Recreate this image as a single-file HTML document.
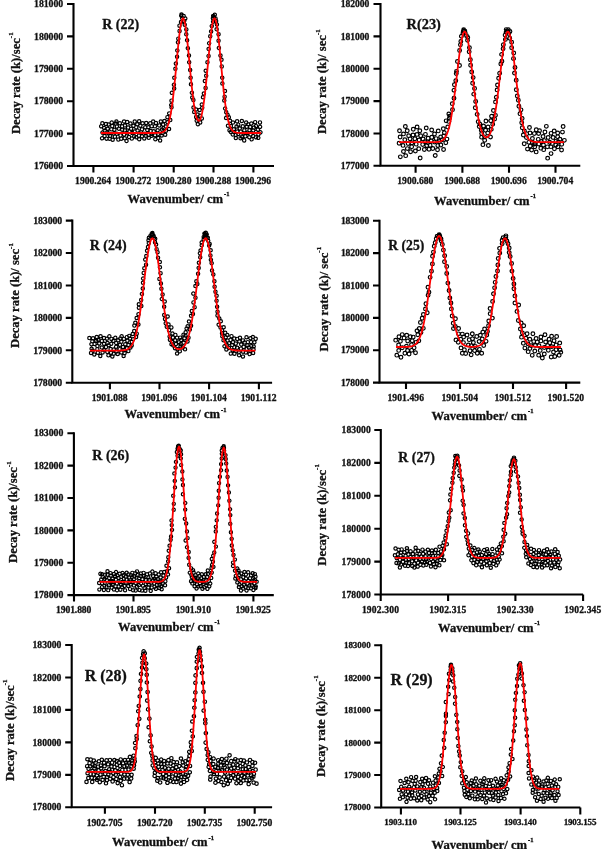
<!DOCTYPE html>
<html><head><meta charset="utf-8"><style>
html,body{margin:0;padding:0;background:#fff;width:602px;height:849px;overflow:hidden}
svg{display:block;filter:blur(0.35px)}
text{font-family:'Liberation Serif', serif;font-weight:bold;fill:#111;stroke:#111;stroke-width:0.3}
</style></head><body>
<svg width="602" height="849" viewBox="0 0 602 849">
<rect width="602" height="849" fill="#fff"/>
<path d='M99.52 126.29a1.65 1.65 0 1 0 3.3 0a1.65 1.65 0 1 0 -3.3 0M100.43 138.3a1.65 1.65 0 1 0 3.3 0a1.65 1.65 0 1 0 -3.3 0M100.85 132.57a1.65 1.65 0 1 0 3.3 0a1.65 1.65 0 1 0 -3.3 0M100.71 123.33a1.65 1.65 0 1 0 3.3 0a1.65 1.65 0 1 0 -3.3 0M102.48 128.05a1.65 1.65 0 1 0 3.3 0a1.65 1.65 0 1 0 -3.3 0M102.92 136.04a1.65 1.65 0 1 0 3.3 0a1.65 1.65 0 1 0 -3.3 0M103.1 130.47a1.65 1.65 0 1 0 3.3 0a1.65 1.65 0 1 0 -3.3 0M104.33 123.98a1.65 1.65 0 1 0 3.3 0a1.65 1.65 0 1 0 -3.3 0M104.89 138.63a1.65 1.65 0 1 0 3.3 0a1.65 1.65 0 1 0 -3.3 0M105.52 132.51a1.65 1.65 0 1 0 3.3 0a1.65 1.65 0 1 0 -3.3 0M106.06 128.75a1.65 1.65 0 1 0 3.3 0a1.65 1.65 0 1 0 -3.3 0M106.99 124.49a1.65 1.65 0 1 0 3.3 0a1.65 1.65 0 1 0 -3.3 0M107.02 133.58a1.65 1.65 0 1 0 3.3 0a1.65 1.65 0 1 0 -3.3 0M107.97 138.67a1.65 1.65 0 1 0 3.3 0a1.65 1.65 0 1 0 -3.3 0M108.48 135.98a1.65 1.65 0 1 0 3.3 0a1.65 1.65 0 1 0 -3.3 0M109.69 129.34a1.65 1.65 0 1 0 3.3 0a1.65 1.65 0 1 0 -3.3 0M110.08 122.59a1.65 1.65 0 1 0 3.3 0a1.65 1.65 0 1 0 -3.3 0M110.58 126.12a1.65 1.65 0 1 0 3.3 0a1.65 1.65 0 1 0 -3.3 0M111.01 139.81a1.65 1.65 0 1 0 3.3 0a1.65 1.65 0 1 0 -3.3 0M111.94 133.45a1.65 1.65 0 1 0 3.3 0a1.65 1.65 0 1 0 -3.3 0M112.74 129.82a1.65 1.65 0 1 0 3.3 0a1.65 1.65 0 1 0 -3.3 0M113.27 136.65a1.65 1.65 0 1 0 3.3 0a1.65 1.65 0 1 0 -3.3 0M114.73 121.49a1.65 1.65 0 1 0 3.3 0a1.65 1.65 0 1 0 -3.3 0M115.25 126.59a1.65 1.65 0 1 0 3.3 0a1.65 1.65 0 1 0 -3.3 0M114.06 123.55a1.65 1.65 0 1 0 3.3 0a1.65 1.65 0 1 0 -3.3 0M115.14 133.64a1.65 1.65 0 1 0 3.3 0a1.65 1.65 0 1 0 -3.3 0M116.67 139.61a1.65 1.65 0 1 0 3.3 0a1.65 1.65 0 1 0 -3.3 0M117.21 128.73a1.65 1.65 0 1 0 3.3 0a1.65 1.65 0 1 0 -3.3 0M118.2 123.25a1.65 1.65 0 1 0 3.3 0a1.65 1.65 0 1 0 -3.3 0M118.87 135.4a1.65 1.65 0 1 0 3.3 0a1.65 1.65 0 1 0 -3.3 0M120.49 126.35a1.65 1.65 0 1 0 3.3 0a1.65 1.65 0 1 0 -3.3 0M119.55 138.66a1.65 1.65 0 1 0 3.3 0a1.65 1.65 0 1 0 -3.3 0M120.58 129.82a1.65 1.65 0 1 0 3.3 0a1.65 1.65 0 1 0 -3.3 0M122.46 134.59a1.65 1.65 0 1 0 3.3 0a1.65 1.65 0 1 0 -3.3 0M122.43 121.46a1.65 1.65 0 1 0 3.3 0a1.65 1.65 0 1 0 -3.3 0M123.11 138.2a1.65 1.65 0 1 0 3.3 0a1.65 1.65 0 1 0 -3.3 0M123.19 130.33a1.65 1.65 0 1 0 3.3 0a1.65 1.65 0 1 0 -3.3 0M123.3 125.43a1.65 1.65 0 1 0 3.3 0a1.65 1.65 0 1 0 -3.3 0M124.87 140.96a1.65 1.65 0 1 0 3.3 0a1.65 1.65 0 1 0 -3.3 0M125.51 133.28a1.65 1.65 0 1 0 3.3 0a1.65 1.65 0 1 0 -3.3 0M125.51 122.04a1.65 1.65 0 1 0 3.3 0a1.65 1.65 0 1 0 -3.3 0M126.46 127.6a1.65 1.65 0 1 0 3.3 0a1.65 1.65 0 1 0 -3.3 0M127.43 137.04a1.65 1.65 0 1 0 3.3 0a1.65 1.65 0 1 0 -3.3 0M127.66 131.46a1.65 1.65 0 1 0 3.3 0a1.65 1.65 0 1 0 -3.3 0M128.76 123.5a1.65 1.65 0 1 0 3.3 0a1.65 1.65 0 1 0 -3.3 0M129.52 128.78a1.65 1.65 0 1 0 3.3 0a1.65 1.65 0 1 0 -3.3 0M130.16 138.6a1.65 1.65 0 1 0 3.3 0a1.65 1.65 0 1 0 -3.3 0M130.56 133.1a1.65 1.65 0 1 0 3.3 0a1.65 1.65 0 1 0 -3.3 0M131.78 125.71a1.65 1.65 0 1 0 3.3 0a1.65 1.65 0 1 0 -3.3 0M132.6 136.18a1.65 1.65 0 1 0 3.3 0a1.65 1.65 0 1 0 -3.3 0M132.98 131.44a1.65 1.65 0 1 0 3.3 0a1.65 1.65 0 1 0 -3.3 0M133.08 121.6a1.65 1.65 0 1 0 3.3 0a1.65 1.65 0 1 0 -3.3 0M134.53 127.35a1.65 1.65 0 1 0 3.3 0a1.65 1.65 0 1 0 -3.3 0M134.58 137.14a1.65 1.65 0 1 0 3.3 0a1.65 1.65 0 1 0 -3.3 0M135.94 130.44a1.65 1.65 0 1 0 3.3 0a1.65 1.65 0 1 0 -3.3 0M135.63 124.2a1.65 1.65 0 1 0 3.3 0a1.65 1.65 0 1 0 -3.3 0M137.3 135.64a1.65 1.65 0 1 0 3.3 0a1.65 1.65 0 1 0 -3.3 0M137.5 121.25a1.65 1.65 0 1 0 3.3 0a1.65 1.65 0 1 0 -3.3 0M137.55 139.23a1.65 1.65 0 1 0 3.3 0a1.65 1.65 0 1 0 -3.3 0M138.69 125.7a1.65 1.65 0 1 0 3.3 0a1.65 1.65 0 1 0 -3.3 0M139.54 132.41a1.65 1.65 0 1 0 3.3 0a1.65 1.65 0 1 0 -3.3 0M140.32 136.21a1.65 1.65 0 1 0 3.3 0a1.65 1.65 0 1 0 -3.3 0M140.37 129.35a1.65 1.65 0 1 0 3.3 0a1.65 1.65 0 1 0 -3.3 0M140.97 123.32a1.65 1.65 0 1 0 3.3 0a1.65 1.65 0 1 0 -3.3 0M142.29 133.63a1.65 1.65 0 1 0 3.3 0a1.65 1.65 0 1 0 -3.3 0M142.63 138.4a1.65 1.65 0 1 0 3.3 0a1.65 1.65 0 1 0 -3.3 0M143.65 127.29a1.65 1.65 0 1 0 3.3 0a1.65 1.65 0 1 0 -3.3 0M144.58 122.95a1.65 1.65 0 1 0 3.3 0a1.65 1.65 0 1 0 -3.3 0M144.05 135.68a1.65 1.65 0 1 0 3.3 0a1.65 1.65 0 1 0 -3.3 0M145.67 130.05a1.65 1.65 0 1 0 3.3 0a1.65 1.65 0 1 0 -3.3 0M146.82 135.02a1.65 1.65 0 1 0 3.3 0a1.65 1.65 0 1 0 -3.3 0M146.73 127.27a1.65 1.65 0 1 0 3.3 0a1.65 1.65 0 1 0 -3.3 0M147.15 137.85a1.65 1.65 0 1 0 3.3 0a1.65 1.65 0 1 0 -3.3 0M148.6 123.34a1.65 1.65 0 1 0 3.3 0a1.65 1.65 0 1 0 -3.3 0M149.02 130.93a1.65 1.65 0 1 0 3.3 0a1.65 1.65 0 1 0 -3.3 0M150.01 135.83a1.65 1.65 0 1 0 3.3 0a1.65 1.65 0 1 0 -3.3 0M150.06 126.15a1.65 1.65 0 1 0 3.3 0a1.65 1.65 0 1 0 -3.3 0M150.16 134.01a1.65 1.65 0 1 0 3.3 0a1.65 1.65 0 1 0 -3.3 0M151.51 121.53a1.65 1.65 0 1 0 3.3 0a1.65 1.65 0 1 0 -3.3 0M152.01 131.37a1.65 1.65 0 1 0 3.3 0a1.65 1.65 0 1 0 -3.3 0M153.29 126.34a1.65 1.65 0 1 0 3.3 0a1.65 1.65 0 1 0 -3.3 0M153.67 139.22a1.65 1.65 0 1 0 3.3 0a1.65 1.65 0 1 0 -3.3 0M153.43 135.2a1.65 1.65 0 1 0 3.3 0a1.65 1.65 0 1 0 -3.3 0M154.32 123.06a1.65 1.65 0 1 0 3.3 0a1.65 1.65 0 1 0 -3.3 0M156.03 130.21a1.65 1.65 0 1 0 3.3 0a1.65 1.65 0 1 0 -3.3 0M156.59 133.84a1.65 1.65 0 1 0 3.3 0a1.65 1.65 0 1 0 -3.3 0M156.6 137.97a1.65 1.65 0 1 0 3.3 0a1.65 1.65 0 1 0 -3.3 0M157.59 125.42a1.65 1.65 0 1 0 3.3 0a1.65 1.65 0 1 0 -3.3 0M158.48 140.43a1.65 1.65 0 1 0 3.3 0a1.65 1.65 0 1 0 -3.3 0M159.17 121.49a1.65 1.65 0 1 0 3.3 0a1.65 1.65 0 1 0 -3.3 0M160.04 135.48a1.65 1.65 0 1 0 3.3 0a1.65 1.65 0 1 0 -3.3 0M160.4 129.59a1.65 1.65 0 1 0 3.3 0a1.65 1.65 0 1 0 -3.3 0M160.89 133.05a1.65 1.65 0 1 0 3.3 0a1.65 1.65 0 1 0 -3.3 0M161.48 124.62a1.65 1.65 0 1 0 3.3 0a1.65 1.65 0 1 0 -3.3 0M162.81 120.95a1.65 1.65 0 1 0 3.3 0a1.65 1.65 0 1 0 -3.3 0M161.82 128.13a1.65 1.65 0 1 0 3.3 0a1.65 1.65 0 1 0 -3.3 0M163.55 134.77a1.65 1.65 0 1 0 3.3 0a1.65 1.65 0 1 0 -3.3 0M164.3 130.67a1.65 1.65 0 1 0 3.3 0a1.65 1.65 0 1 0 -3.3 0M164.24 126.53a1.65 1.65 0 1 0 3.3 0a1.65 1.65 0 1 0 -3.3 0M165.79 117.13a1.65 1.65 0 1 0 3.3 0a1.65 1.65 0 1 0 -3.3 0M165.97 122.31a1.65 1.65 0 1 0 3.3 0a1.65 1.65 0 1 0 -3.3 0M167.4 129.01a1.65 1.65 0 1 0 3.3 0a1.65 1.65 0 1 0 -3.3 0M167.57 113.38a1.65 1.65 0 1 0 3.3 0a1.65 1.65 0 1 0 -3.3 0M168.64 120.1a1.65 1.65 0 1 0 3.3 0a1.65 1.65 0 1 0 -3.3 0M169.58 105.01a1.65 1.65 0 1 0 3.3 0a1.65 1.65 0 1 0 -3.3 0M169.83 100.63a1.65 1.65 0 1 0 3.3 0a1.65 1.65 0 1 0 -3.3 0M169.87 107.21a1.65 1.65 0 1 0 3.3 0a1.65 1.65 0 1 0 -3.3 0M170.22 92.83a1.65 1.65 0 1 0 3.3 0a1.65 1.65 0 1 0 -3.3 0M172.53 88.49a1.65 1.65 0 1 0 3.3 0a1.65 1.65 0 1 0 -3.3 0M172.27 84.75a1.65 1.65 0 1 0 3.3 0a1.65 1.65 0 1 0 -3.3 0M172.65 77.8a1.65 1.65 0 1 0 3.3 0a1.65 1.65 0 1 0 -3.3 0M173.73 68.85a1.65 1.65 0 1 0 3.3 0a1.65 1.65 0 1 0 -3.3 0M174.23 63.62a1.65 1.65 0 1 0 3.3 0a1.65 1.65 0 1 0 -3.3 0M175.42 56.78a1.65 1.65 0 1 0 3.3 0a1.65 1.65 0 1 0 -3.3 0M175.68 50.39a1.65 1.65 0 1 0 3.3 0a1.65 1.65 0 1 0 -3.3 0M176.34 42.3a1.65 1.65 0 1 0 3.3 0a1.65 1.65 0 1 0 -3.3 0M176.65 38.63a1.65 1.65 0 1 0 3.3 0a1.65 1.65 0 1 0 -3.3 0M177.91 30.92a1.65 1.65 0 1 0 3.3 0a1.65 1.65 0 1 0 -3.3 0M177.83 25.64a1.65 1.65 0 1 0 3.3 0a1.65 1.65 0 1 0 -3.3 0M179.35 22.09a1.65 1.65 0 1 0 3.3 0a1.65 1.65 0 1 0 -3.3 0M180.45 18.04a1.65 1.65 0 1 0 3.3 0a1.65 1.65 0 1 0 -3.3 0M179.59 15.77a1.65 1.65 0 1 0 3.3 0a1.65 1.65 0 1 0 -3.3 0M179.79 14.61a1.65 1.65 0 1 0 3.3 0a1.65 1.65 0 1 0 -3.3 0M182 16.08a1.65 1.65 0 1 0 3.3 0a1.65 1.65 0 1 0 -3.3 0M183.64 18.39a1.65 1.65 0 1 0 3.3 0a1.65 1.65 0 1 0 -3.3 0M182.53 21.07a1.65 1.65 0 1 0 3.3 0a1.65 1.65 0 1 0 -3.3 0M183.08 24.7a1.65 1.65 0 1 0 3.3 0a1.65 1.65 0 1 0 -3.3 0M184.67 29.41a1.65 1.65 0 1 0 3.3 0a1.65 1.65 0 1 0 -3.3 0M184.62 34.33a1.65 1.65 0 1 0 3.3 0a1.65 1.65 0 1 0 -3.3 0M185.46 40.18a1.65 1.65 0 1 0 3.3 0a1.65 1.65 0 1 0 -3.3 0M186.21 48.16a1.65 1.65 0 1 0 3.3 0a1.65 1.65 0 1 0 -3.3 0M187.31 55.57a1.65 1.65 0 1 0 3.3 0a1.65 1.65 0 1 0 -3.3 0M187.52 62.27a1.65 1.65 0 1 0 3.3 0a1.65 1.65 0 1 0 -3.3 0M188.53 69.93a1.65 1.65 0 1 0 3.3 0a1.65 1.65 0 1 0 -3.3 0M188.97 77.78a1.65 1.65 0 1 0 3.3 0a1.65 1.65 0 1 0 -3.3 0M189.3 84.3a1.65 1.65 0 1 0 3.3 0a1.65 1.65 0 1 0 -3.3 0M190.24 92.73a1.65 1.65 0 1 0 3.3 0a1.65 1.65 0 1 0 -3.3 0M190.59 97.45a1.65 1.65 0 1 0 3.3 0a1.65 1.65 0 1 0 -3.3 0M191.74 100.09a1.65 1.65 0 1 0 3.3 0a1.65 1.65 0 1 0 -3.3 0M191.84 107.57a1.65 1.65 0 1 0 3.3 0a1.65 1.65 0 1 0 -3.3 0M192.53 112.04a1.65 1.65 0 1 0 3.3 0a1.65 1.65 0 1 0 -3.3 0M194.47 116.9a1.65 1.65 0 1 0 3.3 0a1.65 1.65 0 1 0 -3.3 0M194.39 109.53a1.65 1.65 0 1 0 3.3 0a1.65 1.65 0 1 0 -3.3 0M195.06 120.67a1.65 1.65 0 1 0 3.3 0a1.65 1.65 0 1 0 -3.3 0M196.01 114.43a1.65 1.65 0 1 0 3.3 0a1.65 1.65 0 1 0 -3.3 0M196.21 124.14a1.65 1.65 0 1 0 3.3 0a1.65 1.65 0 1 0 -3.3 0M196.98 119.56a1.65 1.65 0 1 0 3.3 0a1.65 1.65 0 1 0 -3.3 0M197.97 109.99a1.65 1.65 0 1 0 3.3 0a1.65 1.65 0 1 0 -3.3 0M198.57 122.42a1.65 1.65 0 1 0 3.3 0a1.65 1.65 0 1 0 -3.3 0M198.52 115.71a1.65 1.65 0 1 0 3.3 0a1.65 1.65 0 1 0 -3.3 0M200.19 118.39a1.65 1.65 0 1 0 3.3 0a1.65 1.65 0 1 0 -3.3 0M200.14 104.48a1.65 1.65 0 1 0 3.3 0a1.65 1.65 0 1 0 -3.3 0M200.58 107.76a1.65 1.65 0 1 0 3.3 0a1.65 1.65 0 1 0 -3.3 0M201.33 97.28a1.65 1.65 0 1 0 3.3 0a1.65 1.65 0 1 0 -3.3 0M202.25 93.46a1.65 1.65 0 1 0 3.3 0a1.65 1.65 0 1 0 -3.3 0M203.93 87.97a1.65 1.65 0 1 0 3.3 0a1.65 1.65 0 1 0 -3.3 0M203.2 81.04a1.65 1.65 0 1 0 3.3 0a1.65 1.65 0 1 0 -3.3 0M204.53 75.72a1.65 1.65 0 1 0 3.3 0a1.65 1.65 0 1 0 -3.3 0M204.06 70.77a1.65 1.65 0 1 0 3.3 0a1.65 1.65 0 1 0 -3.3 0M205.79 62.3a1.65 1.65 0 1 0 3.3 0a1.65 1.65 0 1 0 -3.3 0M206.91 56.03a1.65 1.65 0 1 0 3.3 0a1.65 1.65 0 1 0 -3.3 0M207.01 48.96a1.65 1.65 0 1 0 3.3 0a1.65 1.65 0 1 0 -3.3 0M207.49 43.28a1.65 1.65 0 1 0 3.3 0a1.65 1.65 0 1 0 -3.3 0M208.59 36.31a1.65 1.65 0 1 0 3.3 0a1.65 1.65 0 1 0 -3.3 0M209.49 31.43a1.65 1.65 0 1 0 3.3 0a1.65 1.65 0 1 0 -3.3 0M210.14 26.1a1.65 1.65 0 1 0 3.3 0a1.65 1.65 0 1 0 -3.3 0M211.47 21.65a1.65 1.65 0 1 0 3.3 0a1.65 1.65 0 1 0 -3.3 0M211.25 18.17a1.65 1.65 0 1 0 3.3 0a1.65 1.65 0 1 0 -3.3 0M211.52 15.9a1.65 1.65 0 1 0 3.3 0a1.65 1.65 0 1 0 -3.3 0M212.43 17.04a1.65 1.65 0 1 0 3.3 0a1.65 1.65 0 1 0 -3.3 0M213.12 14.71a1.65 1.65 0 1 0 3.3 0a1.65 1.65 0 1 0 -3.3 0M213.88 18.41a1.65 1.65 0 1 0 3.3 0a1.65 1.65 0 1 0 -3.3 0M214.48 20.92a1.65 1.65 0 1 0 3.3 0a1.65 1.65 0 1 0 -3.3 0M215.25 24.51a1.65 1.65 0 1 0 3.3 0a1.65 1.65 0 1 0 -3.3 0M215 29.18a1.65 1.65 0 1 0 3.3 0a1.65 1.65 0 1 0 -3.3 0M216.92 34.3a1.65 1.65 0 1 0 3.3 0a1.65 1.65 0 1 0 -3.3 0M216.89 40.81a1.65 1.65 0 1 0 3.3 0a1.65 1.65 0 1 0 -3.3 0M217.26 47.96a1.65 1.65 0 1 0 3.3 0a1.65 1.65 0 1 0 -3.3 0M218.83 55.56a1.65 1.65 0 1 0 3.3 0a1.65 1.65 0 1 0 -3.3 0M219.84 59.86a1.65 1.65 0 1 0 3.3 0a1.65 1.65 0 1 0 -3.3 0M220.1 66.4a1.65 1.65 0 1 0 3.3 0a1.65 1.65 0 1 0 -3.3 0M220.6 77.71a1.65 1.65 0 1 0 3.3 0a1.65 1.65 0 1 0 -3.3 0M220.72 83.59a1.65 1.65 0 1 0 3.3 0a1.65 1.65 0 1 0 -3.3 0M223.3 91.06a1.65 1.65 0 1 0 3.3 0a1.65 1.65 0 1 0 -3.3 0M222.97 96.64a1.65 1.65 0 1 0 3.3 0a1.65 1.65 0 1 0 -3.3 0M222.63 100.47a1.65 1.65 0 1 0 3.3 0a1.65 1.65 0 1 0 -3.3 0M223.48 108.47a1.65 1.65 0 1 0 3.3 0a1.65 1.65 0 1 0 -3.3 0M224.58 112.32a1.65 1.65 0 1 0 3.3 0a1.65 1.65 0 1 0 -3.3 0M224.43 118.04a1.65 1.65 0 1 0 3.3 0a1.65 1.65 0 1 0 -3.3 0M225.96 114.93a1.65 1.65 0 1 0 3.3 0a1.65 1.65 0 1 0 -3.3 0M226.32 125.84a1.65 1.65 0 1 0 3.3 0a1.65 1.65 0 1 0 -3.3 0M227.83 130.35a1.65 1.65 0 1 0 3.3 0a1.65 1.65 0 1 0 -3.3 0M228.37 120.69a1.65 1.65 0 1 0 3.3 0a1.65 1.65 0 1 0 -3.3 0M227.2 117.13a1.65 1.65 0 1 0 3.3 0a1.65 1.65 0 1 0 -3.3 0M229.25 125.97a1.65 1.65 0 1 0 3.3 0a1.65 1.65 0 1 0 -3.3 0M229.09 132.03a1.65 1.65 0 1 0 3.3 0a1.65 1.65 0 1 0 -3.3 0M231.12 134.48a1.65 1.65 0 1 0 3.3 0a1.65 1.65 0 1 0 -3.3 0M231.32 122.61a1.65 1.65 0 1 0 3.3 0a1.65 1.65 0 1 0 -3.3 0M232.18 129.32a1.65 1.65 0 1 0 3.3 0a1.65 1.65 0 1 0 -3.3 0M232.04 131.98a1.65 1.65 0 1 0 3.3 0a1.65 1.65 0 1 0 -3.3 0M234.16 137.99a1.65 1.65 0 1 0 3.3 0a1.65 1.65 0 1 0 -3.3 0M234.92 126.52a1.65 1.65 0 1 0 3.3 0a1.65 1.65 0 1 0 -3.3 0M234.05 135.04a1.65 1.65 0 1 0 3.3 0a1.65 1.65 0 1 0 -3.3 0M235.44 121.35a1.65 1.65 0 1 0 3.3 0a1.65 1.65 0 1 0 -3.3 0M235.58 131.57a1.65 1.65 0 1 0 3.3 0a1.65 1.65 0 1 0 -3.3 0M236.58 133.97a1.65 1.65 0 1 0 3.3 0a1.65 1.65 0 1 0 -3.3 0M236.63 124.67a1.65 1.65 0 1 0 3.3 0a1.65 1.65 0 1 0 -3.3 0M238.86 138.29a1.65 1.65 0 1 0 3.3 0a1.65 1.65 0 1 0 -3.3 0M238.11 128.53a1.65 1.65 0 1 0 3.3 0a1.65 1.65 0 1 0 -3.3 0M239.12 131.64a1.65 1.65 0 1 0 3.3 0a1.65 1.65 0 1 0 -3.3 0M240.19 121.07a1.65 1.65 0 1 0 3.3 0a1.65 1.65 0 1 0 -3.3 0M240.28 136.73a1.65 1.65 0 1 0 3.3 0a1.65 1.65 0 1 0 -3.3 0M241.16 126.37a1.65 1.65 0 1 0 3.3 0a1.65 1.65 0 1 0 -3.3 0M241.66 133.28a1.65 1.65 0 1 0 3.3 0a1.65 1.65 0 1 0 -3.3 0M242.55 140.38a1.65 1.65 0 1 0 3.3 0a1.65 1.65 0 1 0 -3.3 0M242.7 130.24a1.65 1.65 0 1 0 3.3 0a1.65 1.65 0 1 0 -3.3 0M243.73 136.33a1.65 1.65 0 1 0 3.3 0a1.65 1.65 0 1 0 -3.3 0M244.52 122.47a1.65 1.65 0 1 0 3.3 0a1.65 1.65 0 1 0 -3.3 0M245.12 126.79a1.65 1.65 0 1 0 3.3 0a1.65 1.65 0 1 0 -3.3 0M245.99 132.83a1.65 1.65 0 1 0 3.3 0a1.65 1.65 0 1 0 -3.3 0M246.48 124.25a1.65 1.65 0 1 0 3.3 0a1.65 1.65 0 1 0 -3.3 0M247.68 137.15a1.65 1.65 0 1 0 3.3 0a1.65 1.65 0 1 0 -3.3 0M247.81 130.26a1.65 1.65 0 1 0 3.3 0a1.65 1.65 0 1 0 -3.3 0M248.57 127.02a1.65 1.65 0 1 0 3.3 0a1.65 1.65 0 1 0 -3.3 0M248.98 134.4a1.65 1.65 0 1 0 3.3 0a1.65 1.65 0 1 0 -3.3 0M249.71 123.54a1.65 1.65 0 1 0 3.3 0a1.65 1.65 0 1 0 -3.3 0M250.01 139.37a1.65 1.65 0 1 0 3.3 0a1.65 1.65 0 1 0 -3.3 0M251.58 130.38a1.65 1.65 0 1 0 3.3 0a1.65 1.65 0 1 0 -3.3 0M251.41 136.03a1.65 1.65 0 1 0 3.3 0a1.65 1.65 0 1 0 -3.3 0M252.28 127.6a1.65 1.65 0 1 0 3.3 0a1.65 1.65 0 1 0 -3.3 0M253.5 122.14a1.65 1.65 0 1 0 3.3 0a1.65 1.65 0 1 0 -3.3 0M254.2 131.99a1.65 1.65 0 1 0 3.3 0a1.65 1.65 0 1 0 -3.3 0M254.46 137.3a1.65 1.65 0 1 0 3.3 0a1.65 1.65 0 1 0 -3.3 0M254.32 126.1a1.65 1.65 0 1 0 3.3 0a1.65 1.65 0 1 0 -3.3 0M256.21 129.63a1.65 1.65 0 1 0 3.3 0a1.65 1.65 0 1 0 -3.3 0M256.8 134.32a1.65 1.65 0 1 0 3.3 0a1.65 1.65 0 1 0 -3.3 0M256.64 137.85a1.65 1.65 0 1 0 3.3 0a1.65 1.65 0 1 0 -3.3 0M258.4 126.87a1.65 1.65 0 1 0 3.3 0a1.65 1.65 0 1 0 -3.3 0M258.33 122.38a1.65 1.65 0 1 0 3.3 0a1.65 1.65 0 1 0 -3.3 0M258.79 132.29a1.65 1.65 0 1 0 3.3 0a1.65 1.65 0 1 0 -3.3 0' fill='#fff' stroke='#000' stroke-width='1.2'/>
<path d='M101 133 101.54 133 102.07 133 102.61 133 103.14 133 103.68 133 104.21 133 104.75 133 105.28 133 105.82 133 106.35 133 106.89 133 107.42 133 107.96 133 108.49 133 109.03 133 109.56 133 110.1 133 110.63 133 111.17 133 111.7 133 112.24 133 112.77 133 113.31 133 113.84 133 114.38 133 114.91 133 115.45 133 115.98 133 116.52 133 117.05 133 117.59 133 118.12 133 118.66 133 119.19 133 119.73 133 120.26 133 120.8 133 121.33 133 121.87 133 122.4 133 122.94 133 123.47 133 124.01 133 124.55 133 125.08 133 125.62 133 126.15 133 126.69 133 127.22 133 127.76 133 128.29 133 128.83 133 129.36 133 129.9 133 130.43 133 130.97 133 131.5 133 132.04 133 132.57 133 133.11 133 133.64 133 134.18 133 134.71 133 135.25 133 135.78 133 136.32 133 136.85 133 137.39 133 137.92 133 138.46 133 138.99 133 139.53 133 140.06 133 140.6 133 141.13 133 141.67 133 142.2 133 142.74 133 143.27 133 143.81 133 144.34 133 144.88 133 145.41 133 145.95 133 146.48 133 147.02 133 147.56 133 148.09 133 148.63 133 149.16 133 149.7 133 150.23 133 150.77 133 151.3 133 151.84 133 152.37 133 152.91 133 153.44 133 153.98 132.99 154.51 132.99 155.05 132.99 155.58 132.98 156.12 132.98 156.65 132.97 157.19 132.96 157.72 132.94 158.26 132.92 158.79 132.89 159.33 132.85 159.86 132.8 160.4 132.73 160.93 132.64 161.47 132.52 162 132.38 162.54 132.19 163.07 131.96 163.61 131.66 164.14 131.29 164.68 130.84 165.21 130.29 165.75 129.61 166.28 128.8 166.82 127.82 167.35 126.67 167.89 125.31 168.42 123.72 168.96 121.87 169.49 119.75 170.03 117.33 170.57 114.6 171.1 111.53 171.64 108.12 172.17 104.37 172.71 100.27 173.24 95.84 173.78 91.09 174.31 86.06 174.85 80.78 175.38 75.29 175.92 69.66 176.45 63.95 176.99 58.23 177.52 52.59 178.06 47.1 178.59 41.86 179.13 36.96 179.66 32.47 180.2 28.48 180.73 25.07 181.27 22.3 181.8 20.23 182.34 18.89 182.87 18.32 183.41 18.52 183.94 19.5 184.48 21.23 185.01 23.67 185.55 26.78 186.08 30.5 186.62 34.75 187.15 39.47 187.69 44.55 188.22 49.93 188.76 55.49 189.29 61.17 189.83 66.87 190.36 72.52 190.9 78.04 191.43 83.37 191.97 88.46 192.51 93.25 193.04 97.72 193.58 101.82 194.11 105.55 194.65 108.88 195.18 111.8 195.72 114.31 196.25 116.41 196.79 118.1 197.32 119.38 197.86 120.26 198.39 120.73 198.93 120.8 199.46 120.46 200 119.73 200.53 118.58 201.07 117.03 201.6 115.07 202.14 112.7 202.67 109.92 203.21 106.73 203.74 103.13 204.28 99.16 204.81 94.81 205.35 90.12 205.88 85.13 206.42 79.88 206.95 74.41 207.49 68.8 208.02 63.11 208.56 57.42 209.09 51.8 209.63 46.36 210.16 41.16 210.7 36.31 211.23 31.89 211.77 27.98 212.3 24.66 212.84 21.98 213.37 20 213.91 18.77 214.44 18.3 214.98 18.61 215.52 19.69 216.05 21.52 216.59 24.05 217.12 27.25 217.66 31.05 218.19 35.38 218.73 40.15 219.26 45.29 219.8 50.7 220.33 56.3 220.87 62 221.4 67.72 221.94 73.39 222.47 78.93 223.01 84.29 223.54 89.41 224.08 94.26 224.61 98.8 225.15 103.01 225.68 106.88 226.22 110.41 226.75 113.59 227.29 116.44 227.82 118.96 228.36 121.18 228.89 123.12 229.43 124.79 229.96 126.23 230.5 127.45 231.03 128.49 231.57 129.35 232.1 130.07 232.64 130.66 233.17 131.15 233.71 131.54 234.24 131.86 234.78 132.12 235.31 132.32 235.85 132.48 236.38 132.6 236.92 132.7 237.45 132.78 237.99 132.83 238.53 132.88 239.06 132.91 239.6 132.93 240.13 132.95 240.67 132.97 241.2 132.98 241.74 132.98 242.27 132.99 242.81 132.99 243.34 132.99 243.88 133 244.41 133 244.95 133 245.48 133 246.02 133 246.55 133 247.09 133 247.62 133 248.16 133 248.69 133 249.23 133 249.76 133 250.3 133 250.83 133 251.37 133 251.9 133 252.44 133 252.97 133 253.51 133 254.04 133 254.58 133 255.11 133 255.65 133 256.18 133 256.72 133 257.25 133 257.79 133 258.32 133 258.86 133 259.39 133 259.93 133 260.46 133 261 133' fill='none' stroke='#f00' stroke-width='1.8'/>
<path d='M73.5 3V166H274' fill='none' stroke='#000' stroke-width='2.1'/>
<path d='M67 166H73.5M67 133.6H73.5M67 101.2H73.5M67 68.8H73.5M67 36.4H73.5M67 4H73.5M93.4 166V172.5M133.6 166V172.5M173.7 166V172.5M213.5 166V172.5M253.4 166V172.5' fill='none' stroke='#000' stroke-width='2.1'/>
<text x='34.12' y='169.23' font-size='9.8' textLength='28.98' lengthAdjust='spacing'>176000</text>
<text x='34.12' y='136.83' font-size='9.8' textLength='28.98' lengthAdjust='spacing'>177000</text>
<text x='34.12' y='104.43' font-size='9.8' textLength='28.98' lengthAdjust='spacing'>178000</text>
<text x='34.12' y='72.03' font-size='9.8' textLength='28.98' lengthAdjust='spacing'>179000</text>
<text x='34.12' y='39.63' font-size='9.8' textLength='28.98' lengthAdjust='spacing'>180000</text>
<text x='34.12' y='7.23' font-size='9.8' textLength='28.98' lengthAdjust='spacing'>181000</text>
<text x='75.08' y='183.8' font-size='9.6' textLength='36.06' lengthAdjust='spacing'>1900.264</text>
<text x='115.28' y='183.8' font-size='9.6' textLength='36.06' lengthAdjust='spacing'>1900.272</text>
<text x='155.38' y='183.8' font-size='9.6' textLength='36.06' lengthAdjust='spacing'>1900.280</text>
<text x='195.18' y='183.8' font-size='9.6' textLength='36.06' lengthAdjust='spacing'>1900.288</text>
<text x='235.08' y='183.8' font-size='9.6' textLength='36.06' lengthAdjust='spacing'>1900.296</text>
<text x='102.2' y='28.5' font-size='14' textLength='36.9' lengthAdjust='spacingAndGlyphs'>R (22)</text>
<text x='127.6' y='202.5' font-size='12.6'>Wavenumber/ cm<tspan font-size='6.5' dx='1' dy='-6.8'>-1</tspan></text>
<text transform='translate(19.8 134) rotate(-90)' font-size='12.6'>Decay rate (k)/sec<tspan font-size='7' dy='-6.5'>-1</tspan></text>
<path d='M397.24 143.28a1.85 1.85 0 1 0 3.7 0a1.85 1.85 0 1 0 -3.7 0M397.66 130.73a1.85 1.85 0 1 0 3.7 0a1.85 1.85 0 1 0 -3.7 0M398.49 156.85a1.85 1.85 0 1 0 3.7 0a1.85 1.85 0 1 0 -3.7 0M398.25 137.02a1.85 1.85 0 1 0 3.7 0a1.85 1.85 0 1 0 -3.7 0M401.15 145.38a1.85 1.85 0 1 0 3.7 0a1.85 1.85 0 1 0 -3.7 0M401.6 151.43a1.85 1.85 0 1 0 3.7 0a1.85 1.85 0 1 0 -3.7 0M401.64 133.88a1.85 1.85 0 1 0 3.7 0a1.85 1.85 0 1 0 -3.7 0M402.96 139.81a1.85 1.85 0 1 0 3.7 0a1.85 1.85 0 1 0 -3.7 0M403.49 126.43a1.85 1.85 0 1 0 3.7 0a1.85 1.85 0 1 0 -3.7 0M403.84 155.64a1.85 1.85 0 1 0 3.7 0a1.85 1.85 0 1 0 -3.7 0M405.39 130.69a1.85 1.85 0 1 0 3.7 0a1.85 1.85 0 1 0 -3.7 0M405.52 148.59a1.85 1.85 0 1 0 3.7 0a1.85 1.85 0 1 0 -3.7 0M406.28 143.62a1.85 1.85 0 1 0 3.7 0a1.85 1.85 0 1 0 -3.7 0M406.82 135.78a1.85 1.85 0 1 0 3.7 0a1.85 1.85 0 1 0 -3.7 0M408.22 138.84a1.85 1.85 0 1 0 3.7 0a1.85 1.85 0 1 0 -3.7 0M408.72 151.69a1.85 1.85 0 1 0 3.7 0a1.85 1.85 0 1 0 -3.7 0M409.82 146.76a1.85 1.85 0 1 0 3.7 0a1.85 1.85 0 1 0 -3.7 0M410.02 142.71a1.85 1.85 0 1 0 3.7 0a1.85 1.85 0 1 0 -3.7 0M411.16 135.06a1.85 1.85 0 1 0 3.7 0a1.85 1.85 0 1 0 -3.7 0M411.42 129.31a1.85 1.85 0 1 0 3.7 0a1.85 1.85 0 1 0 -3.7 0M413.06 138.75a1.85 1.85 0 1 0 3.7 0a1.85 1.85 0 1 0 -3.7 0M413.51 151.04a1.85 1.85 0 1 0 3.7 0a1.85 1.85 0 1 0 -3.7 0M414.36 144.17a1.85 1.85 0 1 0 3.7 0a1.85 1.85 0 1 0 -3.7 0M415.17 134.39a1.85 1.85 0 1 0 3.7 0a1.85 1.85 0 1 0 -3.7 0M415.24 127.02a1.85 1.85 0 1 0 3.7 0a1.85 1.85 0 1 0 -3.7 0M416.91 148.63a1.85 1.85 0 1 0 3.7 0a1.85 1.85 0 1 0 -3.7 0M418.32 158.01a1.85 1.85 0 1 0 3.7 0a1.85 1.85 0 1 0 -3.7 0M417.25 139.93a1.85 1.85 0 1 0 3.7 0a1.85 1.85 0 1 0 -3.7 0M417.98 130.69a1.85 1.85 0 1 0 3.7 0a1.85 1.85 0 1 0 -3.7 0M418.86 135.71a1.85 1.85 0 1 0 3.7 0a1.85 1.85 0 1 0 -3.7 0M420.81 144.56a1.85 1.85 0 1 0 3.7 0a1.85 1.85 0 1 0 -3.7 0M421.23 138.93a1.85 1.85 0 1 0 3.7 0a1.85 1.85 0 1 0 -3.7 0M422.48 149.56a1.85 1.85 0 1 0 3.7 0a1.85 1.85 0 1 0 -3.7 0M423.07 141.82a1.85 1.85 0 1 0 3.7 0a1.85 1.85 0 1 0 -3.7 0M423.59 134.37a1.85 1.85 0 1 0 3.7 0a1.85 1.85 0 1 0 -3.7 0M424.4 127.93a1.85 1.85 0 1 0 3.7 0a1.85 1.85 0 1 0 -3.7 0M424.95 145.55a1.85 1.85 0 1 0 3.7 0a1.85 1.85 0 1 0 -3.7 0M426.25 138.16a1.85 1.85 0 1 0 3.7 0a1.85 1.85 0 1 0 -3.7 0M426.02 142.78a1.85 1.85 0 1 0 3.7 0a1.85 1.85 0 1 0 -3.7 0M427.15 149.3a1.85 1.85 0 1 0 3.7 0a1.85 1.85 0 1 0 -3.7 0M428.26 145.25a1.85 1.85 0 1 0 3.7 0a1.85 1.85 0 1 0 -3.7 0M429.81 130.03a1.85 1.85 0 1 0 3.7 0a1.85 1.85 0 1 0 -3.7 0M429.3 140.9a1.85 1.85 0 1 0 3.7 0a1.85 1.85 0 1 0 -3.7 0M429.92 137.28a1.85 1.85 0 1 0 3.7 0a1.85 1.85 0 1 0 -3.7 0M430.95 148.53a1.85 1.85 0 1 0 3.7 0a1.85 1.85 0 1 0 -3.7 0M432.49 142.02a1.85 1.85 0 1 0 3.7 0a1.85 1.85 0 1 0 -3.7 0M432.67 134.05a1.85 1.85 0 1 0 3.7 0a1.85 1.85 0 1 0 -3.7 0M434.22 138.61a1.85 1.85 0 1 0 3.7 0a1.85 1.85 0 1 0 -3.7 0M433.4 155.47a1.85 1.85 0 1 0 3.7 0a1.85 1.85 0 1 0 -3.7 0M435.67 149.75a1.85 1.85 0 1 0 3.7 0a1.85 1.85 0 1 0 -3.7 0M436.4 130.91a1.85 1.85 0 1 0 3.7 0a1.85 1.85 0 1 0 -3.7 0M435.95 145.54a1.85 1.85 0 1 0 3.7 0a1.85 1.85 0 1 0 -3.7 0M437.51 141.52a1.85 1.85 0 1 0 3.7 0a1.85 1.85 0 1 0 -3.7 0M438.81 136.91a1.85 1.85 0 1 0 3.7 0a1.85 1.85 0 1 0 -3.7 0M439.02 145.04a1.85 1.85 0 1 0 3.7 0a1.85 1.85 0 1 0 -3.7 0M440.26 139.7a1.85 1.85 0 1 0 3.7 0a1.85 1.85 0 1 0 -3.7 0M441.72 149.52a1.85 1.85 0 1 0 3.7 0a1.85 1.85 0 1 0 -3.7 0M441.44 128.72a1.85 1.85 0 1 0 3.7 0a1.85 1.85 0 1 0 -3.7 0M441.94 135.9a1.85 1.85 0 1 0 3.7 0a1.85 1.85 0 1 0 -3.7 0M442.47 132.79a1.85 1.85 0 1 0 3.7 0a1.85 1.85 0 1 0 -3.7 0M443.95 142.87a1.85 1.85 0 1 0 3.7 0a1.85 1.85 0 1 0 -3.7 0M444.31 120.86a1.85 1.85 0 1 0 3.7 0a1.85 1.85 0 1 0 -3.7 0M445.09 139.08a1.85 1.85 0 1 0 3.7 0a1.85 1.85 0 1 0 -3.7 0M445.9 127.01a1.85 1.85 0 1 0 3.7 0a1.85 1.85 0 1 0 -3.7 0M447.05 121.42a1.85 1.85 0 1 0 3.7 0a1.85 1.85 0 1 0 -3.7 0M446.97 113.94a1.85 1.85 0 1 0 3.7 0a1.85 1.85 0 1 0 -3.7 0M447.51 118.32a1.85 1.85 0 1 0 3.7 0a1.85 1.85 0 1 0 -3.7 0M447.83 116.19a1.85 1.85 0 1 0 3.7 0a1.85 1.85 0 1 0 -3.7 0M450.43 103.64a1.85 1.85 0 1 0 3.7 0a1.85 1.85 0 1 0 -3.7 0M450.64 109.63a1.85 1.85 0 1 0 3.7 0a1.85 1.85 0 1 0 -3.7 0M452.13 98.21a1.85 1.85 0 1 0 3.7 0a1.85 1.85 0 1 0 -3.7 0M452.15 90.17a1.85 1.85 0 1 0 3.7 0a1.85 1.85 0 1 0 -3.7 0M452.55 84.71a1.85 1.85 0 1 0 3.7 0a1.85 1.85 0 1 0 -3.7 0M453.94 80.65a1.85 1.85 0 1 0 3.7 0a1.85 1.85 0 1 0 -3.7 0M454.44 73.53a1.85 1.85 0 1 0 3.7 0a1.85 1.85 0 1 0 -3.7 0M454.62 71.39a1.85 1.85 0 1 0 3.7 0a1.85 1.85 0 1 0 -3.7 0M455.58 61.5a1.85 1.85 0 1 0 3.7 0a1.85 1.85 0 1 0 -3.7 0M457.68 65.46a1.85 1.85 0 1 0 3.7 0a1.85 1.85 0 1 0 -3.7 0M457.75 50.53a1.85 1.85 0 1 0 3.7 0a1.85 1.85 0 1 0 -3.7 0M458.56 44.83a1.85 1.85 0 1 0 3.7 0a1.85 1.85 0 1 0 -3.7 0M458.98 41.39a1.85 1.85 0 1 0 3.7 0a1.85 1.85 0 1 0 -3.7 0M459.55 36.17a1.85 1.85 0 1 0 3.7 0a1.85 1.85 0 1 0 -3.7 0M461.12 33.2a1.85 1.85 0 1 0 3.7 0a1.85 1.85 0 1 0 -3.7 0M461.39 31.22a1.85 1.85 0 1 0 3.7 0a1.85 1.85 0 1 0 -3.7 0M461.84 29.64a1.85 1.85 0 1 0 3.7 0a1.85 1.85 0 1 0 -3.7 0M462.93 30.84a1.85 1.85 0 1 0 3.7 0a1.85 1.85 0 1 0 -3.7 0M463.32 32.61a1.85 1.85 0 1 0 3.7 0a1.85 1.85 0 1 0 -3.7 0M464.64 35.69a1.85 1.85 0 1 0 3.7 0a1.85 1.85 0 1 0 -3.7 0M465.88 37.41a1.85 1.85 0 1 0 3.7 0a1.85 1.85 0 1 0 -3.7 0M465.68 40.3a1.85 1.85 0 1 0 3.7 0a1.85 1.85 0 1 0 -3.7 0M467.58 47.63a1.85 1.85 0 1 0 3.7 0a1.85 1.85 0 1 0 -3.7 0M467.31 51.84a1.85 1.85 0 1 0 3.7 0a1.85 1.85 0 1 0 -3.7 0M468.49 59.76a1.85 1.85 0 1 0 3.7 0a1.85 1.85 0 1 0 -3.7 0M468.77 65.27a1.85 1.85 0 1 0 3.7 0a1.85 1.85 0 1 0 -3.7 0M469.86 72.07a1.85 1.85 0 1 0 3.7 0a1.85 1.85 0 1 0 -3.7 0M470.77 83.29a1.85 1.85 0 1 0 3.7 0a1.85 1.85 0 1 0 -3.7 0M471.3 77.59a1.85 1.85 0 1 0 3.7 0a1.85 1.85 0 1 0 -3.7 0M471.94 94.13a1.85 1.85 0 1 0 3.7 0a1.85 1.85 0 1 0 -3.7 0M472.73 88.4a1.85 1.85 0 1 0 3.7 0a1.85 1.85 0 1 0 -3.7 0M473.43 107.81a1.85 1.85 0 1 0 3.7 0a1.85 1.85 0 1 0 -3.7 0M473.83 101.5a1.85 1.85 0 1 0 3.7 0a1.85 1.85 0 1 0 -3.7 0M475.26 114.35a1.85 1.85 0 1 0 3.7 0a1.85 1.85 0 1 0 -3.7 0M476.36 121.67a1.85 1.85 0 1 0 3.7 0a1.85 1.85 0 1 0 -3.7 0M477.39 126.57a1.85 1.85 0 1 0 3.7 0a1.85 1.85 0 1 0 -3.7 0M478.04 124.11a1.85 1.85 0 1 0 3.7 0a1.85 1.85 0 1 0 -3.7 0M479.72 137.14a1.85 1.85 0 1 0 3.7 0a1.85 1.85 0 1 0 -3.7 0M479.42 130.17a1.85 1.85 0 1 0 3.7 0a1.85 1.85 0 1 0 -3.7 0M479.81 133.47a1.85 1.85 0 1 0 3.7 0a1.85 1.85 0 1 0 -3.7 0M481.75 126.04a1.85 1.85 0 1 0 3.7 0a1.85 1.85 0 1 0 -3.7 0M481.06 144.64a1.85 1.85 0 1 0 3.7 0a1.85 1.85 0 1 0 -3.7 0M482.85 140.25a1.85 1.85 0 1 0 3.7 0a1.85 1.85 0 1 0 -3.7 0M482.66 136.86a1.85 1.85 0 1 0 3.7 0a1.85 1.85 0 1 0 -3.7 0M484.09 121.01a1.85 1.85 0 1 0 3.7 0a1.85 1.85 0 1 0 -3.7 0M483.7 130.22a1.85 1.85 0 1 0 3.7 0a1.85 1.85 0 1 0 -3.7 0M485.91 132.94a1.85 1.85 0 1 0 3.7 0a1.85 1.85 0 1 0 -3.7 0M486.16 126.93a1.85 1.85 0 1 0 3.7 0a1.85 1.85 0 1 0 -3.7 0M486.53 145.56a1.85 1.85 0 1 0 3.7 0a1.85 1.85 0 1 0 -3.7 0M488.62 136.99a1.85 1.85 0 1 0 3.7 0a1.85 1.85 0 1 0 -3.7 0M488.94 120.7a1.85 1.85 0 1 0 3.7 0a1.85 1.85 0 1 0 -3.7 0M489.36 129.39a1.85 1.85 0 1 0 3.7 0a1.85 1.85 0 1 0 -3.7 0M489.74 116.22a1.85 1.85 0 1 0 3.7 0a1.85 1.85 0 1 0 -3.7 0M490.86 124.17a1.85 1.85 0 1 0 3.7 0a1.85 1.85 0 1 0 -3.7 0M491.58 110.54a1.85 1.85 0 1 0 3.7 0a1.85 1.85 0 1 0 -3.7 0M492.79 119.09a1.85 1.85 0 1 0 3.7 0a1.85 1.85 0 1 0 -3.7 0M493.61 115.37a1.85 1.85 0 1 0 3.7 0a1.85 1.85 0 1 0 -3.7 0M493.65 101.88a1.85 1.85 0 1 0 3.7 0a1.85 1.85 0 1 0 -3.7 0M494.48 97.23a1.85 1.85 0 1 0 3.7 0a1.85 1.85 0 1 0 -3.7 0M495.26 89.9a1.85 1.85 0 1 0 3.7 0a1.85 1.85 0 1 0 -3.7 0M495.63 85.07a1.85 1.85 0 1 0 3.7 0a1.85 1.85 0 1 0 -3.7 0M496.78 78.29a1.85 1.85 0 1 0 3.7 0a1.85 1.85 0 1 0 -3.7 0M497.81 73.25a1.85 1.85 0 1 0 3.7 0a1.85 1.85 0 1 0 -3.7 0M498.97 63.97a1.85 1.85 0 1 0 3.7 0a1.85 1.85 0 1 0 -3.7 0M500.06 61.18a1.85 1.85 0 1 0 3.7 0a1.85 1.85 0 1 0 -3.7 0M499.77 54.39a1.85 1.85 0 1 0 3.7 0a1.85 1.85 0 1 0 -3.7 0M501.23 48.82a1.85 1.85 0 1 0 3.7 0a1.85 1.85 0 1 0 -3.7 0M501.51 44.74a1.85 1.85 0 1 0 3.7 0a1.85 1.85 0 1 0 -3.7 0M503.54 39.39a1.85 1.85 0 1 0 3.7 0a1.85 1.85 0 1 0 -3.7 0M503.25 35.08a1.85 1.85 0 1 0 3.7 0a1.85 1.85 0 1 0 -3.7 0M504.3 32.31a1.85 1.85 0 1 0 3.7 0a1.85 1.85 0 1 0 -3.7 0M504.36 29.59a1.85 1.85 0 1 0 3.7 0a1.85 1.85 0 1 0 -3.7 0M505.2 30.86a1.85 1.85 0 1 0 3.7 0a1.85 1.85 0 1 0 -3.7 0M506.48 29.63a1.85 1.85 0 1 0 3.7 0a1.85 1.85 0 1 0 -3.7 0M506.96 33.4a1.85 1.85 0 1 0 3.7 0a1.85 1.85 0 1 0 -3.7 0M508.1 31.56a1.85 1.85 0 1 0 3.7 0a1.85 1.85 0 1 0 -3.7 0M507.92 38.23a1.85 1.85 0 1 0 3.7 0a1.85 1.85 0 1 0 -3.7 0M509.8 42.25a1.85 1.85 0 1 0 3.7 0a1.85 1.85 0 1 0 -3.7 0M509.8 47.74a1.85 1.85 0 1 0 3.7 0a1.85 1.85 0 1 0 -3.7 0M511.88 52.96a1.85 1.85 0 1 0 3.7 0a1.85 1.85 0 1 0 -3.7 0M511.65 58.62a1.85 1.85 0 1 0 3.7 0a1.85 1.85 0 1 0 -3.7 0M513.12 67.49a1.85 1.85 0 1 0 3.7 0a1.85 1.85 0 1 0 -3.7 0M512.65 73.06a1.85 1.85 0 1 0 3.7 0a1.85 1.85 0 1 0 -3.7 0M514.34 80.22a1.85 1.85 0 1 0 3.7 0a1.85 1.85 0 1 0 -3.7 0M514.45 89.71a1.85 1.85 0 1 0 3.7 0a1.85 1.85 0 1 0 -3.7 0M515.43 95.91a1.85 1.85 0 1 0 3.7 0a1.85 1.85 0 1 0 -3.7 0M516.46 100.3a1.85 1.85 0 1 0 3.7 0a1.85 1.85 0 1 0 -3.7 0M517.06 106.27a1.85 1.85 0 1 0 3.7 0a1.85 1.85 0 1 0 -3.7 0M518.13 113.65a1.85 1.85 0 1 0 3.7 0a1.85 1.85 0 1 0 -3.7 0M519.14 109.86a1.85 1.85 0 1 0 3.7 0a1.85 1.85 0 1 0 -3.7 0M519.87 122.8a1.85 1.85 0 1 0 3.7 0a1.85 1.85 0 1 0 -3.7 0M520.28 118.42a1.85 1.85 0 1 0 3.7 0a1.85 1.85 0 1 0 -3.7 0M520.41 127.73a1.85 1.85 0 1 0 3.7 0a1.85 1.85 0 1 0 -3.7 0M521.47 134.97a1.85 1.85 0 1 0 3.7 0a1.85 1.85 0 1 0 -3.7 0M522.55 131.06a1.85 1.85 0 1 0 3.7 0a1.85 1.85 0 1 0 -3.7 0M522.36 143.82a1.85 1.85 0 1 0 3.7 0a1.85 1.85 0 1 0 -3.7 0M524.57 137.62a1.85 1.85 0 1 0 3.7 0a1.85 1.85 0 1 0 -3.7 0M524.85 133.81a1.85 1.85 0 1 0 3.7 0a1.85 1.85 0 1 0 -3.7 0M525.62 149.12a1.85 1.85 0 1 0 3.7 0a1.85 1.85 0 1 0 -3.7 0M526.99 142.33a1.85 1.85 0 1 0 3.7 0a1.85 1.85 0 1 0 -3.7 0M527.62 127.45a1.85 1.85 0 1 0 3.7 0a1.85 1.85 0 1 0 -3.7 0M528.18 133.05a1.85 1.85 0 1 0 3.7 0a1.85 1.85 0 1 0 -3.7 0M528.34 146.12a1.85 1.85 0 1 0 3.7 0a1.85 1.85 0 1 0 -3.7 0M529.77 150.09a1.85 1.85 0 1 0 3.7 0a1.85 1.85 0 1 0 -3.7 0M530.56 138.45a1.85 1.85 0 1 0 3.7 0a1.85 1.85 0 1 0 -3.7 0M530.72 142.53a1.85 1.85 0 1 0 3.7 0a1.85 1.85 0 1 0 -3.7 0M532.46 133.58a1.85 1.85 0 1 0 3.7 0a1.85 1.85 0 1 0 -3.7 0M532.97 146.72a1.85 1.85 0 1 0 3.7 0a1.85 1.85 0 1 0 -3.7 0M532.5 144.17a1.85 1.85 0 1 0 3.7 0a1.85 1.85 0 1 0 -3.7 0M534.32 151.92a1.85 1.85 0 1 0 3.7 0a1.85 1.85 0 1 0 -3.7 0M534.4 129.77a1.85 1.85 0 1 0 3.7 0a1.85 1.85 0 1 0 -3.7 0M536.38 139.37a1.85 1.85 0 1 0 3.7 0a1.85 1.85 0 1 0 -3.7 0M536.99 144a1.85 1.85 0 1 0 3.7 0a1.85 1.85 0 1 0 -3.7 0M536.81 133.58a1.85 1.85 0 1 0 3.7 0a1.85 1.85 0 1 0 -3.7 0M537.69 130.64a1.85 1.85 0 1 0 3.7 0a1.85 1.85 0 1 0 -3.7 0M538.96 148.17a1.85 1.85 0 1 0 3.7 0a1.85 1.85 0 1 0 -3.7 0M539.57 141.51a1.85 1.85 0 1 0 3.7 0a1.85 1.85 0 1 0 -3.7 0M541.22 136.52a1.85 1.85 0 1 0 3.7 0a1.85 1.85 0 1 0 -3.7 0M541.6 145.01a1.85 1.85 0 1 0 3.7 0a1.85 1.85 0 1 0 -3.7 0M541.87 149.63a1.85 1.85 0 1 0 3.7 0a1.85 1.85 0 1 0 -3.7 0M543.07 131.93a1.85 1.85 0 1 0 3.7 0a1.85 1.85 0 1 0 -3.7 0M542.54 140.61a1.85 1.85 0 1 0 3.7 0a1.85 1.85 0 1 0 -3.7 0M544.49 126.33a1.85 1.85 0 1 0 3.7 0a1.85 1.85 0 1 0 -3.7 0M545.54 146.83a1.85 1.85 0 1 0 3.7 0a1.85 1.85 0 1 0 -3.7 0M545.79 158.13a1.85 1.85 0 1 0 3.7 0a1.85 1.85 0 1 0 -3.7 0M546.3 137.57a1.85 1.85 0 1 0 3.7 0a1.85 1.85 0 1 0 -3.7 0M547.71 142.3a1.85 1.85 0 1 0 3.7 0a1.85 1.85 0 1 0 -3.7 0M549.19 133.37a1.85 1.85 0 1 0 3.7 0a1.85 1.85 0 1 0 -3.7 0M549.08 146.67a1.85 1.85 0 1 0 3.7 0a1.85 1.85 0 1 0 -3.7 0M549.2 153.6a1.85 1.85 0 1 0 3.7 0a1.85 1.85 0 1 0 -3.7 0M551.25 137.57a1.85 1.85 0 1 0 3.7 0a1.85 1.85 0 1 0 -3.7 0M550.37 143.63a1.85 1.85 0 1 0 3.7 0a1.85 1.85 0 1 0 -3.7 0M552.33 131.01a1.85 1.85 0 1 0 3.7 0a1.85 1.85 0 1 0 -3.7 0M552.56 148.8a1.85 1.85 0 1 0 3.7 0a1.85 1.85 0 1 0 -3.7 0M554.09 141.33a1.85 1.85 0 1 0 3.7 0a1.85 1.85 0 1 0 -3.7 0M553.98 145.04a1.85 1.85 0 1 0 3.7 0a1.85 1.85 0 1 0 -3.7 0M555.84 136.82a1.85 1.85 0 1 0 3.7 0a1.85 1.85 0 1 0 -3.7 0M556.1 146.79a1.85 1.85 0 1 0 3.7 0a1.85 1.85 0 1 0 -3.7 0M555.86 133.06a1.85 1.85 0 1 0 3.7 0a1.85 1.85 0 1 0 -3.7 0M556.52 141.9a1.85 1.85 0 1 0 3.7 0a1.85 1.85 0 1 0 -3.7 0M558.12 139.19a1.85 1.85 0 1 0 3.7 0a1.85 1.85 0 1 0 -3.7 0M559.7 149.98a1.85 1.85 0 1 0 3.7 0a1.85 1.85 0 1 0 -3.7 0M559.89 144.28a1.85 1.85 0 1 0 3.7 0a1.85 1.85 0 1 0 -3.7 0M560.63 132.08a1.85 1.85 0 1 0 3.7 0a1.85 1.85 0 1 0 -3.7 0M561.26 126.5a1.85 1.85 0 1 0 3.7 0a1.85 1.85 0 1 0 -3.7 0M562.52 140.37a1.85 1.85 0 1 0 3.7 0a1.85 1.85 0 1 0 -3.7 0' fill='#fff' stroke='#000' stroke-width='1.2'/>
<path d='M399 142.2 399.55 142.2 400.1 142.2 400.66 142.2 401.21 142.2 401.76 142.2 402.31 142.2 402.86 142.2 403.41 142.2 403.97 142.2 404.52 142.2 405.07 142.2 405.62 142.2 406.17 142.2 406.73 142.2 407.28 142.2 407.83 142.2 408.38 142.2 408.93 142.2 409.48 142.2 410.04 142.2 410.59 142.2 411.14 142.2 411.69 142.2 412.24 142.2 412.8 142.2 413.35 142.2 413.9 142.2 414.45 142.2 415 142.2 415.56 142.2 416.11 142.2 416.66 142.2 417.21 142.2 417.76 142.2 418.31 142.2 418.87 142.2 419.42 142.2 419.97 142.2 420.52 142.2 421.07 142.2 421.63 142.2 422.18 142.2 422.73 142.2 423.28 142.2 423.83 142.2 424.38 142.2 424.94 142.2 425.49 142.2 426.04 142.2 426.59 142.2 427.14 142.2 427.7 142.2 428.25 142.2 428.8 142.2 429.35 142.2 429.9 142.19 430.45 142.19 431.01 142.19 431.56 142.19 432.11 142.18 432.66 142.18 433.21 142.17 433.77 142.16 434.32 142.14 434.87 142.13 435.42 142.1 435.97 142.07 436.53 142.04 437.08 141.99 437.63 141.93 438.18 141.86 438.73 141.77 439.28 141.65 439.84 141.51 440.39 141.34 440.94 141.13 441.49 140.88 442.04 140.57 442.6 140.21 443.15 139.77 443.7 139.25 444.25 138.64 444.8 137.93 445.35 137.09 445.91 136.13 446.46 135.02 447.01 133.75 447.56 132.3 448.11 130.67 448.67 128.83 449.22 126.78 449.77 124.5 450.32 121.98 450.87 119.22 451.42 116.21 451.98 112.96 452.53 109.47 453.08 105.74 453.63 101.79 454.18 97.63 454.74 93.29 455.29 88.8 455.84 84.18 456.39 79.49 456.94 74.75 457.49 70.01 458.05 65.33 458.6 60.75 459.15 56.33 459.7 52.12 460.25 48.18 460.81 44.56 461.36 41.3 461.91 38.46 462.46 36.06 463.01 34.16 463.57 32.76 464.12 31.91 464.67 31.6 465.22 31.85 465.77 32.64 466.32 33.97 466.88 35.82 467.43 38.16 467.98 40.96 468.53 44.17 469.08 47.76 469.64 51.66 470.19 55.84 470.74 60.24 471.29 64.8 471.84 69.48 472.39 74.21 472.95 78.95 473.5 83.65 474.05 88.27 474.6 92.78 475.15 97.13 475.71 101.3 476.26 105.27 476.81 109.02 477.36 112.53 477.91 115.79 478.46 118.8 479.02 121.56 479.57 124.07 480.12 126.34 480.67 128.36 481.22 130.15 481.78 131.72 482.33 133.08 482.88 134.24 483.43 135.21 483.98 135.99 484.54 136.59 485.09 137.03 485.64 137.3 486.19 137.42 486.74 137.37 487.29 137.16 487.85 136.79 488.4 136.25 488.95 135.54 489.5 134.65 490.05 133.57 490.61 132.29 491.16 130.8 491.71 129.1 492.26 127.17 492.81 125 493.36 122.59 493.92 119.93 494.47 117.01 495.02 113.85 495.57 110.44 496.12 106.78 496.68 102.9 497.23 98.81 497.78 94.52 498.33 90.08 498.88 85.5 499.43 80.82 499.99 76.09 500.54 71.35 501.09 66.65 501.64 62.03 502.19 57.56 502.75 53.29 503.3 49.27 503.85 45.55 504.4 42.18 504.95 39.22 505.51 36.69 506.06 34.65 506.61 33.11 507.16 32.1 507.71 31.63 508.26 31.72 508.82 32.36 509.37 33.54 509.92 35.25 510.47 37.45 511.02 40.12 511.58 43.22 512.13 46.71 512.68 50.53 513.23 54.64 513.78 58.98 514.33 63.5 514.89 68.15 515.44 72.87 515.99 77.61 516.54 82.33 517.09 86.98 517.65 91.53 518.2 95.93 518.75 100.16 519.3 104.2 519.85 108.02 520.4 111.6 520.96 114.95 521.51 118.06 522.06 120.91 522.61 123.53 523.16 125.9 523.72 128.04 524.27 129.97 524.82 131.68 525.37 133.2 525.92 134.54 526.47 135.71 527.03 136.73 527.58 137.61 528.13 138.37 528.68 139.02 529.23 139.57 529.79 140.04 530.34 140.43 530.89 140.76 531.44 141.04 531.99 141.26 532.55 141.45 533.1 141.6 533.65 141.72 534.2 141.82 534.75 141.9 535.3 141.97 535.86 142.02 536.41 142.06 536.96 142.09 537.51 142.12 538.06 142.14 538.62 142.15 539.17 142.16 539.72 142.17 540.27 142.18 540.82 142.19 541.37 142.19 541.93 142.19 542.48 142.19 543.03 142.2 543.58 142.2 544.13 142.2 544.69 142.2 545.24 142.2 545.79 142.2 546.34 142.2 546.89 142.2 547.44 142.2 548 142.2 548.55 142.2 549.1 142.2 549.65 142.2 550.2 142.2 550.76 142.2 551.31 142.2 551.86 142.2 552.41 142.2 552.96 142.2 553.52 142.2 554.07 142.2 554.62 142.2 555.17 142.2 555.72 142.2 556.27 142.2 556.83 142.2 557.38 142.2 557.93 142.2 558.48 142.2 559.03 142.2 559.59 142.2 560.14 142.2 560.69 142.2 561.24 142.2 561.79 142.2 562.34 142.2 562.9 142.2 563.45 142.2 564 142.2' fill='none' stroke='#f00' stroke-width='1.8'/>
<path d='M380.5 3V165.8H580.3' fill='none' stroke='#000' stroke-width='2.1'/>
<path d='M373.5 165.8H380.5M373.5 133.44H380.5M373.5 101.08H380.5M373.5 68.72H380.5M373.5 36.36H380.5M373.5 4H380.5M415.6 165.8V172.8M462.4 165.8V172.8M509 165.8V172.8M555.5 165.8V172.8' fill='none' stroke='#000' stroke-width='2.1'/>
<text x='340.83' y='168.97' font-size='9.6' textLength='28.55' lengthAdjust='spacing'>177000</text>
<text x='340.83' y='136.61' font-size='9.6' textLength='28.55' lengthAdjust='spacing'>178000</text>
<text x='340.83' y='104.25' font-size='9.6' textLength='28.55' lengthAdjust='spacing'>179000</text>
<text x='340.83' y='71.89' font-size='9.6' textLength='28.55' lengthAdjust='spacing'>180000</text>
<text x='340.83' y='39.53' font-size='9.6' textLength='28.55' lengthAdjust='spacing'>181000</text>
<text x='340.83' y='7.17' font-size='9.6' textLength='28.55' lengthAdjust='spacing'>182000</text>
<text x='397.33' y='183.7' font-size='9.6' textLength='35.96' lengthAdjust='spacing'>1900.680</text>
<text x='444.13' y='183.7' font-size='9.6' textLength='35.96' lengthAdjust='spacing'>1900.688</text>
<text x='490.73' y='183.7' font-size='9.6' textLength='35.96' lengthAdjust='spacing'>1900.696</text>
<text x='537.23' y='183.7' font-size='9.6' textLength='35.96' lengthAdjust='spacing'>1900.704</text>
<text x='406.6' y='29.2' font-size='14' textLength='34.3' lengthAdjust='spacingAndGlyphs'>R(23)</text>
<text x='434' y='204.9' font-size='12.6'>Wavenumber/ cm<tspan font-size='6.5' dx='1' dy='-6.8'>-1</tspan></text>
<text transform='translate(326.4 134) rotate(-90)' font-size='12.6'>Decay rate (k)/ sec<tspan font-size='7' dy='-6.5'>-1</tspan></text>
<path d='M89.37 352.98a1.65 1.65 0 1 0 3.3 0a1.65 1.65 0 1 0 -3.3 0M87.7 338.12a1.65 1.65 0 1 0 3.3 0a1.65 1.65 0 1 0 -3.3 0M89.82 344.14a1.65 1.65 0 1 0 3.3 0a1.65 1.65 0 1 0 -3.3 0M89.95 348.8a1.65 1.65 0 1 0 3.3 0a1.65 1.65 0 1 0 -3.3 0M90.64 341.22a1.65 1.65 0 1 0 3.3 0a1.65 1.65 0 1 0 -3.3 0M91.39 338.23a1.65 1.65 0 1 0 3.3 0a1.65 1.65 0 1 0 -3.3 0M91.11 350.44a1.65 1.65 0 1 0 3.3 0a1.65 1.65 0 1 0 -3.3 0M92.64 354.52a1.65 1.65 0 1 0 3.3 0a1.65 1.65 0 1 0 -3.3 0M92.95 344.07a1.65 1.65 0 1 0 3.3 0a1.65 1.65 0 1 0 -3.3 0M95.67 349.15a1.65 1.65 0 1 0 3.3 0a1.65 1.65 0 1 0 -3.3 0M94.75 340.77a1.65 1.65 0 1 0 3.3 0a1.65 1.65 0 1 0 -3.3 0M95.09 337.01a1.65 1.65 0 1 0 3.3 0a1.65 1.65 0 1 0 -3.3 0M95.76 346.09a1.65 1.65 0 1 0 3.3 0a1.65 1.65 0 1 0 -3.3 0M96.19 352.63a1.65 1.65 0 1 0 3.3 0a1.65 1.65 0 1 0 -3.3 0M96.63 339.92a1.65 1.65 0 1 0 3.3 0a1.65 1.65 0 1 0 -3.3 0M97.59 343.53a1.65 1.65 0 1 0 3.3 0a1.65 1.65 0 1 0 -3.3 0M98.65 356.03a1.65 1.65 0 1 0 3.3 0a1.65 1.65 0 1 0 -3.3 0M98.92 336.3a1.65 1.65 0 1 0 3.3 0a1.65 1.65 0 1 0 -3.3 0M100.15 347.51a1.65 1.65 0 1 0 3.3 0a1.65 1.65 0 1 0 -3.3 0M100.2 340.89a1.65 1.65 0 1 0 3.3 0a1.65 1.65 0 1 0 -3.3 0M100.94 352.41a1.65 1.65 0 1 0 3.3 0a1.65 1.65 0 1 0 -3.3 0M102.33 338.05a1.65 1.65 0 1 0 3.3 0a1.65 1.65 0 1 0 -3.3 0M102.46 343.68a1.65 1.65 0 1 0 3.3 0a1.65 1.65 0 1 0 -3.3 0M102.56 350.37a1.65 1.65 0 1 0 3.3 0a1.65 1.65 0 1 0 -3.3 0M103.35 340.94a1.65 1.65 0 1 0 3.3 0a1.65 1.65 0 1 0 -3.3 0M104.34 347.1a1.65 1.65 0 1 0 3.3 0a1.65 1.65 0 1 0 -3.3 0M105.67 351.88a1.65 1.65 0 1 0 3.3 0a1.65 1.65 0 1 0 -3.3 0M105.2 338.81a1.65 1.65 0 1 0 3.3 0a1.65 1.65 0 1 0 -3.3 0M105.84 342.98a1.65 1.65 0 1 0 3.3 0a1.65 1.65 0 1 0 -3.3 0M107.09 345.19a1.65 1.65 0 1 0 3.3 0a1.65 1.65 0 1 0 -3.3 0M106.77 355.34a1.65 1.65 0 1 0 3.3 0a1.65 1.65 0 1 0 -3.3 0M107.7 336.25a1.65 1.65 0 1 0 3.3 0a1.65 1.65 0 1 0 -3.3 0M108.92 349.04a1.65 1.65 0 1 0 3.3 0a1.65 1.65 0 1 0 -3.3 0M109.39 352.7a1.65 1.65 0 1 0 3.3 0a1.65 1.65 0 1 0 -3.3 0M109.78 338.9a1.65 1.65 0 1 0 3.3 0a1.65 1.65 0 1 0 -3.3 0M110.7 356.48a1.65 1.65 0 1 0 3.3 0a1.65 1.65 0 1 0 -3.3 0M109.58 343.8a1.65 1.65 0 1 0 3.3 0a1.65 1.65 0 1 0 -3.3 0M112.13 349.58a1.65 1.65 0 1 0 3.3 0a1.65 1.65 0 1 0 -3.3 0M111.77 340.86a1.65 1.65 0 1 0 3.3 0a1.65 1.65 0 1 0 -3.3 0M112.04 353.74a1.65 1.65 0 1 0 3.3 0a1.65 1.65 0 1 0 -3.3 0M113.64 337.78a1.65 1.65 0 1 0 3.3 0a1.65 1.65 0 1 0 -3.3 0M114.49 346.82a1.65 1.65 0 1 0 3.3 0a1.65 1.65 0 1 0 -3.3 0M114.54 342.97a1.65 1.65 0 1 0 3.3 0a1.65 1.65 0 1 0 -3.3 0M114.85 351.61a1.65 1.65 0 1 0 3.3 0a1.65 1.65 0 1 0 -3.3 0M116.03 353.98a1.65 1.65 0 1 0 3.3 0a1.65 1.65 0 1 0 -3.3 0M116.62 340.18a1.65 1.65 0 1 0 3.3 0a1.65 1.65 0 1 0 -3.3 0M117.98 349.13a1.65 1.65 0 1 0 3.3 0a1.65 1.65 0 1 0 -3.3 0M118.28 344.87a1.65 1.65 0 1 0 3.3 0a1.65 1.65 0 1 0 -3.3 0M118.63 338.48a1.65 1.65 0 1 0 3.3 0a1.65 1.65 0 1 0 -3.3 0M119.72 341.75a1.65 1.65 0 1 0 3.3 0a1.65 1.65 0 1 0 -3.3 0M119.69 352.5a1.65 1.65 0 1 0 3.3 0a1.65 1.65 0 1 0 -3.3 0M119.96 336.28a1.65 1.65 0 1 0 3.3 0a1.65 1.65 0 1 0 -3.3 0M121.34 347.03a1.65 1.65 0 1 0 3.3 0a1.65 1.65 0 1 0 -3.3 0M121.97 355.98a1.65 1.65 0 1 0 3.3 0a1.65 1.65 0 1 0 -3.3 0M122.2 338.88a1.65 1.65 0 1 0 3.3 0a1.65 1.65 0 1 0 -3.3 0M122.55 350.19a1.65 1.65 0 1 0 3.3 0a1.65 1.65 0 1 0 -3.3 0M123.68 344.29a1.65 1.65 0 1 0 3.3 0a1.65 1.65 0 1 0 -3.3 0M122.95 353.05a1.65 1.65 0 1 0 3.3 0a1.65 1.65 0 1 0 -3.3 0M125.17 337.16a1.65 1.65 0 1 0 3.3 0a1.65 1.65 0 1 0 -3.3 0M125.7 340.77a1.65 1.65 0 1 0 3.3 0a1.65 1.65 0 1 0 -3.3 0M125.26 348.25a1.65 1.65 0 1 0 3.3 0a1.65 1.65 0 1 0 -3.3 0M126.74 351.11a1.65 1.65 0 1 0 3.3 0a1.65 1.65 0 1 0 -3.3 0M126.86 344.96a1.65 1.65 0 1 0 3.3 0a1.65 1.65 0 1 0 -3.3 0M128.35 338.49a1.65 1.65 0 1 0 3.3 0a1.65 1.65 0 1 0 -3.3 0M127.58 335.91a1.65 1.65 0 1 0 3.3 0a1.65 1.65 0 1 0 -3.3 0M128.77 347.4a1.65 1.65 0 1 0 3.3 0a1.65 1.65 0 1 0 -3.3 0M130.21 341.85a1.65 1.65 0 1 0 3.3 0a1.65 1.65 0 1 0 -3.3 0M131.06 333.94a1.65 1.65 0 1 0 3.3 0a1.65 1.65 0 1 0 -3.3 0M130.04 345.62a1.65 1.65 0 1 0 3.3 0a1.65 1.65 0 1 0 -3.3 0M131.49 339.2a1.65 1.65 0 1 0 3.3 0a1.65 1.65 0 1 0 -3.3 0M132.54 331.09a1.65 1.65 0 1 0 3.3 0a1.65 1.65 0 1 0 -3.3 0M132.7 325.62a1.65 1.65 0 1 0 3.3 0a1.65 1.65 0 1 0 -3.3 0M134.43 337.04a1.65 1.65 0 1 0 3.3 0a1.65 1.65 0 1 0 -3.3 0M133.66 322.74a1.65 1.65 0 1 0 3.3 0a1.65 1.65 0 1 0 -3.3 0M135.07 333.66a1.65 1.65 0 1 0 3.3 0a1.65 1.65 0 1 0 -3.3 0M134.99 318.06a1.65 1.65 0 1 0 3.3 0a1.65 1.65 0 1 0 -3.3 0M136.85 314.14a1.65 1.65 0 1 0 3.3 0a1.65 1.65 0 1 0 -3.3 0M136.76 324.52a1.65 1.65 0 1 0 3.3 0a1.65 1.65 0 1 0 -3.3 0M137.22 307.7a1.65 1.65 0 1 0 3.3 0a1.65 1.65 0 1 0 -3.3 0M137.17 304.3a1.65 1.65 0 1 0 3.3 0a1.65 1.65 0 1 0 -3.3 0M139.5 300.09a1.65 1.65 0 1 0 3.3 0a1.65 1.65 0 1 0 -3.3 0M139.67 306.04a1.65 1.65 0 1 0 3.3 0a1.65 1.65 0 1 0 -3.3 0M140.3 293.94a1.65 1.65 0 1 0 3.3 0a1.65 1.65 0 1 0 -3.3 0M141.12 288.5a1.65 1.65 0 1 0 3.3 0a1.65 1.65 0 1 0 -3.3 0M141.35 282.69a1.65 1.65 0 1 0 3.3 0a1.65 1.65 0 1 0 -3.3 0M141.49 278.48a1.65 1.65 0 1 0 3.3 0a1.65 1.65 0 1 0 -3.3 0M142.04 272.88a1.65 1.65 0 1 0 3.3 0a1.65 1.65 0 1 0 -3.3 0M142.66 268.24a1.65 1.65 0 1 0 3.3 0a1.65 1.65 0 1 0 -3.3 0M144.38 264.66a1.65 1.65 0 1 0 3.3 0a1.65 1.65 0 1 0 -3.3 0M143.59 259.56a1.65 1.65 0 1 0 3.3 0a1.65 1.65 0 1 0 -3.3 0M144.65 256.11a1.65 1.65 0 1 0 3.3 0a1.65 1.65 0 1 0 -3.3 0M145.42 250.8a1.65 1.65 0 1 0 3.3 0a1.65 1.65 0 1 0 -3.3 0M146.32 247.06a1.65 1.65 0 1 0 3.3 0a1.65 1.65 0 1 0 -3.3 0M147.13 243.09a1.65 1.65 0 1 0 3.3 0a1.65 1.65 0 1 0 -3.3 0M146.84 240.13a1.65 1.65 0 1 0 3.3 0a1.65 1.65 0 1 0 -3.3 0M147.23 237.72a1.65 1.65 0 1 0 3.3 0a1.65 1.65 0 1 0 -3.3 0M148.72 236.05a1.65 1.65 0 1 0 3.3 0a1.65 1.65 0 1 0 -3.3 0M149.96 233.98a1.65 1.65 0 1 0 3.3 0a1.65 1.65 0 1 0 -3.3 0M150.36 235.13a1.65 1.65 0 1 0 3.3 0a1.65 1.65 0 1 0 -3.3 0M150.72 233.09a1.65 1.65 0 1 0 3.3 0a1.65 1.65 0 1 0 -3.3 0M151.08 234.27a1.65 1.65 0 1 0 3.3 0a1.65 1.65 0 1 0 -3.3 0M152.02 236.02a1.65 1.65 0 1 0 3.3 0a1.65 1.65 0 1 0 -3.3 0M152.38 237.68a1.65 1.65 0 1 0 3.3 0a1.65 1.65 0 1 0 -3.3 0M153.54 238.83a1.65 1.65 0 1 0 3.3 0a1.65 1.65 0 1 0 -3.3 0M153.36 242.2a1.65 1.65 0 1 0 3.3 0a1.65 1.65 0 1 0 -3.3 0M154.45 244.47a1.65 1.65 0 1 0 3.3 0a1.65 1.65 0 1 0 -3.3 0M154.96 249.16a1.65 1.65 0 1 0 3.3 0a1.65 1.65 0 1 0 -3.3 0M155.91 252.22a1.65 1.65 0 1 0 3.3 0a1.65 1.65 0 1 0 -3.3 0M156.38 257.76a1.65 1.65 0 1 0 3.3 0a1.65 1.65 0 1 0 -3.3 0M158.17 262.1a1.65 1.65 0 1 0 3.3 0a1.65 1.65 0 1 0 -3.3 0M158.28 267.33a1.65 1.65 0 1 0 3.3 0a1.65 1.65 0 1 0 -3.3 0M158.91 273.17a1.65 1.65 0 1 0 3.3 0a1.65 1.65 0 1 0 -3.3 0M157.77 278.91a1.65 1.65 0 1 0 3.3 0a1.65 1.65 0 1 0 -3.3 0M159.25 283.59a1.65 1.65 0 1 0 3.3 0a1.65 1.65 0 1 0 -3.3 0M159.74 288.78a1.65 1.65 0 1 0 3.3 0a1.65 1.65 0 1 0 -3.3 0M160.94 294.61a1.65 1.65 0 1 0 3.3 0a1.65 1.65 0 1 0 -3.3 0M160.16 298.99a1.65 1.65 0 1 0 3.3 0a1.65 1.65 0 1 0 -3.3 0M162.52 306.87a1.65 1.65 0 1 0 3.3 0a1.65 1.65 0 1 0 -3.3 0M163.09 301.57a1.65 1.65 0 1 0 3.3 0a1.65 1.65 0 1 0 -3.3 0M162.54 314.93a1.65 1.65 0 1 0 3.3 0a1.65 1.65 0 1 0 -3.3 0M163.33 319.02a1.65 1.65 0 1 0 3.3 0a1.65 1.65 0 1 0 -3.3 0M164.05 323.35a1.65 1.65 0 1 0 3.3 0a1.65 1.65 0 1 0 -3.3 0M165.1 326.84a1.65 1.65 0 1 0 3.3 0a1.65 1.65 0 1 0 -3.3 0M166.02 316.55a1.65 1.65 0 1 0 3.3 0a1.65 1.65 0 1 0 -3.3 0M167.36 330.16a1.65 1.65 0 1 0 3.3 0a1.65 1.65 0 1 0 -3.3 0M166.86 324.44a1.65 1.65 0 1 0 3.3 0a1.65 1.65 0 1 0 -3.3 0M167.97 336.55a1.65 1.65 0 1 0 3.3 0a1.65 1.65 0 1 0 -3.3 0M168.3 339.81a1.65 1.65 0 1 0 3.3 0a1.65 1.65 0 1 0 -3.3 0M169.73 327.38a1.65 1.65 0 1 0 3.3 0a1.65 1.65 0 1 0 -3.3 0M169.85 344.36a1.65 1.65 0 1 0 3.3 0a1.65 1.65 0 1 0 -3.3 0M170.79 333.51a1.65 1.65 0 1 0 3.3 0a1.65 1.65 0 1 0 -3.3 0M170.2 341.71a1.65 1.65 0 1 0 3.3 0a1.65 1.65 0 1 0 -3.3 0M171.27 337.62a1.65 1.65 0 1 0 3.3 0a1.65 1.65 0 1 0 -3.3 0M171.59 345.42a1.65 1.65 0 1 0 3.3 0a1.65 1.65 0 1 0 -3.3 0M173.37 348.31a1.65 1.65 0 1 0 3.3 0a1.65 1.65 0 1 0 -3.3 0M173.58 340.33a1.65 1.65 0 1 0 3.3 0a1.65 1.65 0 1 0 -3.3 0M173.73 334.88a1.65 1.65 0 1 0 3.3 0a1.65 1.65 0 1 0 -3.3 0M174.28 343.98a1.65 1.65 0 1 0 3.3 0a1.65 1.65 0 1 0 -3.3 0M175.38 337.65a1.65 1.65 0 1 0 3.3 0a1.65 1.65 0 1 0 -3.3 0M175.42 353.44a1.65 1.65 0 1 0 3.3 0a1.65 1.65 0 1 0 -3.3 0M175.93 349.16a1.65 1.65 0 1 0 3.3 0a1.65 1.65 0 1 0 -3.3 0M177.27 342.18a1.65 1.65 0 1 0 3.3 0a1.65 1.65 0 1 0 -3.3 0M178.88 346.36a1.65 1.65 0 1 0 3.3 0a1.65 1.65 0 1 0 -3.3 0M178.16 351.33a1.65 1.65 0 1 0 3.3 0a1.65 1.65 0 1 0 -3.3 0M178.63 337.65a1.65 1.65 0 1 0 3.3 0a1.65 1.65 0 1 0 -3.3 0M178.95 344.15a1.65 1.65 0 1 0 3.3 0a1.65 1.65 0 1 0 -3.3 0M179.5 340a1.65 1.65 0 1 0 3.3 0a1.65 1.65 0 1 0 -3.3 0M181.06 347.59a1.65 1.65 0 1 0 3.3 0a1.65 1.65 0 1 0 -3.3 0M181.85 334.72a1.65 1.65 0 1 0 3.3 0a1.65 1.65 0 1 0 -3.3 0M182.06 342.69a1.65 1.65 0 1 0 3.3 0a1.65 1.65 0 1 0 -3.3 0M182.85 338.3a1.65 1.65 0 1 0 3.3 0a1.65 1.65 0 1 0 -3.3 0M183.37 349.33a1.65 1.65 0 1 0 3.3 0a1.65 1.65 0 1 0 -3.3 0M184.01 332.3a1.65 1.65 0 1 0 3.3 0a1.65 1.65 0 1 0 -3.3 0M183.81 335.46a1.65 1.65 0 1 0 3.3 0a1.65 1.65 0 1 0 -3.3 0M184.97 328.54a1.65 1.65 0 1 0 3.3 0a1.65 1.65 0 1 0 -3.3 0M185.88 341.48a1.65 1.65 0 1 0 3.3 0a1.65 1.65 0 1 0 -3.3 0M186.07 326.19a1.65 1.65 0 1 0 3.3 0a1.65 1.65 0 1 0 -3.3 0M186.85 337.66a1.65 1.65 0 1 0 3.3 0a1.65 1.65 0 1 0 -3.3 0M187.31 321.5a1.65 1.65 0 1 0 3.3 0a1.65 1.65 0 1 0 -3.3 0M188.18 329.55a1.65 1.65 0 1 0 3.3 0a1.65 1.65 0 1 0 -3.3 0M189.4 315.81a1.65 1.65 0 1 0 3.3 0a1.65 1.65 0 1 0 -3.3 0M189.4 325.69a1.65 1.65 0 1 0 3.3 0a1.65 1.65 0 1 0 -3.3 0M190.15 310.95a1.65 1.65 0 1 0 3.3 0a1.65 1.65 0 1 0 -3.3 0M191.27 313.95a1.65 1.65 0 1 0 3.3 0a1.65 1.65 0 1 0 -3.3 0M191.81 302.38a1.65 1.65 0 1 0 3.3 0a1.65 1.65 0 1 0 -3.3 0M192.97 307.16a1.65 1.65 0 1 0 3.3 0a1.65 1.65 0 1 0 -3.3 0M191.7 293.62a1.65 1.65 0 1 0 3.3 0a1.65 1.65 0 1 0 -3.3 0M193.8 297.85a1.65 1.65 0 1 0 3.3 0a1.65 1.65 0 1 0 -3.3 0M193.76 286.06a1.65 1.65 0 1 0 3.3 0a1.65 1.65 0 1 0 -3.3 0M194.7 281.23a1.65 1.65 0 1 0 3.3 0a1.65 1.65 0 1 0 -3.3 0M195.68 284.04a1.65 1.65 0 1 0 3.3 0a1.65 1.65 0 1 0 -3.3 0M196.43 273.83a1.65 1.65 0 1 0 3.3 0a1.65 1.65 0 1 0 -3.3 0M197.04 267.93a1.65 1.65 0 1 0 3.3 0a1.65 1.65 0 1 0 -3.3 0M197.23 262.8a1.65 1.65 0 1 0 3.3 0a1.65 1.65 0 1 0 -3.3 0M198.58 257.23a1.65 1.65 0 1 0 3.3 0a1.65 1.65 0 1 0 -3.3 0M198.27 253.27a1.65 1.65 0 1 0 3.3 0a1.65 1.65 0 1 0 -3.3 0M198.97 250.43a1.65 1.65 0 1 0 3.3 0a1.65 1.65 0 1 0 -3.3 0M200.06 245.15a1.65 1.65 0 1 0 3.3 0a1.65 1.65 0 1 0 -3.3 0M200.02 242.51a1.65 1.65 0 1 0 3.3 0a1.65 1.65 0 1 0 -3.3 0M202 239.32a1.65 1.65 0 1 0 3.3 0a1.65 1.65 0 1 0 -3.3 0M202.06 237.12a1.65 1.65 0 1 0 3.3 0a1.65 1.65 0 1 0 -3.3 0M203.27 235.75a1.65 1.65 0 1 0 3.3 0a1.65 1.65 0 1 0 -3.3 0M202.8 233.55a1.65 1.65 0 1 0 3.3 0a1.65 1.65 0 1 0 -3.3 0M203.25 234.65a1.65 1.65 0 1 0 3.3 0a1.65 1.65 0 1 0 -3.3 0M204.15 232.68a1.65 1.65 0 1 0 3.3 0a1.65 1.65 0 1 0 -3.3 0M205.06 234.51a1.65 1.65 0 1 0 3.3 0a1.65 1.65 0 1 0 -3.3 0M205.03 236.4a1.65 1.65 0 1 0 3.3 0a1.65 1.65 0 1 0 -3.3 0M206.14 237.83a1.65 1.65 0 1 0 3.3 0a1.65 1.65 0 1 0 -3.3 0M206.57 240.86a1.65 1.65 0 1 0 3.3 0a1.65 1.65 0 1 0 -3.3 0M208.02 243.92a1.65 1.65 0 1 0 3.3 0a1.65 1.65 0 1 0 -3.3 0M207.51 245.61a1.65 1.65 0 1 0 3.3 0a1.65 1.65 0 1 0 -3.3 0M208.99 250.21a1.65 1.65 0 1 0 3.3 0a1.65 1.65 0 1 0 -3.3 0M208.78 255.41a1.65 1.65 0 1 0 3.3 0a1.65 1.65 0 1 0 -3.3 0M209.25 259.82a1.65 1.65 0 1 0 3.3 0a1.65 1.65 0 1 0 -3.3 0M210 263.19a1.65 1.65 0 1 0 3.3 0a1.65 1.65 0 1 0 -3.3 0M210.39 270.44a1.65 1.65 0 1 0 3.3 0a1.65 1.65 0 1 0 -3.3 0M211.69 274.53a1.65 1.65 0 1 0 3.3 0a1.65 1.65 0 1 0 -3.3 0M212.76 281.25a1.65 1.65 0 1 0 3.3 0a1.65 1.65 0 1 0 -3.3 0M212.95 286.69a1.65 1.65 0 1 0 3.3 0a1.65 1.65 0 1 0 -3.3 0M213.81 291.81a1.65 1.65 0 1 0 3.3 0a1.65 1.65 0 1 0 -3.3 0M214.95 295.81a1.65 1.65 0 1 0 3.3 0a1.65 1.65 0 1 0 -3.3 0M214.89 300.78a1.65 1.65 0 1 0 3.3 0a1.65 1.65 0 1 0 -3.3 0M215.48 306.85a1.65 1.65 0 1 0 3.3 0a1.65 1.65 0 1 0 -3.3 0M215.88 311.77a1.65 1.65 0 1 0 3.3 0a1.65 1.65 0 1 0 -3.3 0M215.84 315.41a1.65 1.65 0 1 0 3.3 0a1.65 1.65 0 1 0 -3.3 0M217.65 318.52a1.65 1.65 0 1 0 3.3 0a1.65 1.65 0 1 0 -3.3 0M217.02 324.7a1.65 1.65 0 1 0 3.3 0a1.65 1.65 0 1 0 -3.3 0M218.86 327.58a1.65 1.65 0 1 0 3.3 0a1.65 1.65 0 1 0 -3.3 0M219.15 321.32a1.65 1.65 0 1 0 3.3 0a1.65 1.65 0 1 0 -3.3 0M220.35 333.32a1.65 1.65 0 1 0 3.3 0a1.65 1.65 0 1 0 -3.3 0M220.38 330.32a1.65 1.65 0 1 0 3.3 0a1.65 1.65 0 1 0 -3.3 0M220.64 336.28a1.65 1.65 0 1 0 3.3 0a1.65 1.65 0 1 0 -3.3 0M221.86 340.3a1.65 1.65 0 1 0 3.3 0a1.65 1.65 0 1 0 -3.3 0M222.03 327.32a1.65 1.65 0 1 0 3.3 0a1.65 1.65 0 1 0 -3.3 0M222.84 346.27a1.65 1.65 0 1 0 3.3 0a1.65 1.65 0 1 0 -3.3 0M223.58 332.8a1.65 1.65 0 1 0 3.3 0a1.65 1.65 0 1 0 -3.3 0M224.12 337.14a1.65 1.65 0 1 0 3.3 0a1.65 1.65 0 1 0 -3.3 0M224.73 349.57a1.65 1.65 0 1 0 3.3 0a1.65 1.65 0 1 0 -3.3 0M225.03 344.79a1.65 1.65 0 1 0 3.3 0a1.65 1.65 0 1 0 -3.3 0M225.98 340.48a1.65 1.65 0 1 0 3.3 0a1.65 1.65 0 1 0 -3.3 0M225.64 335.07a1.65 1.65 0 1 0 3.3 0a1.65 1.65 0 1 0 -3.3 0M227.26 347.91a1.65 1.65 0 1 0 3.3 0a1.65 1.65 0 1 0 -3.3 0M227.37 343.14a1.65 1.65 0 1 0 3.3 0a1.65 1.65 0 1 0 -3.3 0M229.15 353.59a1.65 1.65 0 1 0 3.3 0a1.65 1.65 0 1 0 -3.3 0M229.86 336.17a1.65 1.65 0 1 0 3.3 0a1.65 1.65 0 1 0 -3.3 0M228.88 339.92a1.65 1.65 0 1 0 3.3 0a1.65 1.65 0 1 0 -3.3 0M230.55 344.95a1.65 1.65 0 1 0 3.3 0a1.65 1.65 0 1 0 -3.3 0M231.05 350.21a1.65 1.65 0 1 0 3.3 0a1.65 1.65 0 1 0 -3.3 0M231.22 342.15a1.65 1.65 0 1 0 3.3 0a1.65 1.65 0 1 0 -3.3 0M232.63 338.61a1.65 1.65 0 1 0 3.3 0a1.65 1.65 0 1 0 -3.3 0M232.77 353.76a1.65 1.65 0 1 0 3.3 0a1.65 1.65 0 1 0 -3.3 0M232.74 347.22a1.65 1.65 0 1 0 3.3 0a1.65 1.65 0 1 0 -3.3 0M234.12 343.6a1.65 1.65 0 1 0 3.3 0a1.65 1.65 0 1 0 -3.3 0M234.81 351.3a1.65 1.65 0 1 0 3.3 0a1.65 1.65 0 1 0 -3.3 0M235.57 338.88a1.65 1.65 0 1 0 3.3 0a1.65 1.65 0 1 0 -3.3 0M235.53 347.69a1.65 1.65 0 1 0 3.3 0a1.65 1.65 0 1 0 -3.3 0M237.08 352.18a1.65 1.65 0 1 0 3.3 0a1.65 1.65 0 1 0 -3.3 0M237.77 341.46a1.65 1.65 0 1 0 3.3 0a1.65 1.65 0 1 0 -3.3 0M237.45 355.25a1.65 1.65 0 1 0 3.3 0a1.65 1.65 0 1 0 -3.3 0M238.33 337.73a1.65 1.65 0 1 0 3.3 0a1.65 1.65 0 1 0 -3.3 0M239.25 348.63a1.65 1.65 0 1 0 3.3 0a1.65 1.65 0 1 0 -3.3 0M239.63 344.47a1.65 1.65 0 1 0 3.3 0a1.65 1.65 0 1 0 -3.3 0M241.42 351.82a1.65 1.65 0 1 0 3.3 0a1.65 1.65 0 1 0 -3.3 0M241.28 340.41a1.65 1.65 0 1 0 3.3 0a1.65 1.65 0 1 0 -3.3 0M241.3 356.56a1.65 1.65 0 1 0 3.3 0a1.65 1.65 0 1 0 -3.3 0M242.04 346.89a1.65 1.65 0 1 0 3.3 0a1.65 1.65 0 1 0 -3.3 0M243.03 342.45a1.65 1.65 0 1 0 3.3 0a1.65 1.65 0 1 0 -3.3 0M244.84 337.27a1.65 1.65 0 1 0 3.3 0a1.65 1.65 0 1 0 -3.3 0M244.23 352.49a1.65 1.65 0 1 0 3.3 0a1.65 1.65 0 1 0 -3.3 0M245.01 349.13a1.65 1.65 0 1 0 3.3 0a1.65 1.65 0 1 0 -3.3 0M245.83 345.23a1.65 1.65 0 1 0 3.3 0a1.65 1.65 0 1 0 -3.3 0M246.18 342.17a1.65 1.65 0 1 0 3.3 0a1.65 1.65 0 1 0 -3.3 0M247.97 354.12a1.65 1.65 0 1 0 3.3 0a1.65 1.65 0 1 0 -3.3 0M247.2 347.52a1.65 1.65 0 1 0 3.3 0a1.65 1.65 0 1 0 -3.3 0M248.46 350.58a1.65 1.65 0 1 0 3.3 0a1.65 1.65 0 1 0 -3.3 0M248.8 338.27a1.65 1.65 0 1 0 3.3 0a1.65 1.65 0 1 0 -3.3 0M249.66 345.93a1.65 1.65 0 1 0 3.3 0a1.65 1.65 0 1 0 -3.3 0M249.39 341.98a1.65 1.65 0 1 0 3.3 0a1.65 1.65 0 1 0 -3.3 0M251.49 353a1.65 1.65 0 1 0 3.3 0a1.65 1.65 0 1 0 -3.3 0M251.17 337.11a1.65 1.65 0 1 0 3.3 0a1.65 1.65 0 1 0 -3.3 0M251.88 349.2a1.65 1.65 0 1 0 3.3 0a1.65 1.65 0 1 0 -3.3 0M252.02 346.54a1.65 1.65 0 1 0 3.3 0a1.65 1.65 0 1 0 -3.3 0M252.76 342.2a1.65 1.65 0 1 0 3.3 0a1.65 1.65 0 1 0 -3.3 0M254.03 338.82a1.65 1.65 0 1 0 3.3 0a1.65 1.65 0 1 0 -3.3 0' fill='#fff' stroke='#000' stroke-width='1.2'/>
<path d='M90 350.6 90.55 350.6 91.11 350.6 91.66 350.6 92.21 350.6 92.77 350.6 93.32 350.6 93.87 350.6 94.43 350.6 94.98 350.6 95.53 350.6 96.08 350.6 96.64 350.6 97.19 350.6 97.74 350.6 98.3 350.6 98.85 350.6 99.4 350.6 99.96 350.6 100.51 350.6 101.06 350.6 101.62 350.6 102.17 350.6 102.72 350.6 103.28 350.6 103.83 350.6 104.38 350.6 104.94 350.6 105.49 350.6 106.04 350.6 106.6 350.6 107.15 350.6 107.7 350.6 108.25 350.6 108.81 350.6 109.36 350.6 109.91 350.6 110.47 350.6 111.02 350.6 111.57 350.6 112.13 350.6 112.68 350.6 113.23 350.6 113.79 350.6 114.34 350.6 114.89 350.59 115.45 350.59 116 350.59 116.55 350.59 117.11 350.58 117.66 350.58 118.21 350.57 118.77 350.56 119.32 350.55 119.87 350.54 120.42 350.52 120.98 350.5 121.53 350.47 122.08 350.43 122.64 350.39 123.19 350.33 123.74 350.27 124.3 350.18 124.85 350.08 125.4 349.96 125.96 349.81 126.51 349.63 127.06 349.41 127.62 349.15 128.17 348.85 128.72 348.49 129.28 348.06 129.83 347.56 130.38 346.98 130.94 346.31 131.49 345.53 132.04 344.65 132.59 343.63 133.15 342.48 133.7 341.17 134.25 339.71 134.81 338.07 135.36 336.25 135.91 334.23 136.47 332.02 137.02 329.59 137.57 326.95 138.13 324.09 138.68 321.02 139.23 317.73 139.79 314.23 140.34 310.54 140.89 306.66 141.45 302.62 142 298.43 142.55 294.12 143.11 289.72 143.66 285.26 144.21 280.77 144.76 276.3 145.32 271.89 145.87 267.58 146.42 263.41 146.98 259.42 147.53 255.67 148.08 252.19 148.64 249.02 149.19 246.21 149.74 243.78 150.3 241.77 150.85 240.2 151.4 239.09 151.96 238.46 152.51 238.31 153.06 238.65 153.62 239.47 154.17 240.76 154.72 242.51 155.27 244.69 155.83 247.27 156.38 250.23 156.93 253.53 157.49 257.12 158.04 260.97 158.59 265.03 159.15 269.26 159.7 273.62 160.25 278.06 160.81 282.54 161.36 287.02 161.91 291.46 162.47 295.83 163.02 300.1 163.57 304.23 164.13 308.21 164.68 312.02 165.23 315.63 165.79 319.05 166.34 322.25 166.89 325.24 167.44 328.01 168 330.57 168.55 332.91 169.1 335.04 169.66 336.98 170.21 338.72 170.76 340.29 171.32 341.68 171.87 342.91 172.42 344 172.98 344.95 173.53 345.78 174.08 346.49 174.64 347.1 175.19 347.61 175.74 348.03 176.3 348.38 176.85 348.65 177.4 348.86 177.96 349 178.51 349.08 179.06 349.11 179.61 349.07 180.17 348.98 180.72 348.82 181.27 348.6 181.83 348.31 182.38 347.95 182.93 347.5 183.49 346.97 184.04 346.34 184.59 345.6 185.15 344.75 185.7 343.77 186.25 342.65 186.81 341.38 187.36 339.95 187.91 338.35 188.47 336.57 189.02 334.59 189.57 332.41 190.13 330.02 190.68 327.41 191.23 324.59 191.78 321.56 192.34 318.31 192.89 314.85 193.44 311.19 194 307.34 194.55 303.32 195.1 299.16 195.66 294.87 196.21 290.48 196.76 286.03 197.32 281.54 197.87 277.07 198.42 272.64 198.98 268.31 199.53 264.11 200.08 260.09 200.64 256.3 201.19 252.77 201.74 249.54 202.29 246.66 202.85 244.17 203.4 242.08 203.95 240.43 204.51 239.25 205.06 238.53 205.61 238.3 206.17 238.56 206.72 239.29 207.27 240.51 207.83 242.18 208.38 244.28 208.93 246.8 209.49 249.7 210.04 252.94 210.59 256.48 211.15 260.29 211.7 264.32 212.25 268.53 212.81 272.87 213.36 277.3 213.91 281.77 214.46 286.25 215.02 290.7 215.57 295.09 216.12 299.37 216.68 303.53 217.23 307.54 217.78 311.38 218.34 315.03 218.89 318.48 219.44 321.72 220 324.75 220.55 327.56 221.1 330.15 221.66 332.53 222.21 334.7 222.76 336.67 223.32 338.45 223.87 340.05 224.42 341.48 224.98 342.75 225.53 343.87 226.08 344.85 226.63 345.72 227.19 346.47 227.74 347.12 228.29 347.68 228.85 348.16 229.4 348.57 229.95 348.92 230.51 349.22 231.06 349.46 231.61 349.67 232.17 349.84 232.72 349.99 233.27 350.11 233.83 350.2 234.38 350.28 234.93 350.35 235.49 350.4 236.04 350.44 236.59 350.48 237.15 350.5 237.7 350.52 238.25 350.54 238.8 350.55 239.36 350.57 239.91 350.57 240.46 350.58 241.02 350.58 241.57 350.59 242.12 350.59 242.68 350.59 243.23 350.6 243.78 350.6 244.34 350.6 244.89 350.6 245.44 350.6 246 350.6 246.55 350.6 247.1 350.6 247.66 350.6 248.21 350.6 248.76 350.6 249.32 350.6 249.87 350.6 250.42 350.6 250.97 350.6 251.53 350.6 252.08 350.6 252.63 350.6 253.19 350.6 253.74 350.6 254.29 350.6 254.85 350.6 255.4 350.6' fill='none' stroke='#f00' stroke-width='1.8'/>
<path d='M72.3 219.6V382.7H272.1' fill='none' stroke='#000' stroke-width='2.1'/>
<path d='M65.8 382.7H72.3M65.8 350.28H72.3M65.8 317.86H72.3M65.8 285.44H72.3M65.8 253.02H72.3M65.8 220.6H72.3M109.9 382.7V389.2M159.5 382.7V389.2M209.1 382.7V389.2M258.9 382.7V389.2' fill='none' stroke='#000' stroke-width='2.1'/>
<text x='33.32' y='385.93' font-size='9.8' textLength='28.78' lengthAdjust='spacing'>178000</text>
<text x='33.32' y='353.51' font-size='9.8' textLength='28.78' lengthAdjust='spacing'>179000</text>
<text x='33.32' y='321.09' font-size='9.8' textLength='28.78' lengthAdjust='spacing'>180000</text>
<text x='33.32' y='288.67' font-size='9.8' textLength='28.78' lengthAdjust='spacing'>181000</text>
<text x='33.32' y='256.25' font-size='9.8' textLength='28.78' lengthAdjust='spacing'>182000</text>
<text x='33.32' y='223.83' font-size='9.8' textLength='28.78' lengthAdjust='spacing'>183000</text>
<text x='91.63' y='400.7' font-size='9.6' textLength='35.96' lengthAdjust='spacing'>1901.088</text>
<text x='141.23' y='400.7' font-size='9.6' textLength='35.96' lengthAdjust='spacing'>1901.096</text>
<text x='190.83' y='400.7' font-size='9.6' textLength='35.96' lengthAdjust='spacing'>1901.104</text>
<text x='240.63' y='400.7' font-size='9.6' textLength='35.96' lengthAdjust='spacing'>1901.112</text>
<text x='89.8' y='249.8' font-size='14' textLength='36.8' lengthAdjust='spacingAndGlyphs'>R (24)</text>
<text x='124.6' y='418.4' font-size='12.6'>Wavenumber/ cm<tspan font-size='6.5' dx='1' dy='-6.8'>-1</tspan></text>
<text transform='translate(19.4 347.9) rotate(-90)' font-size='12.6'>Decay rate (k)/ sec<tspan font-size='7' dy='-6.5'>-1</tspan></text>
<path d='M393.82 340.14a1.85 1.85 0 1 0 3.7 0a1.85 1.85 0 1 0 -3.7 0M394.94 355.17a1.85 1.85 0 1 0 3.7 0a1.85 1.85 0 1 0 -3.7 0M396.74 344.99a1.85 1.85 0 1 0 3.7 0a1.85 1.85 0 1 0 -3.7 0M397.11 336.71a1.85 1.85 0 1 0 3.7 0a1.85 1.85 0 1 0 -3.7 0M396.84 350.38a1.85 1.85 0 1 0 3.7 0a1.85 1.85 0 1 0 -3.7 0M398.54 341.14a1.85 1.85 0 1 0 3.7 0a1.85 1.85 0 1 0 -3.7 0M399.1 357.28a1.85 1.85 0 1 0 3.7 0a1.85 1.85 0 1 0 -3.7 0M400.37 334.61a1.85 1.85 0 1 0 3.7 0a1.85 1.85 0 1 0 -3.7 0M400.37 347.71a1.85 1.85 0 1 0 3.7 0a1.85 1.85 0 1 0 -3.7 0M402.17 338.12a1.85 1.85 0 1 0 3.7 0a1.85 1.85 0 1 0 -3.7 0M403.04 353.26a1.85 1.85 0 1 0 3.7 0a1.85 1.85 0 1 0 -3.7 0M404.59 346.23a1.85 1.85 0 1 0 3.7 0a1.85 1.85 0 1 0 -3.7 0M404.84 335.19a1.85 1.85 0 1 0 3.7 0a1.85 1.85 0 1 0 -3.7 0M405.81 341a1.85 1.85 0 1 0 3.7 0a1.85 1.85 0 1 0 -3.7 0M405.69 350.38a1.85 1.85 0 1 0 3.7 0a1.85 1.85 0 1 0 -3.7 0M408.44 336.68a1.85 1.85 0 1 0 3.7 0a1.85 1.85 0 1 0 -3.7 0M407.23 353.98a1.85 1.85 0 1 0 3.7 0a1.85 1.85 0 1 0 -3.7 0M409.62 344.68a1.85 1.85 0 1 0 3.7 0a1.85 1.85 0 1 0 -3.7 0M409.78 350.37a1.85 1.85 0 1 0 3.7 0a1.85 1.85 0 1 0 -3.7 0M410.39 340.69a1.85 1.85 0 1 0 3.7 0a1.85 1.85 0 1 0 -3.7 0M411.38 337.11a1.85 1.85 0 1 0 3.7 0a1.85 1.85 0 1 0 -3.7 0M412.24 347.68a1.85 1.85 0 1 0 3.7 0a1.85 1.85 0 1 0 -3.7 0M413.65 352.69a1.85 1.85 0 1 0 3.7 0a1.85 1.85 0 1 0 -3.7 0M414.28 342.37a1.85 1.85 0 1 0 3.7 0a1.85 1.85 0 1 0 -3.7 0M415.96 334.69a1.85 1.85 0 1 0 3.7 0a1.85 1.85 0 1 0 -3.7 0M415.18 330.79a1.85 1.85 0 1 0 3.7 0a1.85 1.85 0 1 0 -3.7 0M416.97 340.84a1.85 1.85 0 1 0 3.7 0a1.85 1.85 0 1 0 -3.7 0M417.4 328.43a1.85 1.85 0 1 0 3.7 0a1.85 1.85 0 1 0 -3.7 0M419.11 332.48a1.85 1.85 0 1 0 3.7 0a1.85 1.85 0 1 0 -3.7 0M418.54 322.5a1.85 1.85 0 1 0 3.7 0a1.85 1.85 0 1 0 -3.7 0M420.31 318.25a1.85 1.85 0 1 0 3.7 0a1.85 1.85 0 1 0 -3.7 0M421.46 328.33a1.85 1.85 0 1 0 3.7 0a1.85 1.85 0 1 0 -3.7 0M421.49 314.54a1.85 1.85 0 1 0 3.7 0a1.85 1.85 0 1 0 -3.7 0M423.61 308.92a1.85 1.85 0 1 0 3.7 0a1.85 1.85 0 1 0 -3.7 0M424.08 303.71a1.85 1.85 0 1 0 3.7 0a1.85 1.85 0 1 0 -3.7 0M425.37 312.8a1.85 1.85 0 1 0 3.7 0a1.85 1.85 0 1 0 -3.7 0M426.23 295.22a1.85 1.85 0 1 0 3.7 0a1.85 1.85 0 1 0 -3.7 0M426.13 287.22a1.85 1.85 0 1 0 3.7 0a1.85 1.85 0 1 0 -3.7 0M427.1 292.2a1.85 1.85 0 1 0 3.7 0a1.85 1.85 0 1 0 -3.7 0M428.28 277.36a1.85 1.85 0 1 0 3.7 0a1.85 1.85 0 1 0 -3.7 0M429.63 271.24a1.85 1.85 0 1 0 3.7 0a1.85 1.85 0 1 0 -3.7 0M430.56 263.91a1.85 1.85 0 1 0 3.7 0a1.85 1.85 0 1 0 -3.7 0M430.66 256.25a1.85 1.85 0 1 0 3.7 0a1.85 1.85 0 1 0 -3.7 0M431.59 252.08a1.85 1.85 0 1 0 3.7 0a1.85 1.85 0 1 0 -3.7 0M432.37 246.19a1.85 1.85 0 1 0 3.7 0a1.85 1.85 0 1 0 -3.7 0M433.35 242.68a1.85 1.85 0 1 0 3.7 0a1.85 1.85 0 1 0 -3.7 0M434.4 238.67a1.85 1.85 0 1 0 3.7 0a1.85 1.85 0 1 0 -3.7 0M435.33 236.1a1.85 1.85 0 1 0 3.7 0a1.85 1.85 0 1 0 -3.7 0M437.31 234.78a1.85 1.85 0 1 0 3.7 0a1.85 1.85 0 1 0 -3.7 0M436.9 236.17a1.85 1.85 0 1 0 3.7 0a1.85 1.85 0 1 0 -3.7 0M437.89 235.64a1.85 1.85 0 1 0 3.7 0a1.85 1.85 0 1 0 -3.7 0M439.14 238.65a1.85 1.85 0 1 0 3.7 0a1.85 1.85 0 1 0 -3.7 0M439.31 240.7a1.85 1.85 0 1 0 3.7 0a1.85 1.85 0 1 0 -3.7 0M440.48 244.54a1.85 1.85 0 1 0 3.7 0a1.85 1.85 0 1 0 -3.7 0M441.55 250.1a1.85 1.85 0 1 0 3.7 0a1.85 1.85 0 1 0 -3.7 0M442.81 255.76a1.85 1.85 0 1 0 3.7 0a1.85 1.85 0 1 0 -3.7 0M442.64 261.77a1.85 1.85 0 1 0 3.7 0a1.85 1.85 0 1 0 -3.7 0M444.86 266.5a1.85 1.85 0 1 0 3.7 0a1.85 1.85 0 1 0 -3.7 0M444.88 273.48a1.85 1.85 0 1 0 3.7 0a1.85 1.85 0 1 0 -3.7 0M446.02 283.09a1.85 1.85 0 1 0 3.7 0a1.85 1.85 0 1 0 -3.7 0M447.23 290.47a1.85 1.85 0 1 0 3.7 0a1.85 1.85 0 1 0 -3.7 0M448.02 298.01a1.85 1.85 0 1 0 3.7 0a1.85 1.85 0 1 0 -3.7 0M449.09 303a1.85 1.85 0 1 0 3.7 0a1.85 1.85 0 1 0 -3.7 0M449.53 308.9a1.85 1.85 0 1 0 3.7 0a1.85 1.85 0 1 0 -3.7 0M450.31 316.04a1.85 1.85 0 1 0 3.7 0a1.85 1.85 0 1 0 -3.7 0M451.36 323.2a1.85 1.85 0 1 0 3.7 0a1.85 1.85 0 1 0 -3.7 0M451.58 328.61a1.85 1.85 0 1 0 3.7 0a1.85 1.85 0 1 0 -3.7 0M453.56 318.77a1.85 1.85 0 1 0 3.7 0a1.85 1.85 0 1 0 -3.7 0M453.44 326.49a1.85 1.85 0 1 0 3.7 0a1.85 1.85 0 1 0 -3.7 0M454.08 339.89a1.85 1.85 0 1 0 3.7 0a1.85 1.85 0 1 0 -3.7 0M456.61 333.84a1.85 1.85 0 1 0 3.7 0a1.85 1.85 0 1 0 -3.7 0M456.4 342.2a1.85 1.85 0 1 0 3.7 0a1.85 1.85 0 1 0 -3.7 0M456.75 328.53a1.85 1.85 0 1 0 3.7 0a1.85 1.85 0 1 0 -3.7 0M459.15 347.91a1.85 1.85 0 1 0 3.7 0a1.85 1.85 0 1 0 -3.7 0M458.93 339.19a1.85 1.85 0 1 0 3.7 0a1.85 1.85 0 1 0 -3.7 0M460.51 334.1a1.85 1.85 0 1 0 3.7 0a1.85 1.85 0 1 0 -3.7 0M460.44 353.22a1.85 1.85 0 1 0 3.7 0a1.85 1.85 0 1 0 -3.7 0M461.61 342.58a1.85 1.85 0 1 0 3.7 0a1.85 1.85 0 1 0 -3.7 0M461.76 337a1.85 1.85 0 1 0 3.7 0a1.85 1.85 0 1 0 -3.7 0M462.53 349.82a1.85 1.85 0 1 0 3.7 0a1.85 1.85 0 1 0 -3.7 0M463.87 353.47a1.85 1.85 0 1 0 3.7 0a1.85 1.85 0 1 0 -3.7 0M465.2 334.99a1.85 1.85 0 1 0 3.7 0a1.85 1.85 0 1 0 -3.7 0M466.52 344.91a1.85 1.85 0 1 0 3.7 0a1.85 1.85 0 1 0 -3.7 0M468.21 350.76a1.85 1.85 0 1 0 3.7 0a1.85 1.85 0 1 0 -3.7 0M467.36 339.64a1.85 1.85 0 1 0 3.7 0a1.85 1.85 0 1 0 -3.7 0M469.26 345.83a1.85 1.85 0 1 0 3.7 0a1.85 1.85 0 1 0 -3.7 0M469.33 354.86a1.85 1.85 0 1 0 3.7 0a1.85 1.85 0 1 0 -3.7 0M470.43 333.77a1.85 1.85 0 1 0 3.7 0a1.85 1.85 0 1 0 -3.7 0M470.64 338.71a1.85 1.85 0 1 0 3.7 0a1.85 1.85 0 1 0 -3.7 0M471.52 342.48a1.85 1.85 0 1 0 3.7 0a1.85 1.85 0 1 0 -3.7 0M472.75 350.52a1.85 1.85 0 1 0 3.7 0a1.85 1.85 0 1 0 -3.7 0M473.42 346.34a1.85 1.85 0 1 0 3.7 0a1.85 1.85 0 1 0 -3.7 0M474.89 336.5a1.85 1.85 0 1 0 3.7 0a1.85 1.85 0 1 0 -3.7 0M475.42 353.18a1.85 1.85 0 1 0 3.7 0a1.85 1.85 0 1 0 -3.7 0M477.28 341.49a1.85 1.85 0 1 0 3.7 0a1.85 1.85 0 1 0 -3.7 0M477.6 349.34a1.85 1.85 0 1 0 3.7 0a1.85 1.85 0 1 0 -3.7 0M478.49 335.19a1.85 1.85 0 1 0 3.7 0a1.85 1.85 0 1 0 -3.7 0M479.85 353.24a1.85 1.85 0 1 0 3.7 0a1.85 1.85 0 1 0 -3.7 0M480.42 338.98a1.85 1.85 0 1 0 3.7 0a1.85 1.85 0 1 0 -3.7 0M481.02 332.08a1.85 1.85 0 1 0 3.7 0a1.85 1.85 0 1 0 -3.7 0M481.87 345.5a1.85 1.85 0 1 0 3.7 0a1.85 1.85 0 1 0 -3.7 0M482.73 329.03a1.85 1.85 0 1 0 3.7 0a1.85 1.85 0 1 0 -3.7 0M484.21 341.34a1.85 1.85 0 1 0 3.7 0a1.85 1.85 0 1 0 -3.7 0M484.94 335.12a1.85 1.85 0 1 0 3.7 0a1.85 1.85 0 1 0 -3.7 0M485.61 331.55a1.85 1.85 0 1 0 3.7 0a1.85 1.85 0 1 0 -3.7 0M486.7 325.7a1.85 1.85 0 1 0 3.7 0a1.85 1.85 0 1 0 -3.7 0M486.91 320.93a1.85 1.85 0 1 0 3.7 0a1.85 1.85 0 1 0 -3.7 0M488.32 313.65a1.85 1.85 0 1 0 3.7 0a1.85 1.85 0 1 0 -3.7 0M488.23 308.43a1.85 1.85 0 1 0 3.7 0a1.85 1.85 0 1 0 -3.7 0M490.49 318.1a1.85 1.85 0 1 0 3.7 0a1.85 1.85 0 1 0 -3.7 0M490.74 301.38a1.85 1.85 0 1 0 3.7 0a1.85 1.85 0 1 0 -3.7 0M491.66 293.82a1.85 1.85 0 1 0 3.7 0a1.85 1.85 0 1 0 -3.7 0M492.75 287.86a1.85 1.85 0 1 0 3.7 0a1.85 1.85 0 1 0 -3.7 0M493.32 282.37a1.85 1.85 0 1 0 3.7 0a1.85 1.85 0 1 0 -3.7 0M494.08 276.49a1.85 1.85 0 1 0 3.7 0a1.85 1.85 0 1 0 -3.7 0M495.68 270.96a1.85 1.85 0 1 0 3.7 0a1.85 1.85 0 1 0 -3.7 0M496.02 264.94a1.85 1.85 0 1 0 3.7 0a1.85 1.85 0 1 0 -3.7 0M496.38 258.44a1.85 1.85 0 1 0 3.7 0a1.85 1.85 0 1 0 -3.7 0M497.93 253.08a1.85 1.85 0 1 0 3.7 0a1.85 1.85 0 1 0 -3.7 0M497.74 248.35a1.85 1.85 0 1 0 3.7 0a1.85 1.85 0 1 0 -3.7 0M500.3 243.8a1.85 1.85 0 1 0 3.7 0a1.85 1.85 0 1 0 -3.7 0M500.26 240.19a1.85 1.85 0 1 0 3.7 0a1.85 1.85 0 1 0 -3.7 0M501.25 237.73a1.85 1.85 0 1 0 3.7 0a1.85 1.85 0 1 0 -3.7 0M503.23 239.14a1.85 1.85 0 1 0 3.7 0a1.85 1.85 0 1 0 -3.7 0M504.06 235.83a1.85 1.85 0 1 0 3.7 0a1.85 1.85 0 1 0 -3.7 0M503.92 237.51a1.85 1.85 0 1 0 3.7 0a1.85 1.85 0 1 0 -3.7 0M505.05 240.91a1.85 1.85 0 1 0 3.7 0a1.85 1.85 0 1 0 -3.7 0M506.16 243.7a1.85 1.85 0 1 0 3.7 0a1.85 1.85 0 1 0 -3.7 0M507.33 247.94a1.85 1.85 0 1 0 3.7 0a1.85 1.85 0 1 0 -3.7 0M507.3 252.51a1.85 1.85 0 1 0 3.7 0a1.85 1.85 0 1 0 -3.7 0M508.31 256.53a1.85 1.85 0 1 0 3.7 0a1.85 1.85 0 1 0 -3.7 0M509.74 263.48a1.85 1.85 0 1 0 3.7 0a1.85 1.85 0 1 0 -3.7 0M510.14 271.08a1.85 1.85 0 1 0 3.7 0a1.85 1.85 0 1 0 -3.7 0M511.26 278.39a1.85 1.85 0 1 0 3.7 0a1.85 1.85 0 1 0 -3.7 0M512.06 284.06a1.85 1.85 0 1 0 3.7 0a1.85 1.85 0 1 0 -3.7 0M512.07 288.72a1.85 1.85 0 1 0 3.7 0a1.85 1.85 0 1 0 -3.7 0M513.08 295.9a1.85 1.85 0 1 0 3.7 0a1.85 1.85 0 1 0 -3.7 0M513.07 303a1.85 1.85 0 1 0 3.7 0a1.85 1.85 0 1 0 -3.7 0M515.14 311.38a1.85 1.85 0 1 0 3.7 0a1.85 1.85 0 1 0 -3.7 0M516.81 304.96a1.85 1.85 0 1 0 3.7 0a1.85 1.85 0 1 0 -3.7 0M516.47 320.49a1.85 1.85 0 1 0 3.7 0a1.85 1.85 0 1 0 -3.7 0M518.52 329.07a1.85 1.85 0 1 0 3.7 0a1.85 1.85 0 1 0 -3.7 0M519.28 322.99a1.85 1.85 0 1 0 3.7 0a1.85 1.85 0 1 0 -3.7 0M519.63 337.15a1.85 1.85 0 1 0 3.7 0a1.85 1.85 0 1 0 -3.7 0M520.53 333.04a1.85 1.85 0 1 0 3.7 0a1.85 1.85 0 1 0 -3.7 0M521.45 343.22a1.85 1.85 0 1 0 3.7 0a1.85 1.85 0 1 0 -3.7 0M521.86 325.72a1.85 1.85 0 1 0 3.7 0a1.85 1.85 0 1 0 -3.7 0M523.02 348.09a1.85 1.85 0 1 0 3.7 0a1.85 1.85 0 1 0 -3.7 0M524.02 338.23a1.85 1.85 0 1 0 3.7 0a1.85 1.85 0 1 0 -3.7 0M525.23 333.77a1.85 1.85 0 1 0 3.7 0a1.85 1.85 0 1 0 -3.7 0M526.19 343.9a1.85 1.85 0 1 0 3.7 0a1.85 1.85 0 1 0 -3.7 0M526.31 351.63a1.85 1.85 0 1 0 3.7 0a1.85 1.85 0 1 0 -3.7 0M527.97 339.28a1.85 1.85 0 1 0 3.7 0a1.85 1.85 0 1 0 -3.7 0M528.04 348.52a1.85 1.85 0 1 0 3.7 0a1.85 1.85 0 1 0 -3.7 0M529.23 345.64a1.85 1.85 0 1 0 3.7 0a1.85 1.85 0 1 0 -3.7 0M530.37 355.34a1.85 1.85 0 1 0 3.7 0a1.85 1.85 0 1 0 -3.7 0M531.05 333.7a1.85 1.85 0 1 0 3.7 0a1.85 1.85 0 1 0 -3.7 0M531.88 341.62a1.85 1.85 0 1 0 3.7 0a1.85 1.85 0 1 0 -3.7 0M532.95 351.02a1.85 1.85 0 1 0 3.7 0a1.85 1.85 0 1 0 -3.7 0M533.42 345.41a1.85 1.85 0 1 0 3.7 0a1.85 1.85 0 1 0 -3.7 0M534.25 338.47a1.85 1.85 0 1 0 3.7 0a1.85 1.85 0 1 0 -3.7 0M535.35 341.93a1.85 1.85 0 1 0 3.7 0a1.85 1.85 0 1 0 -3.7 0M536.81 355.13a1.85 1.85 0 1 0 3.7 0a1.85 1.85 0 1 0 -3.7 0M537.16 345.8a1.85 1.85 0 1 0 3.7 0a1.85 1.85 0 1 0 -3.7 0M539.04 337.06a1.85 1.85 0 1 0 3.7 0a1.85 1.85 0 1 0 -3.7 0M539.07 340.88a1.85 1.85 0 1 0 3.7 0a1.85 1.85 0 1 0 -3.7 0M538.35 350.38a1.85 1.85 0 1 0 3.7 0a1.85 1.85 0 1 0 -3.7 0M540.5 358.05a1.85 1.85 0 1 0 3.7 0a1.85 1.85 0 1 0 -3.7 0M542.43 353.97a1.85 1.85 0 1 0 3.7 0a1.85 1.85 0 1 0 -3.7 0M542.48 347.48a1.85 1.85 0 1 0 3.7 0a1.85 1.85 0 1 0 -3.7 0M543.13 334.7a1.85 1.85 0 1 0 3.7 0a1.85 1.85 0 1 0 -3.7 0M543.79 341.99a1.85 1.85 0 1 0 3.7 0a1.85 1.85 0 1 0 -3.7 0M545.77 345.59a1.85 1.85 0 1 0 3.7 0a1.85 1.85 0 1 0 -3.7 0M546.49 350.26a1.85 1.85 0 1 0 3.7 0a1.85 1.85 0 1 0 -3.7 0M547.2 339.15a1.85 1.85 0 1 0 3.7 0a1.85 1.85 0 1 0 -3.7 0M547.95 342.74a1.85 1.85 0 1 0 3.7 0a1.85 1.85 0 1 0 -3.7 0M549.34 356.97a1.85 1.85 0 1 0 3.7 0a1.85 1.85 0 1 0 -3.7 0M549.91 346.63a1.85 1.85 0 1 0 3.7 0a1.85 1.85 0 1 0 -3.7 0M549.76 336.28a1.85 1.85 0 1 0 3.7 0a1.85 1.85 0 1 0 -3.7 0M551.64 351.93a1.85 1.85 0 1 0 3.7 0a1.85 1.85 0 1 0 -3.7 0M552.21 340.73a1.85 1.85 0 1 0 3.7 0a1.85 1.85 0 1 0 -3.7 0M552.95 356.44a1.85 1.85 0 1 0 3.7 0a1.85 1.85 0 1 0 -3.7 0M554.27 345a1.85 1.85 0 1 0 3.7 0a1.85 1.85 0 1 0 -3.7 0M554.78 336.53a1.85 1.85 0 1 0 3.7 0a1.85 1.85 0 1 0 -3.7 0M554.17 349.71a1.85 1.85 0 1 0 3.7 0a1.85 1.85 0 1 0 -3.7 0M557.3 355.2a1.85 1.85 0 1 0 3.7 0a1.85 1.85 0 1 0 -3.7 0M557.91 343.05a1.85 1.85 0 1 0 3.7 0a1.85 1.85 0 1 0 -3.7 0M558.21 350.01a1.85 1.85 0 1 0 3.7 0a1.85 1.85 0 1 0 -3.7 0M558.96 352.33a1.85 1.85 0 1 0 3.7 0a1.85 1.85 0 1 0 -3.7 0' fill='#fff' stroke='#000' stroke-width='1.2'/>
<path d='M396 347 396.55 347 397.1 347 397.66 347 398.21 347 398.76 347 399.31 347 399.86 347 400.41 346.99 400.97 346.99 401.52 346.99 402.07 346.99 402.62 346.98 403.17 346.98 403.73 346.97 404.28 346.96 404.83 346.95 405.38 346.94 405.93 346.92 406.48 346.9 407.04 346.88 407.59 346.84 408.14 346.8 408.69 346.75 409.24 346.69 409.8 346.62 410.35 346.53 410.9 346.42 411.45 346.29 412 346.13 412.56 345.94 413.11 345.72 413.66 345.46 414.21 345.15 414.76 344.78 415.31 344.36 415.87 343.86 416.42 343.29 416.97 342.63 417.52 341.88 418.07 341.02 418.63 340.04 419.18 338.93 419.73 337.69 420.28 336.3 420.83 334.75 421.38 333.04 421.94 331.14 422.49 329.07 423.04 326.8 423.59 324.34 424.14 321.67 424.7 318.81 425.25 315.75 425.8 312.5 426.35 309.07 426.9 305.45 427.45 301.68 428.01 297.77 428.56 293.73 429.11 289.58 429.66 285.37 430.21 281.11 430.77 276.85 431.32 272.6 431.87 268.42 432.42 264.33 432.97 260.38 433.53 256.6 434.08 253.04 434.63 249.73 435.18 246.71 435.73 244.01 436.28 241.66 436.84 239.7 437.39 238.13 437.94 236.98 438.49 236.27 439.04 236 439.6 236.18 440.15 236.8 440.7 237.86 441.25 239.34 441.8 241.23 442.35 243.5 442.91 246.13 443.46 249.09 444.01 252.34 444.56 255.85 445.11 259.59 445.67 263.51 446.22 267.57 446.77 271.74 447.32 275.97 447.87 280.24 448.42 284.5 448.98 288.73 449.53 292.88 450.08 296.95 450.63 300.89 451.18 304.69 451.74 308.34 452.29 311.81 452.84 315.1 453.39 318.2 453.94 321.1 454.49 323.81 455.05 326.31 455.6 328.62 456.15 330.73 456.7 332.66 457.25 334.42 457.81 336 458.36 337.42 458.91 338.69 459.46 339.82 460.01 340.83 460.57 341.71 461.12 342.49 461.67 343.16 462.22 343.75 462.77 344.26 463.32 344.7 463.88 345.07 464.43 345.4 464.98 345.67 465.53 345.9 466.08 346.09 466.64 346.25 467.19 346.39 467.74 346.5 468.29 346.59 468.84 346.66 469.39 346.72 469.95 346.76 470.5 346.79 471.05 346.81 471.6 346.82 472.15 346.83 472.71 346.82 473.26 346.8 473.81 346.78 474.36 346.74 474.91 346.69 475.46 346.63 476.02 346.55 476.57 346.45 477.12 346.33 477.67 346.18 478.22 346.01 478.78 345.8 479.33 345.55 479.88 345.26 480.43 344.92 480.98 344.51 481.54 344.05 482.09 343.51 482.64 342.88 483.19 342.17 483.74 341.35 484.29 340.42 484.85 339.37 485.4 338.19 485.95 336.86 486.5 335.38 487.05 333.74 487.61 331.93 488.16 329.94 488.71 327.76 489.26 325.4 489.81 322.83 490.36 320.08 490.92 317.13 491.47 313.99 492.02 310.67 492.57 307.17 493.12 303.51 493.68 299.71 494.23 295.78 494.78 291.75 495.33 287.63 495.88 283.47 496.43 279.29 496.99 275.13 497.54 271.01 498.09 266.98 498.64 263.08 499.19 259.34 499.75 255.8 500.3 252.49 500.85 249.46 501.4 246.74 501.95 244.36 502.51 242.34 503.06 240.71 503.61 239.49 504.16 238.69 504.71 238.33 505.26 238.4 505.82 238.9 506.37 239.84 506.92 241.19 507.47 242.95 508.02 245.08 508.58 247.58 509.13 250.4 509.68 253.52 510.23 256.9 510.78 260.51 511.33 264.31 511.89 268.26 512.44 272.32 512.99 276.45 513.54 280.63 514.09 284.81 514.65 288.96 515.2 293.05 515.75 297.05 516.3 300.94 516.85 304.7 517.4 308.31 517.96 311.75 518.51 315.02 519.06 318.09 519.61 320.98 520.16 323.68 520.72 326.17 521.27 328.48 521.82 330.6 522.37 332.53 522.92 334.28 523.47 335.87 524.03 337.3 524.58 338.58 525.13 339.72 525.68 340.73 526.23 341.62 526.79 342.41 527.34 343.09 527.89 343.69 528.44 344.21 528.99 344.65 529.55 345.03 530.1 345.36 530.65 345.64 531.2 345.87 531.75 346.07 532.3 346.24 532.86 346.38 533.41 346.49 533.96 346.59 534.51 346.67 535.06 346.73 535.62 346.79 536.17 346.83 536.72 346.86 537.27 346.89 537.82 346.92 538.37 346.93 538.93 346.95 539.48 346.96 540.03 346.97 540.58 346.98 541.13 346.98 541.69 346.99 542.24 346.99 542.79 346.99 543.34 346.99 543.89 347 544.44 347 545 347 545.55 347 546.1 347 546.65 347 547.2 347 547.76 347 548.31 347 548.86 347 549.41 347 549.96 347 550.52 347 551.07 347 551.62 347 552.17 347 552.72 347 553.27 347 553.83 347 554.38 347 554.93 347 555.48 347 556.03 347 556.59 347 557.14 347 557.69 347 558.24 347 558.79 347 559.34 347 559.9 347 560.45 347 561 347' fill='none' stroke='#f00' stroke-width='1.8'/>
<path d='M379.5 219.8V382.6H580.3' fill='none' stroke='#000' stroke-width='2.1'/>
<path d='M373 382.6H379.5M373 350.24H379.5M373 317.88H379.5M373 285.52H379.5M373 253.16H379.5M373 220.8H379.5M406 382.6V389.1M460 382.6V389.1M513 382.6V389.1M566.1 382.6V389.1' fill='none' stroke='#000' stroke-width='2.1'/>
<text x='340.93' y='385.77' font-size='9.6' textLength='28.25' lengthAdjust='spacing'>178000</text>
<text x='340.93' y='353.41' font-size='9.6' textLength='28.25' lengthAdjust='spacing'>179000</text>
<text x='340.93' y='321.05' font-size='9.6' textLength='28.25' lengthAdjust='spacing'>180000</text>
<text x='340.93' y='288.69' font-size='9.6' textLength='28.25' lengthAdjust='spacing'>181000</text>
<text x='340.93' y='256.33' font-size='9.6' textLength='28.25' lengthAdjust='spacing'>182000</text>
<text x='340.93' y='223.97' font-size='9.6' textLength='28.25' lengthAdjust='spacing'>183000</text>
<text x='387.48' y='400.7' font-size='9.6' textLength='36.46' lengthAdjust='spacing'>1901.496</text>
<text x='441.48' y='400.7' font-size='9.6' textLength='36.46' lengthAdjust='spacing'>1901.504</text>
<text x='494.48' y='400.7' font-size='9.6' textLength='36.46' lengthAdjust='spacing'>1901.512</text>
<text x='547.58' y='400.7' font-size='9.6' textLength='36.46' lengthAdjust='spacing'>1901.520</text>
<text x='388.3' y='250.2' font-size='14' textLength='36' lengthAdjust='spacingAndGlyphs'>R (25)</text>
<text x='431.5' y='419.7' font-size='12.6'>Wavenumber/ cm<tspan font-size='6.5' dx='1' dy='-6.8'>-1</tspan></text>
<text transform='translate(327.7 351.6) rotate(-90)' font-size='12.6'>Decay rate (k)/ sec<tspan font-size='7' dy='-6.5'>-1</tspan></text>
<path d='M97.5 583.07a1.6 1.6 0 1 0 3.2 0a1.6 1.6 0 1 0 -3.2 0M97.74 589.58a1.6 1.6 0 1 0 3.2 0a1.6 1.6 0 1 0 -3.2 0M98.78 573.82a1.6 1.6 0 1 0 3.2 0a1.6 1.6 0 1 0 -3.2 0M99.61 579.38a1.6 1.6 0 1 0 3.2 0a1.6 1.6 0 1 0 -3.2 0M100.47 586.94a1.6 1.6 0 1 0 3.2 0a1.6 1.6 0 1 0 -3.2 0M100.46 583.37a1.6 1.6 0 1 0 3.2 0a1.6 1.6 0 1 0 -3.2 0M100.63 574.19a1.6 1.6 0 1 0 3.2 0a1.6 1.6 0 1 0 -3.2 0M101.02 576.94a1.6 1.6 0 1 0 3.2 0a1.6 1.6 0 1 0 -3.2 0M102.29 589.93a1.6 1.6 0 1 0 3.2 0a1.6 1.6 0 1 0 -3.2 0M103.23 582.81a1.6 1.6 0 1 0 3.2 0a1.6 1.6 0 1 0 -3.2 0M103.05 578.72a1.6 1.6 0 1 0 3.2 0a1.6 1.6 0 1 0 -3.2 0M102.8 585.67a1.6 1.6 0 1 0 3.2 0a1.6 1.6 0 1 0 -3.2 0M103.44 574.78a1.6 1.6 0 1 0 3.2 0a1.6 1.6 0 1 0 -3.2 0M105.22 580.36a1.6 1.6 0 1 0 3.2 0a1.6 1.6 0 1 0 -3.2 0M105.02 586.79a1.6 1.6 0 1 0 3.2 0a1.6 1.6 0 1 0 -3.2 0M104.56 577.37a1.6 1.6 0 1 0 3.2 0a1.6 1.6 0 1 0 -3.2 0M105.88 571.18a1.6 1.6 0 1 0 3.2 0a1.6 1.6 0 1 0 -3.2 0M105.85 574.82a1.6 1.6 0 1 0 3.2 0a1.6 1.6 0 1 0 -3.2 0M106.61 590.15a1.6 1.6 0 1 0 3.2 0a1.6 1.6 0 1 0 -3.2 0M107.19 585.15a1.6 1.6 0 1 0 3.2 0a1.6 1.6 0 1 0 -3.2 0M107.58 577.96a1.6 1.6 0 1 0 3.2 0a1.6 1.6 0 1 0 -3.2 0M108.71 581.81a1.6 1.6 0 1 0 3.2 0a1.6 1.6 0 1 0 -3.2 0M108.9 573.09a1.6 1.6 0 1 0 3.2 0a1.6 1.6 0 1 0 -3.2 0M109.14 575.66a1.6 1.6 0 1 0 3.2 0a1.6 1.6 0 1 0 -3.2 0M110.14 587.66a1.6 1.6 0 1 0 3.2 0a1.6 1.6 0 1 0 -3.2 0M110.85 578.64a1.6 1.6 0 1 0 3.2 0a1.6 1.6 0 1 0 -3.2 0M110.12 580.93a1.6 1.6 0 1 0 3.2 0a1.6 1.6 0 1 0 -3.2 0M111.31 584.37a1.6 1.6 0 1 0 3.2 0a1.6 1.6 0 1 0 -3.2 0M111.45 582.29a1.6 1.6 0 1 0 3.2 0a1.6 1.6 0 1 0 -3.2 0M112.36 589.5a1.6 1.6 0 1 0 3.2 0a1.6 1.6 0 1 0 -3.2 0M112.3 573.88a1.6 1.6 0 1 0 3.2 0a1.6 1.6 0 1 0 -3.2 0M113.46 576.12a1.6 1.6 0 1 0 3.2 0a1.6 1.6 0 1 0 -3.2 0M113.93 586.25a1.6 1.6 0 1 0 3.2 0a1.6 1.6 0 1 0 -3.2 0M114.3 579.74a1.6 1.6 0 1 0 3.2 0a1.6 1.6 0 1 0 -3.2 0M114.43 571.98a1.6 1.6 0 1 0 3.2 0a1.6 1.6 0 1 0 -3.2 0M115.26 583.48a1.6 1.6 0 1 0 3.2 0a1.6 1.6 0 1 0 -3.2 0M115.41 590.18a1.6 1.6 0 1 0 3.2 0a1.6 1.6 0 1 0 -3.2 0M115.78 575.44a1.6 1.6 0 1 0 3.2 0a1.6 1.6 0 1 0 -3.2 0M117.07 586.61a1.6 1.6 0 1 0 3.2 0a1.6 1.6 0 1 0 -3.2 0M116.91 577.88a1.6 1.6 0 1 0 3.2 0a1.6 1.6 0 1 0 -3.2 0M118.55 581.61a1.6 1.6 0 1 0 3.2 0a1.6 1.6 0 1 0 -3.2 0M118.82 589.86a1.6 1.6 0 1 0 3.2 0a1.6 1.6 0 1 0 -3.2 0M117.97 573.76a1.6 1.6 0 1 0 3.2 0a1.6 1.6 0 1 0 -3.2 0M119.6 576.81a1.6 1.6 0 1 0 3.2 0a1.6 1.6 0 1 0 -3.2 0M119.42 584.82a1.6 1.6 0 1 0 3.2 0a1.6 1.6 0 1 0 -3.2 0M120.49 582.47a1.6 1.6 0 1 0 3.2 0a1.6 1.6 0 1 0 -3.2 0M121 572.97a1.6 1.6 0 1 0 3.2 0a1.6 1.6 0 1 0 -3.2 0M120.48 586.95a1.6 1.6 0 1 0 3.2 0a1.6 1.6 0 1 0 -3.2 0M121.86 575.32a1.6 1.6 0 1 0 3.2 0a1.6 1.6 0 1 0 -3.2 0M122.35 578.77a1.6 1.6 0 1 0 3.2 0a1.6 1.6 0 1 0 -3.2 0M123.46 590.21a1.6 1.6 0 1 0 3.2 0a1.6 1.6 0 1 0 -3.2 0M122.89 586.05a1.6 1.6 0 1 0 3.2 0a1.6 1.6 0 1 0 -3.2 0M124.35 582.59a1.6 1.6 0 1 0 3.2 0a1.6 1.6 0 1 0 -3.2 0M123.93 576.8a1.6 1.6 0 1 0 3.2 0a1.6 1.6 0 1 0 -3.2 0M124.82 579.73a1.6 1.6 0 1 0 3.2 0a1.6 1.6 0 1 0 -3.2 0M125.07 572.65a1.6 1.6 0 1 0 3.2 0a1.6 1.6 0 1 0 -3.2 0M126.71 585.94a1.6 1.6 0 1 0 3.2 0a1.6 1.6 0 1 0 -3.2 0M126.77 574.21a1.6 1.6 0 1 0 3.2 0a1.6 1.6 0 1 0 -3.2 0M128.21 582.28a1.6 1.6 0 1 0 3.2 0a1.6 1.6 0 1 0 -3.2 0M127.81 577.57a1.6 1.6 0 1 0 3.2 0a1.6 1.6 0 1 0 -3.2 0M128.42 589.11a1.6 1.6 0 1 0 3.2 0a1.6 1.6 0 1 0 -3.2 0M128.92 584.59a1.6 1.6 0 1 0 3.2 0a1.6 1.6 0 1 0 -3.2 0M128.7 580.28a1.6 1.6 0 1 0 3.2 0a1.6 1.6 0 1 0 -3.2 0M129.47 575.12a1.6 1.6 0 1 0 3.2 0a1.6 1.6 0 1 0 -3.2 0M130.68 572.83a1.6 1.6 0 1 0 3.2 0a1.6 1.6 0 1 0 -3.2 0M130.31 577.08a1.6 1.6 0 1 0 3.2 0a1.6 1.6 0 1 0 -3.2 0M131.1 581.79a1.6 1.6 0 1 0 3.2 0a1.6 1.6 0 1 0 -3.2 0M131.5 590.27a1.6 1.6 0 1 0 3.2 0a1.6 1.6 0 1 0 -3.2 0M132.31 585.56a1.6 1.6 0 1 0 3.2 0a1.6 1.6 0 1 0 -3.2 0M132.33 579.13a1.6 1.6 0 1 0 3.2 0a1.6 1.6 0 1 0 -3.2 0M132.94 576.54a1.6 1.6 0 1 0 3.2 0a1.6 1.6 0 1 0 -3.2 0M133.63 573.25a1.6 1.6 0 1 0 3.2 0a1.6 1.6 0 1 0 -3.2 0M134.07 583a1.6 1.6 0 1 0 3.2 0a1.6 1.6 0 1 0 -3.2 0M134.08 590.53a1.6 1.6 0 1 0 3.2 0a1.6 1.6 0 1 0 -3.2 0M135.47 586.67a1.6 1.6 0 1 0 3.2 0a1.6 1.6 0 1 0 -3.2 0M134.87 577.5a1.6 1.6 0 1 0 3.2 0a1.6 1.6 0 1 0 -3.2 0M135.42 571.34a1.6 1.6 0 1 0 3.2 0a1.6 1.6 0 1 0 -3.2 0M135.88 574.94a1.6 1.6 0 1 0 3.2 0a1.6 1.6 0 1 0 -3.2 0M137.51 581.24a1.6 1.6 0 1 0 3.2 0a1.6 1.6 0 1 0 -3.2 0M137.35 585.16a1.6 1.6 0 1 0 3.2 0a1.6 1.6 0 1 0 -3.2 0M137.54 578.32a1.6 1.6 0 1 0 3.2 0a1.6 1.6 0 1 0 -3.2 0M137.96 590.08a1.6 1.6 0 1 0 3.2 0a1.6 1.6 0 1 0 -3.2 0M139.24 573.51a1.6 1.6 0 1 0 3.2 0a1.6 1.6 0 1 0 -3.2 0M139 576a1.6 1.6 0 1 0 3.2 0a1.6 1.6 0 1 0 -3.2 0M139.4 583.47a1.6 1.6 0 1 0 3.2 0a1.6 1.6 0 1 0 -3.2 0M140.84 579.18a1.6 1.6 0 1 0 3.2 0a1.6 1.6 0 1 0 -3.2 0M140.44 590.58a1.6 1.6 0 1 0 3.2 0a1.6 1.6 0 1 0 -3.2 0M141.38 585.71a1.6 1.6 0 1 0 3.2 0a1.6 1.6 0 1 0 -3.2 0M142.04 572.86a1.6 1.6 0 1 0 3.2 0a1.6 1.6 0 1 0 -3.2 0M142.32 576.06a1.6 1.6 0 1 0 3.2 0a1.6 1.6 0 1 0 -3.2 0M143.02 588a1.6 1.6 0 1 0 3.2 0a1.6 1.6 0 1 0 -3.2 0M144.21 580.01a1.6 1.6 0 1 0 3.2 0a1.6 1.6 0 1 0 -3.2 0M143.79 590.72a1.6 1.6 0 1 0 3.2 0a1.6 1.6 0 1 0 -3.2 0M143.92 577.08a1.6 1.6 0 1 0 3.2 0a1.6 1.6 0 1 0 -3.2 0M144.13 584.02a1.6 1.6 0 1 0 3.2 0a1.6 1.6 0 1 0 -3.2 0M145.45 574.3a1.6 1.6 0 1 0 3.2 0a1.6 1.6 0 1 0 -3.2 0M145.88 582.36a1.6 1.6 0 1 0 3.2 0a1.6 1.6 0 1 0 -3.2 0M146.69 587.51a1.6 1.6 0 1 0 3.2 0a1.6 1.6 0 1 0 -3.2 0M146.82 577.43a1.6 1.6 0 1 0 3.2 0a1.6 1.6 0 1 0 -3.2 0M147.32 584.56a1.6 1.6 0 1 0 3.2 0a1.6 1.6 0 1 0 -3.2 0M147.7 579.76a1.6 1.6 0 1 0 3.2 0a1.6 1.6 0 1 0 -3.2 0M148.3 573.42a1.6 1.6 0 1 0 3.2 0a1.6 1.6 0 1 0 -3.2 0M149.14 590.91a1.6 1.6 0 1 0 3.2 0a1.6 1.6 0 1 0 -3.2 0M149.37 582.72a1.6 1.6 0 1 0 3.2 0a1.6 1.6 0 1 0 -3.2 0M150.12 587.38a1.6 1.6 0 1 0 3.2 0a1.6 1.6 0 1 0 -3.2 0M151.52 576.09a1.6 1.6 0 1 0 3.2 0a1.6 1.6 0 1 0 -3.2 0M151.31 580.27a1.6 1.6 0 1 0 3.2 0a1.6 1.6 0 1 0 -3.2 0M150.78 571.45a1.6 1.6 0 1 0 3.2 0a1.6 1.6 0 1 0 -3.2 0M152.94 586.72a1.6 1.6 0 1 0 3.2 0a1.6 1.6 0 1 0 -3.2 0M152.75 583.62a1.6 1.6 0 1 0 3.2 0a1.6 1.6 0 1 0 -3.2 0M152.6 578.82a1.6 1.6 0 1 0 3.2 0a1.6 1.6 0 1 0 -3.2 0M154.03 573.3a1.6 1.6 0 1 0 3.2 0a1.6 1.6 0 1 0 -3.2 0M154.09 580.4a1.6 1.6 0 1 0 3.2 0a1.6 1.6 0 1 0 -3.2 0M154.27 588.83a1.6 1.6 0 1 0 3.2 0a1.6 1.6 0 1 0 -3.2 0M154.76 576.74a1.6 1.6 0 1 0 3.2 0a1.6 1.6 0 1 0 -3.2 0M155.09 585.06a1.6 1.6 0 1 0 3.2 0a1.6 1.6 0 1 0 -3.2 0M156.11 578.93a1.6 1.6 0 1 0 3.2 0a1.6 1.6 0 1 0 -3.2 0M157.12 574.48a1.6 1.6 0 1 0 3.2 0a1.6 1.6 0 1 0 -3.2 0M156.93 582.44a1.6 1.6 0 1 0 3.2 0a1.6 1.6 0 1 0 -3.2 0M157.8 588.09a1.6 1.6 0 1 0 3.2 0a1.6 1.6 0 1 0 -3.2 0M159.03 577.39a1.6 1.6 0 1 0 3.2 0a1.6 1.6 0 1 0 -3.2 0M157.99 584.81a1.6 1.6 0 1 0 3.2 0a1.6 1.6 0 1 0 -3.2 0M159.22 581.76a1.6 1.6 0 1 0 3.2 0a1.6 1.6 0 1 0 -3.2 0M159.44 572.18a1.6 1.6 0 1 0 3.2 0a1.6 1.6 0 1 0 -3.2 0M159.57 586.56a1.6 1.6 0 1 0 3.2 0a1.6 1.6 0 1 0 -3.2 0M160.09 589.23a1.6 1.6 0 1 0 3.2 0a1.6 1.6 0 1 0 -3.2 0M161.09 583.29a1.6 1.6 0 1 0 3.2 0a1.6 1.6 0 1 0 -3.2 0M161.82 575.45a1.6 1.6 0 1 0 3.2 0a1.6 1.6 0 1 0 -3.2 0M161.84 578.72a1.6 1.6 0 1 0 3.2 0a1.6 1.6 0 1 0 -3.2 0M162.63 571.89a1.6 1.6 0 1 0 3.2 0a1.6 1.6 0 1 0 -3.2 0M163.47 585.28a1.6 1.6 0 1 0 3.2 0a1.6 1.6 0 1 0 -3.2 0M163.76 581.26a1.6 1.6 0 1 0 3.2 0a1.6 1.6 0 1 0 -3.2 0M164.54 577.43a1.6 1.6 0 1 0 3.2 0a1.6 1.6 0 1 0 -3.2 0M164.84 565.71a1.6 1.6 0 1 0 3.2 0a1.6 1.6 0 1 0 -3.2 0M165.36 571.13a1.6 1.6 0 1 0 3.2 0a1.6 1.6 0 1 0 -3.2 0M166.53 561.35a1.6 1.6 0 1 0 3.2 0a1.6 1.6 0 1 0 -3.2 0M166.43 574.42a1.6 1.6 0 1 0 3.2 0a1.6 1.6 0 1 0 -3.2 0M166.68 557.29a1.6 1.6 0 1 0 3.2 0a1.6 1.6 0 1 0 -3.2 0M167.47 568.18a1.6 1.6 0 1 0 3.2 0a1.6 1.6 0 1 0 -3.2 0M167.16 550.68a1.6 1.6 0 1 0 3.2 0a1.6 1.6 0 1 0 -3.2 0M167.95 545.65a1.6 1.6 0 1 0 3.2 0a1.6 1.6 0 1 0 -3.2 0M169.02 539.84a1.6 1.6 0 1 0 3.2 0a1.6 1.6 0 1 0 -3.2 0M169.44 536.38a1.6 1.6 0 1 0 3.2 0a1.6 1.6 0 1 0 -3.2 0M170.4 529.87a1.6 1.6 0 1 0 3.2 0a1.6 1.6 0 1 0 -3.2 0M170.13 525.11a1.6 1.6 0 1 0 3.2 0a1.6 1.6 0 1 0 -3.2 0M169.9 520.48a1.6 1.6 0 1 0 3.2 0a1.6 1.6 0 1 0 -3.2 0M172.11 509.78a1.6 1.6 0 1 0 3.2 0a1.6 1.6 0 1 0 -3.2 0M172.18 503.83a1.6 1.6 0 1 0 3.2 0a1.6 1.6 0 1 0 -3.2 0M171.61 495.81a1.6 1.6 0 1 0 3.2 0a1.6 1.6 0 1 0 -3.2 0M173.33 487.39a1.6 1.6 0 1 0 3.2 0a1.6 1.6 0 1 0 -3.2 0M173.16 480.92a1.6 1.6 0 1 0 3.2 0a1.6 1.6 0 1 0 -3.2 0M172.73 473.38a1.6 1.6 0 1 0 3.2 0a1.6 1.6 0 1 0 -3.2 0M173.93 467.62a1.6 1.6 0 1 0 3.2 0a1.6 1.6 0 1 0 -3.2 0M174.39 461.93a1.6 1.6 0 1 0 3.2 0a1.6 1.6 0 1 0 -3.2 0M175.94 455.78a1.6 1.6 0 1 0 3.2 0a1.6 1.6 0 1 0 -3.2 0M175.25 451.98a1.6 1.6 0 1 0 3.2 0a1.6 1.6 0 1 0 -3.2 0M176.02 448.62a1.6 1.6 0 1 0 3.2 0a1.6 1.6 0 1 0 -3.2 0M176.51 446.15a1.6 1.6 0 1 0 3.2 0a1.6 1.6 0 1 0 -3.2 0M176.96 447.43a1.6 1.6 0 1 0 3.2 0a1.6 1.6 0 1 0 -3.2 0M177.2 445.71a1.6 1.6 0 1 0 3.2 0a1.6 1.6 0 1 0 -3.2 0M178.26 448.94a1.6 1.6 0 1 0 3.2 0a1.6 1.6 0 1 0 -3.2 0M179.19 450.34a1.6 1.6 0 1 0 3.2 0a1.6 1.6 0 1 0 -3.2 0M179.47 454.14a1.6 1.6 0 1 0 3.2 0a1.6 1.6 0 1 0 -3.2 0M179.2 458.36a1.6 1.6 0 1 0 3.2 0a1.6 1.6 0 1 0 -3.2 0M179.59 465.11a1.6 1.6 0 1 0 3.2 0a1.6 1.6 0 1 0 -3.2 0M180.72 471.42a1.6 1.6 0 1 0 3.2 0a1.6 1.6 0 1 0 -3.2 0M180.81 479.39a1.6 1.6 0 1 0 3.2 0a1.6 1.6 0 1 0 -3.2 0M181.35 484.96a1.6 1.6 0 1 0 3.2 0a1.6 1.6 0 1 0 -3.2 0M181.33 494.25a1.6 1.6 0 1 0 3.2 0a1.6 1.6 0 1 0 -3.2 0M183.64 502.94a1.6 1.6 0 1 0 3.2 0a1.6 1.6 0 1 0 -3.2 0M183.63 509.62a1.6 1.6 0 1 0 3.2 0a1.6 1.6 0 1 0 -3.2 0M183.19 518.85a1.6 1.6 0 1 0 3.2 0a1.6 1.6 0 1 0 -3.2 0M184.63 523.51a1.6 1.6 0 1 0 3.2 0a1.6 1.6 0 1 0 -3.2 0M185.35 531.54a1.6 1.6 0 1 0 3.2 0a1.6 1.6 0 1 0 -3.2 0M183.98 540.52a1.6 1.6 0 1 0 3.2 0a1.6 1.6 0 1 0 -3.2 0M185.4 547.28a1.6 1.6 0 1 0 3.2 0a1.6 1.6 0 1 0 -3.2 0M185.99 538.09a1.6 1.6 0 1 0 3.2 0a1.6 1.6 0 1 0 -3.2 0M187.01 557.89a1.6 1.6 0 1 0 3.2 0a1.6 1.6 0 1 0 -3.2 0M187.12 552.06a1.6 1.6 0 1 0 3.2 0a1.6 1.6 0 1 0 -3.2 0M187.57 564.7a1.6 1.6 0 1 0 3.2 0a1.6 1.6 0 1 0 -3.2 0M188.16 572.78a1.6 1.6 0 1 0 3.2 0a1.6 1.6 0 1 0 -3.2 0M189.61 568.36a1.6 1.6 0 1 0 3.2 0a1.6 1.6 0 1 0 -3.2 0M190.27 577.19a1.6 1.6 0 1 0 3.2 0a1.6 1.6 0 1 0 -3.2 0M189.43 581.26a1.6 1.6 0 1 0 3.2 0a1.6 1.6 0 1 0 -3.2 0M189.73 575.01a1.6 1.6 0 1 0 3.2 0a1.6 1.6 0 1 0 -3.2 0M192.04 572.46a1.6 1.6 0 1 0 3.2 0a1.6 1.6 0 1 0 -3.2 0M190.71 583.42a1.6 1.6 0 1 0 3.2 0a1.6 1.6 0 1 0 -3.2 0M191.41 570.12a1.6 1.6 0 1 0 3.2 0a1.6 1.6 0 1 0 -3.2 0M192.22 578.56a1.6 1.6 0 1 0 3.2 0a1.6 1.6 0 1 0 -3.2 0M192.94 586.26a1.6 1.6 0 1 0 3.2 0a1.6 1.6 0 1 0 -3.2 0M193.72 580.83a1.6 1.6 0 1 0 3.2 0a1.6 1.6 0 1 0 -3.2 0M193.9 575.13a1.6 1.6 0 1 0 3.2 0a1.6 1.6 0 1 0 -3.2 0M193.77 577.8a1.6 1.6 0 1 0 3.2 0a1.6 1.6 0 1 0 -3.2 0M194.96 588.52a1.6 1.6 0 1 0 3.2 0a1.6 1.6 0 1 0 -3.2 0M195.33 584.19a1.6 1.6 0 1 0 3.2 0a1.6 1.6 0 1 0 -3.2 0M196.65 573.56a1.6 1.6 0 1 0 3.2 0a1.6 1.6 0 1 0 -3.2 0M196.2 578.47a1.6 1.6 0 1 0 3.2 0a1.6 1.6 0 1 0 -3.2 0M196.05 581.24a1.6 1.6 0 1 0 3.2 0a1.6 1.6 0 1 0 -3.2 0M196.69 586.61a1.6 1.6 0 1 0 3.2 0a1.6 1.6 0 1 0 -3.2 0M198.44 583.6a1.6 1.6 0 1 0 3.2 0a1.6 1.6 0 1 0 -3.2 0M197.95 575.91a1.6 1.6 0 1 0 3.2 0a1.6 1.6 0 1 0 -3.2 0M197.67 580.09a1.6 1.6 0 1 0 3.2 0a1.6 1.6 0 1 0 -3.2 0M198.93 586.01a1.6 1.6 0 1 0 3.2 0a1.6 1.6 0 1 0 -3.2 0M199.72 577.95a1.6 1.6 0 1 0 3.2 0a1.6 1.6 0 1 0 -3.2 0M200.82 588.79a1.6 1.6 0 1 0 3.2 0a1.6 1.6 0 1 0 -3.2 0M200.22 574.13a1.6 1.6 0 1 0 3.2 0a1.6 1.6 0 1 0 -3.2 0M201.56 581.81a1.6 1.6 0 1 0 3.2 0a1.6 1.6 0 1 0 -3.2 0M202.13 576.96a1.6 1.6 0 1 0 3.2 0a1.6 1.6 0 1 0 -3.2 0M201.88 583.75a1.6 1.6 0 1 0 3.2 0a1.6 1.6 0 1 0 -3.2 0M202.64 587.22a1.6 1.6 0 1 0 3.2 0a1.6 1.6 0 1 0 -3.2 0M204.12 574.2a1.6 1.6 0 1 0 3.2 0a1.6 1.6 0 1 0 -3.2 0M204.6 580.55a1.6 1.6 0 1 0 3.2 0a1.6 1.6 0 1 0 -3.2 0M204.67 585.18a1.6 1.6 0 1 0 3.2 0a1.6 1.6 0 1 0 -3.2 0M204.91 582.98a1.6 1.6 0 1 0 3.2 0a1.6 1.6 0 1 0 -3.2 0M205.81 588.88a1.6 1.6 0 1 0 3.2 0a1.6 1.6 0 1 0 -3.2 0M205.67 577.08a1.6 1.6 0 1 0 3.2 0a1.6 1.6 0 1 0 -3.2 0M206.2 570.46a1.6 1.6 0 1 0 3.2 0a1.6 1.6 0 1 0 -3.2 0M206.32 573.97a1.6 1.6 0 1 0 3.2 0a1.6 1.6 0 1 0 -3.2 0M207.25 580.97a1.6 1.6 0 1 0 3.2 0a1.6 1.6 0 1 0 -3.2 0M207.71 586.37a1.6 1.6 0 1 0 3.2 0a1.6 1.6 0 1 0 -3.2 0M209.64 577.9a1.6 1.6 0 1 0 3.2 0a1.6 1.6 0 1 0 -3.2 0M208.66 583.53a1.6 1.6 0 1 0 3.2 0a1.6 1.6 0 1 0 -3.2 0M209.89 568.04a1.6 1.6 0 1 0 3.2 0a1.6 1.6 0 1 0 -3.2 0M210.42 565a1.6 1.6 0 1 0 3.2 0a1.6 1.6 0 1 0 -3.2 0M210.16 572.6a1.6 1.6 0 1 0 3.2 0a1.6 1.6 0 1 0 -3.2 0M211.34 561.67a1.6 1.6 0 1 0 3.2 0a1.6 1.6 0 1 0 -3.2 0M210.17 559.05a1.6 1.6 0 1 0 3.2 0a1.6 1.6 0 1 0 -3.2 0M211.81 566.91a1.6 1.6 0 1 0 3.2 0a1.6 1.6 0 1 0 -3.2 0M212.69 552.43a1.6 1.6 0 1 0 3.2 0a1.6 1.6 0 1 0 -3.2 0M211.57 555.79a1.6 1.6 0 1 0 3.2 0a1.6 1.6 0 1 0 -3.2 0M212.69 541.82a1.6 1.6 0 1 0 3.2 0a1.6 1.6 0 1 0 -3.2 0M214.3 546.62a1.6 1.6 0 1 0 3.2 0a1.6 1.6 0 1 0 -3.2 0M214.14 531.39a1.6 1.6 0 1 0 3.2 0a1.6 1.6 0 1 0 -3.2 0M214.22 526.83a1.6 1.6 0 1 0 3.2 0a1.6 1.6 0 1 0 -3.2 0M215.09 520.34a1.6 1.6 0 1 0 3.2 0a1.6 1.6 0 1 0 -3.2 0M215.5 513.57a1.6 1.6 0 1 0 3.2 0a1.6 1.6 0 1 0 -3.2 0M216.64 505.34a1.6 1.6 0 1 0 3.2 0a1.6 1.6 0 1 0 -3.2 0M217 497.68a1.6 1.6 0 1 0 3.2 0a1.6 1.6 0 1 0 -3.2 0M217.14 490.75a1.6 1.6 0 1 0 3.2 0a1.6 1.6 0 1 0 -3.2 0M217.45 483.08a1.6 1.6 0 1 0 3.2 0a1.6 1.6 0 1 0 -3.2 0M218.26 476.63a1.6 1.6 0 1 0 3.2 0a1.6 1.6 0 1 0 -3.2 0M219.45 470.28a1.6 1.6 0 1 0 3.2 0a1.6 1.6 0 1 0 -3.2 0M219.46 464.11a1.6 1.6 0 1 0 3.2 0a1.6 1.6 0 1 0 -3.2 0M220.11 458.39a1.6 1.6 0 1 0 3.2 0a1.6 1.6 0 1 0 -3.2 0M220.21 453.86a1.6 1.6 0 1 0 3.2 0a1.6 1.6 0 1 0 -3.2 0M220.14 450.51a1.6 1.6 0 1 0 3.2 0a1.6 1.6 0 1 0 -3.2 0M220.94 447.81a1.6 1.6 0 1 0 3.2 0a1.6 1.6 0 1 0 -3.2 0M222.12 446.31a1.6 1.6 0 1 0 3.2 0a1.6 1.6 0 1 0 -3.2 0M222.35 448.7a1.6 1.6 0 1 0 3.2 0a1.6 1.6 0 1 0 -3.2 0M222.34 447.47a1.6 1.6 0 1 0 3.2 0a1.6 1.6 0 1 0 -3.2 0M222.49 450.78a1.6 1.6 0 1 0 3.2 0a1.6 1.6 0 1 0 -3.2 0M223.86 455.14a1.6 1.6 0 1 0 3.2 0a1.6 1.6 0 1 0 -3.2 0M224.13 458.93a1.6 1.6 0 1 0 3.2 0a1.6 1.6 0 1 0 -3.2 0M224.63 463.41a1.6 1.6 0 1 0 3.2 0a1.6 1.6 0 1 0 -3.2 0M225.14 470.57a1.6 1.6 0 1 0 3.2 0a1.6 1.6 0 1 0 -3.2 0M225.95 476.89a1.6 1.6 0 1 0 3.2 0a1.6 1.6 0 1 0 -3.2 0M226.45 485.36a1.6 1.6 0 1 0 3.2 0a1.6 1.6 0 1 0 -3.2 0M227.29 492.39a1.6 1.6 0 1 0 3.2 0a1.6 1.6 0 1 0 -3.2 0M227.78 500.75a1.6 1.6 0 1 0 3.2 0a1.6 1.6 0 1 0 -3.2 0M228.48 509.27a1.6 1.6 0 1 0 3.2 0a1.6 1.6 0 1 0 -3.2 0M228.72 515.12a1.6 1.6 0 1 0 3.2 0a1.6 1.6 0 1 0 -3.2 0M228.65 523.82a1.6 1.6 0 1 0 3.2 0a1.6 1.6 0 1 0 -3.2 0M229.29 532.3a1.6 1.6 0 1 0 3.2 0a1.6 1.6 0 1 0 -3.2 0M230.07 538.84a1.6 1.6 0 1 0 3.2 0a1.6 1.6 0 1 0 -3.2 0M230.17 545.48a1.6 1.6 0 1 0 3.2 0a1.6 1.6 0 1 0 -3.2 0M231.1 550.34a1.6 1.6 0 1 0 3.2 0a1.6 1.6 0 1 0 -3.2 0M231.9 554.88a1.6 1.6 0 1 0 3.2 0a1.6 1.6 0 1 0 -3.2 0M231.42 562.62a1.6 1.6 0 1 0 3.2 0a1.6 1.6 0 1 0 -3.2 0M231.44 565.99a1.6 1.6 0 1 0 3.2 0a1.6 1.6 0 1 0 -3.2 0M233.43 570.63a1.6 1.6 0 1 0 3.2 0a1.6 1.6 0 1 0 -3.2 0M233.34 559.61a1.6 1.6 0 1 0 3.2 0a1.6 1.6 0 1 0 -3.2 0M234.19 575.84a1.6 1.6 0 1 0 3.2 0a1.6 1.6 0 1 0 -3.2 0M233.67 578.62a1.6 1.6 0 1 0 3.2 0a1.6 1.6 0 1 0 -3.2 0M235.7 568.54a1.6 1.6 0 1 0 3.2 0a1.6 1.6 0 1 0 -3.2 0M235.71 582.4a1.6 1.6 0 1 0 3.2 0a1.6 1.6 0 1 0 -3.2 0M235.77 572.71a1.6 1.6 0 1 0 3.2 0a1.6 1.6 0 1 0 -3.2 0M236.16 577.93a1.6 1.6 0 1 0 3.2 0a1.6 1.6 0 1 0 -3.2 0M236.9 570.48a1.6 1.6 0 1 0 3.2 0a1.6 1.6 0 1 0 -3.2 0M237.26 587.06a1.6 1.6 0 1 0 3.2 0a1.6 1.6 0 1 0 -3.2 0M237.7 574.97a1.6 1.6 0 1 0 3.2 0a1.6 1.6 0 1 0 -3.2 0M237.79 584.57a1.6 1.6 0 1 0 3.2 0a1.6 1.6 0 1 0 -3.2 0M239.48 579.12a1.6 1.6 0 1 0 3.2 0a1.6 1.6 0 1 0 -3.2 0M239.33 590.59a1.6 1.6 0 1 0 3.2 0a1.6 1.6 0 1 0 -3.2 0M239.89 582.66a1.6 1.6 0 1 0 3.2 0a1.6 1.6 0 1 0 -3.2 0M240.4 586.2a1.6 1.6 0 1 0 3.2 0a1.6 1.6 0 1 0 -3.2 0M239.67 573.55a1.6 1.6 0 1 0 3.2 0a1.6 1.6 0 1 0 -3.2 0M241.62 577.24a1.6 1.6 0 1 0 3.2 0a1.6 1.6 0 1 0 -3.2 0M241.69 588.54a1.6 1.6 0 1 0 3.2 0a1.6 1.6 0 1 0 -3.2 0M242.21 584.72a1.6 1.6 0 1 0 3.2 0a1.6 1.6 0 1 0 -3.2 0M242.9 580.96a1.6 1.6 0 1 0 3.2 0a1.6 1.6 0 1 0 -3.2 0M242.88 571.88a1.6 1.6 0 1 0 3.2 0a1.6 1.6 0 1 0 -3.2 0M244.29 574.4a1.6 1.6 0 1 0 3.2 0a1.6 1.6 0 1 0 -3.2 0M244.02 587.16a1.6 1.6 0 1 0 3.2 0a1.6 1.6 0 1 0 -3.2 0M244.41 578.44a1.6 1.6 0 1 0 3.2 0a1.6 1.6 0 1 0 -3.2 0M244.94 590.43a1.6 1.6 0 1 0 3.2 0a1.6 1.6 0 1 0 -3.2 0M245.95 583.71a1.6 1.6 0 1 0 3.2 0a1.6 1.6 0 1 0 -3.2 0M246.74 581.04a1.6 1.6 0 1 0 3.2 0a1.6 1.6 0 1 0 -3.2 0M246.58 572.25a1.6 1.6 0 1 0 3.2 0a1.6 1.6 0 1 0 -3.2 0M246.62 588.24a1.6 1.6 0 1 0 3.2 0a1.6 1.6 0 1 0 -3.2 0M248.41 578.22a1.6 1.6 0 1 0 3.2 0a1.6 1.6 0 1 0 -3.2 0M247.85 585.73a1.6 1.6 0 1 0 3.2 0a1.6 1.6 0 1 0 -3.2 0M249.48 575.2a1.6 1.6 0 1 0 3.2 0a1.6 1.6 0 1 0 -3.2 0M249.35 588.2a1.6 1.6 0 1 0 3.2 0a1.6 1.6 0 1 0 -3.2 0M249.53 582.26a1.6 1.6 0 1 0 3.2 0a1.6 1.6 0 1 0 -3.2 0M250.06 585.57a1.6 1.6 0 1 0 3.2 0a1.6 1.6 0 1 0 -3.2 0M251.12 573.3a1.6 1.6 0 1 0 3.2 0a1.6 1.6 0 1 0 -3.2 0M251.83 589.96a1.6 1.6 0 1 0 3.2 0a1.6 1.6 0 1 0 -3.2 0M251.79 578.48a1.6 1.6 0 1 0 3.2 0a1.6 1.6 0 1 0 -3.2 0M252.86 583.28a1.6 1.6 0 1 0 3.2 0a1.6 1.6 0 1 0 -3.2 0M253.94 587.99a1.6 1.6 0 1 0 3.2 0a1.6 1.6 0 1 0 -3.2 0M253.29 579.82a1.6 1.6 0 1 0 3.2 0a1.6 1.6 0 1 0 -3.2 0M253.32 574.09a1.6 1.6 0 1 0 3.2 0a1.6 1.6 0 1 0 -3.2 0M253.87 576.66a1.6 1.6 0 1 0 3.2 0a1.6 1.6 0 1 0 -3.2 0M254.2 586.46a1.6 1.6 0 1 0 3.2 0a1.6 1.6 0 1 0 -3.2 0M255.08 581.63a1.6 1.6 0 1 0 3.2 0a1.6 1.6 0 1 0 -3.2 0' fill='#fff' stroke='#000' stroke-width='1.2'/>
<path d='M99.5 581.9 100.03 581.9 100.55 581.9 101.08 581.9 101.61 581.9 102.13 581.9 102.66 581.9 103.19 581.9 103.71 581.9 104.24 581.9 104.77 581.9 105.29 581.9 105.82 581.9 106.35 581.9 106.87 581.9 107.4 581.9 107.93 581.9 108.45 581.9 108.98 581.9 109.51 581.9 110.04 581.9 110.56 581.9 111.09 581.9 111.62 581.9 112.14 581.9 112.67 581.9 113.2 581.9 113.72 581.9 114.25 581.9 114.78 581.9 115.3 581.9 115.83 581.9 116.36 581.9 116.88 581.9 117.41 581.9 117.94 581.9 118.46 581.9 118.99 581.9 119.52 581.9 120.04 581.9 120.57 581.9 121.1 581.9 121.62 581.9 122.15 581.9 122.68 581.9 123.2 581.9 123.73 581.9 124.26 581.9 124.78 581.9 125.31 581.9 125.84 581.9 126.36 581.9 126.89 581.9 127.42 581.9 127.94 581.9 128.47 581.9 129 581.9 129.53 581.9 130.05 581.9 130.58 581.9 131.11 581.9 131.63 581.9 132.16 581.9 132.69 581.9 133.21 581.9 133.74 581.9 134.27 581.9 134.79 581.9 135.32 581.9 135.85 581.9 136.37 581.9 136.9 581.9 137.43 581.9 137.95 581.9 138.48 581.9 139.01 581.9 139.53 581.9 140.06 581.9 140.59 581.9 141.11 581.9 141.64 581.9 142.17 581.9 142.69 581.9 143.22 581.9 143.75 581.9 144.27 581.9 144.8 581.9 145.33 581.9 145.85 581.9 146.38 581.9 146.91 581.9 147.43 581.9 147.96 581.9 148.49 581.9 149.02 581.9 149.54 581.9 150.07 581.9 150.6 581.9 151.12 581.9 151.65 581.9 152.18 581.9 152.7 581.9 153.23 581.9 153.76 581.9 154.28 581.9 154.81 581.9 155.34 581.89 155.86 581.89 156.39 581.88 156.92 581.88 157.44 581.87 157.97 581.85 158.5 581.82 159.02 581.79 159.55 581.74 160.08 581.67 160.6 581.57 161.13 581.44 161.66 581.26 162.18 581.02 162.71 580.7 163.24 580.28 163.76 579.73 164.29 579.02 164.82 578.13 165.34 577 165.87 575.61 166.4 573.89 166.92 571.8 167.45 569.3 167.98 566.33 168.51 562.85 169.03 558.82 169.56 554.22 170.09 549.02 170.61 543.23 171.14 536.86 171.67 529.97 172.19 522.6 172.72 514.86 173.25 506.85 173.77 498.71 174.3 490.6 174.83 482.67 175.35 475.12 175.88 468.13 176.41 461.87 176.93 456.51 177.46 452.19 177.99 449.05 178.51 447.17 179.04 446.6 179.57 447.37 180.09 449.45 180.62 452.78 181.15 457.26 181.67 462.77 182.2 469.15 182.73 476.24 183.25 483.86 183.78 491.83 184.31 499.96 184.83 508.08 185.36 516.06 185.89 523.75 186.41 531.05 186.94 537.87 187.47 544.15 187.99 549.85 188.52 554.96 189.05 559.47 189.58 563.42 190.1 566.82 190.63 569.71 191.16 572.15 191.68 574.17 192.21 575.84 192.74 577.19 193.26 578.28 193.79 579.14 194.32 579.82 194.84 580.35 195.37 580.75 195.9 581.06 196.42 581.29 196.95 581.46 197.48 581.59 198 581.68 198.53 581.75 199.06 581.79 199.58 581.82 200.11 581.85 200.64 581.86 201.16 581.86 201.69 581.86 202.22 581.86 202.74 581.84 203.27 581.82 203.8 581.79 204.32 581.74 204.85 581.67 205.38 581.58 205.9 581.45 206.43 581.27 206.96 581.04 207.48 580.72 208.01 580.31 208.54 579.77 209.07 579.08 209.59 578.21 210.12 577.1 210.65 575.73 211.17 574.04 211.7 571.99 212.23 569.53 212.75 566.6 213.28 563.17 213.81 559.2 214.33 554.66 214.86 549.53 215.39 543.81 215.91 537.52 216.44 530.7 216.97 523.41 217.49 515.74 218.02 507.8 218.55 499.72 219.07 491.66 219.6 483.79 220.13 476.27 220.65 469.29 221.18 463.04 221.71 457.67 222.23 453.34 222.76 450.16 223.29 448.23 223.81 447.6 224.34 448.3 224.87 450.3 225.39 453.54 225.92 457.94 226.45 463.36 226.97 469.66 227.5 476.67 228.03 484.21 228.56 492.1 229.08 500.17 229.61 508.24 230.14 516.17 230.66 523.82 231.19 531.08 231.72 537.88 232.24 544.14 232.77 549.82 233.3 554.92 233.82 559.43 234.35 563.38 234.88 566.78 235.4 569.67 235.93 572.11 236.46 574.14 236.98 575.81 237.51 577.17 238.04 578.26 238.56 579.13 239.09 579.81 239.62 580.34 240.14 580.74 240.67 581.05 241.2 581.29 241.72 581.46 242.25 581.59 242.78 581.68 243.3 581.75 243.83 581.79 244.36 581.83 244.88 581.85 245.41 581.87 245.94 581.88 246.46 581.89 246.99 581.89 247.52 581.89 248.05 581.9 248.57 581.9 249.1 581.9 249.63 581.9 250.15 581.9 250.68 581.9 251.21 581.9 251.73 581.9 252.26 581.9 252.79 581.9 253.31 581.9 253.84 581.9 254.37 581.9 254.89 581.9 255.42 581.9 255.95 581.9 256.47 581.9 257 581.9' fill='none' stroke='#f00' stroke-width='1.8'/>
<path d='M73.9 432.2V595.1H273.8' fill='none' stroke='#000' stroke-width='2.1'/>
<path d='M67.4 595.1H73.9M67.4 562.72H73.9M67.4 530.34H73.9M67.4 497.96H73.9M67.4 465.58H73.9M67.4 433.2H73.9M74 595.1V601.6M133.5 595.1V601.6M193.6 595.1V601.6M253.4 595.1V601.6' fill='none' stroke='#000' stroke-width='2.1'/>
<text x='34.12' y='598.33' font-size='9.8' textLength='29.18' lengthAdjust='spacing'>178000</text>
<text x='34.12' y='565.95' font-size='9.8' textLength='29.18' lengthAdjust='spacing'>179000</text>
<text x='34.12' y='533.57' font-size='9.8' textLength='29.18' lengthAdjust='spacing'>180000</text>
<text x='34.12' y='501.19' font-size='9.8' textLength='29.18' lengthAdjust='spacing'>181000</text>
<text x='34.12' y='468.81' font-size='9.8' textLength='29.18' lengthAdjust='spacing'>182000</text>
<text x='34.12' y='436.43' font-size='9.8' textLength='29.18' lengthAdjust='spacing'>183000</text>
<text x='56.08' y='612.7' font-size='9.6' textLength='35.26' lengthAdjust='spacing'>1901.880</text>
<text x='115.58' y='612.7' font-size='9.6' textLength='35.26' lengthAdjust='spacing'>1901.895</text>
<text x='175.68' y='612.7' font-size='9.6' textLength='35.26' lengthAdjust='spacing'>1901.910</text>
<text x='235.48' y='612.7' font-size='9.6' textLength='35.26' lengthAdjust='spacing'>1901.925</text>
<text x='92.3' y='460.2' font-size='14' textLength='37' lengthAdjust='spacingAndGlyphs'>R (26)</text>
<text x='118' y='630.9' font-size='12.6'>Wavenumber/ cm<tspan font-size='6.5' dx='1' dy='-6.8'>-1</tspan></text>
<text transform='translate(17.3 562.9) rotate(-90)' font-size='12.6'>Decay rate (k)/sec<tspan font-size='7' dy='-6.5'>-1</tspan></text>
<path d='M393.88 548.51a1.65 1.65 0 1 0 3.3 0a1.65 1.65 0 1 0 -3.3 0M394.83 563.02a1.65 1.65 0 1 0 3.3 0a1.65 1.65 0 1 0 -3.3 0M393.25 555.33a1.65 1.65 0 1 0 3.3 0a1.65 1.65 0 1 0 -3.3 0M395.05 558.07a1.65 1.65 0 1 0 3.3 0a1.65 1.65 0 1 0 -3.3 0M396.22 554.34a1.65 1.65 0 1 0 3.3 0a1.65 1.65 0 1 0 -3.3 0M396.98 549.8a1.65 1.65 0 1 0 3.3 0a1.65 1.65 0 1 0 -3.3 0M397.22 563.35a1.65 1.65 0 1 0 3.3 0a1.65 1.65 0 1 0 -3.3 0M398.23 567.47a1.65 1.65 0 1 0 3.3 0a1.65 1.65 0 1 0 -3.3 0M398.22 559.69a1.65 1.65 0 1 0 3.3 0a1.65 1.65 0 1 0 -3.3 0M398.94 555.56a1.65 1.65 0 1 0 3.3 0a1.65 1.65 0 1 0 -3.3 0M399.35 552.8a1.65 1.65 0 1 0 3.3 0a1.65 1.65 0 1 0 -3.3 0M399.31 564.6a1.65 1.65 0 1 0 3.3 0a1.65 1.65 0 1 0 -3.3 0M400.02 549.38a1.65 1.65 0 1 0 3.3 0a1.65 1.65 0 1 0 -3.3 0M401.22 558.11a1.65 1.65 0 1 0 3.3 0a1.65 1.65 0 1 0 -3.3 0M401.33 561.87a1.65 1.65 0 1 0 3.3 0a1.65 1.65 0 1 0 -3.3 0M402.85 552.26a1.65 1.65 0 1 0 3.3 0a1.65 1.65 0 1 0 -3.3 0M403.45 565.75a1.65 1.65 0 1 0 3.3 0a1.65 1.65 0 1 0 -3.3 0M404.29 560.09a1.65 1.65 0 1 0 3.3 0a1.65 1.65 0 1 0 -3.3 0M403.97 555.74a1.65 1.65 0 1 0 3.3 0a1.65 1.65 0 1 0 -3.3 0M405.27 548.21a1.65 1.65 0 1 0 3.3 0a1.65 1.65 0 1 0 -3.3 0M404.71 562.52a1.65 1.65 0 1 0 3.3 0a1.65 1.65 0 1 0 -3.3 0M405.35 550.85a1.65 1.65 0 1 0 3.3 0a1.65 1.65 0 1 0 -3.3 0M406.39 566.01a1.65 1.65 0 1 0 3.3 0a1.65 1.65 0 1 0 -3.3 0M407.08 558.9a1.65 1.65 0 1 0 3.3 0a1.65 1.65 0 1 0 -3.3 0M406.73 554.43a1.65 1.65 0 1 0 3.3 0a1.65 1.65 0 1 0 -3.3 0M407.25 563.16a1.65 1.65 0 1 0 3.3 0a1.65 1.65 0 1 0 -3.3 0M408.89 551.31a1.65 1.65 0 1 0 3.3 0a1.65 1.65 0 1 0 -3.3 0M408.87 556.97a1.65 1.65 0 1 0 3.3 0a1.65 1.65 0 1 0 -3.3 0M410.49 561.29a1.65 1.65 0 1 0 3.3 0a1.65 1.65 0 1 0 -3.3 0M410.68 565.95a1.65 1.65 0 1 0 3.3 0a1.65 1.65 0 1 0 -3.3 0M411.23 554.11a1.65 1.65 0 1 0 3.3 0a1.65 1.65 0 1 0 -3.3 0M411.77 557.37a1.65 1.65 0 1 0 3.3 0a1.65 1.65 0 1 0 -3.3 0M412.7 567.59a1.65 1.65 0 1 0 3.3 0a1.65 1.65 0 1 0 -3.3 0M412.77 563.63a1.65 1.65 0 1 0 3.3 0a1.65 1.65 0 1 0 -3.3 0M413.98 547.74a1.65 1.65 0 1 0 3.3 0a1.65 1.65 0 1 0 -3.3 0M413.76 551.39a1.65 1.65 0 1 0 3.3 0a1.65 1.65 0 1 0 -3.3 0M414.5 560.37a1.65 1.65 0 1 0 3.3 0a1.65 1.65 0 1 0 -3.3 0M414.87 556.18a1.65 1.65 0 1 0 3.3 0a1.65 1.65 0 1 0 -3.3 0M416.1 566.55a1.65 1.65 0 1 0 3.3 0a1.65 1.65 0 1 0 -3.3 0M416.41 562.8a1.65 1.65 0 1 0 3.3 0a1.65 1.65 0 1 0 -3.3 0M416.55 550.82a1.65 1.65 0 1 0 3.3 0a1.65 1.65 0 1 0 -3.3 0M418.57 559.12a1.65 1.65 0 1 0 3.3 0a1.65 1.65 0 1 0 -3.3 0M417.98 553.95a1.65 1.65 0 1 0 3.3 0a1.65 1.65 0 1 0 -3.3 0M418.69 564.73a1.65 1.65 0 1 0 3.3 0a1.65 1.65 0 1 0 -3.3 0M419.54 556.26a1.65 1.65 0 1 0 3.3 0a1.65 1.65 0 1 0 -3.3 0M420.81 549.67a1.65 1.65 0 1 0 3.3 0a1.65 1.65 0 1 0 -3.3 0M420.45 561.3a1.65 1.65 0 1 0 3.3 0a1.65 1.65 0 1 0 -3.3 0M421.47 553.84a1.65 1.65 0 1 0 3.3 0a1.65 1.65 0 1 0 -3.3 0M421.75 565.52a1.65 1.65 0 1 0 3.3 0a1.65 1.65 0 1 0 -3.3 0M421.56 558.9a1.65 1.65 0 1 0 3.3 0a1.65 1.65 0 1 0 -3.3 0M423.28 562.35a1.65 1.65 0 1 0 3.3 0a1.65 1.65 0 1 0 -3.3 0M423.99 556.29a1.65 1.65 0 1 0 3.3 0a1.65 1.65 0 1 0 -3.3 0M423.95 551.68a1.65 1.65 0 1 0 3.3 0a1.65 1.65 0 1 0 -3.3 0M424.65 564.78a1.65 1.65 0 1 0 3.3 0a1.65 1.65 0 1 0 -3.3 0M424.5 558.97a1.65 1.65 0 1 0 3.3 0a1.65 1.65 0 1 0 -3.3 0M425.08 561.42a1.65 1.65 0 1 0 3.3 0a1.65 1.65 0 1 0 -3.3 0M426.23 549.69a1.65 1.65 0 1 0 3.3 0a1.65 1.65 0 1 0 -3.3 0M427.33 553.02a1.65 1.65 0 1 0 3.3 0a1.65 1.65 0 1 0 -3.3 0M427.38 557.33a1.65 1.65 0 1 0 3.3 0a1.65 1.65 0 1 0 -3.3 0M428.35 562.88a1.65 1.65 0 1 0 3.3 0a1.65 1.65 0 1 0 -3.3 0M429.28 566.49a1.65 1.65 0 1 0 3.3 0a1.65 1.65 0 1 0 -3.3 0M429.43 559.09a1.65 1.65 0 1 0 3.3 0a1.65 1.65 0 1 0 -3.3 0M430.26 550.55a1.65 1.65 0 1 0 3.3 0a1.65 1.65 0 1 0 -3.3 0M431.29 555.85a1.65 1.65 0 1 0 3.3 0a1.65 1.65 0 1 0 -3.3 0M430.53 553.35a1.65 1.65 0 1 0 3.3 0a1.65 1.65 0 1 0 -3.3 0M432.12 563.89a1.65 1.65 0 1 0 3.3 0a1.65 1.65 0 1 0 -3.3 0M431.39 561.51a1.65 1.65 0 1 0 3.3 0a1.65 1.65 0 1 0 -3.3 0M433.14 552.92a1.65 1.65 0 1 0 3.3 0a1.65 1.65 0 1 0 -3.3 0M433.62 558.79a1.65 1.65 0 1 0 3.3 0a1.65 1.65 0 1 0 -3.3 0M433.84 567.24a1.65 1.65 0 1 0 3.3 0a1.65 1.65 0 1 0 -3.3 0M434.16 549.87a1.65 1.65 0 1 0 3.3 0a1.65 1.65 0 1 0 -3.3 0M435.26 563.48a1.65 1.65 0 1 0 3.3 0a1.65 1.65 0 1 0 -3.3 0M435.68 561.22a1.65 1.65 0 1 0 3.3 0a1.65 1.65 0 1 0 -3.3 0M436.52 556.4a1.65 1.65 0 1 0 3.3 0a1.65 1.65 0 1 0 -3.3 0M436.61 552.98a1.65 1.65 0 1 0 3.3 0a1.65 1.65 0 1 0 -3.3 0M437.93 546.66a1.65 1.65 0 1 0 3.3 0a1.65 1.65 0 1 0 -3.3 0M437.73 565.36a1.65 1.65 0 1 0 3.3 0a1.65 1.65 0 1 0 -3.3 0M438.68 560.08a1.65 1.65 0 1 0 3.3 0a1.65 1.65 0 1 0 -3.3 0M439.23 551.42a1.65 1.65 0 1 0 3.3 0a1.65 1.65 0 1 0 -3.3 0M440.65 554.96a1.65 1.65 0 1 0 3.3 0a1.65 1.65 0 1 0 -3.3 0M439.86 557.08a1.65 1.65 0 1 0 3.3 0a1.65 1.65 0 1 0 -3.3 0M440.99 545.8a1.65 1.65 0 1 0 3.3 0a1.65 1.65 0 1 0 -3.3 0M442.38 560.23a1.65 1.65 0 1 0 3.3 0a1.65 1.65 0 1 0 -3.3 0M442.05 542.46a1.65 1.65 0 1 0 3.3 0a1.65 1.65 0 1 0 -3.3 0M442.35 549.28a1.65 1.65 0 1 0 3.3 0a1.65 1.65 0 1 0 -3.3 0M443.7 538.34a1.65 1.65 0 1 0 3.3 0a1.65 1.65 0 1 0 -3.3 0M444.01 535.44a1.65 1.65 0 1 0 3.3 0a1.65 1.65 0 1 0 -3.3 0M445.16 544.36a1.65 1.65 0 1 0 3.3 0a1.65 1.65 0 1 0 -3.3 0M444.87 530.87a1.65 1.65 0 1 0 3.3 0a1.65 1.65 0 1 0 -3.3 0M446.02 526.2a1.65 1.65 0 1 0 3.3 0a1.65 1.65 0 1 0 -3.3 0M446.85 521.1a1.65 1.65 0 1 0 3.3 0a1.65 1.65 0 1 0 -3.3 0M447.62 517.65a1.65 1.65 0 1 0 3.3 0a1.65 1.65 0 1 0 -3.3 0M447.14 512.54a1.65 1.65 0 1 0 3.3 0a1.65 1.65 0 1 0 -3.3 0M449 510.18a1.65 1.65 0 1 0 3.3 0a1.65 1.65 0 1 0 -3.3 0M448.43 500.29a1.65 1.65 0 1 0 3.3 0a1.65 1.65 0 1 0 -3.3 0M448.71 494.62a1.65 1.65 0 1 0 3.3 0a1.65 1.65 0 1 0 -3.3 0M449.58 488.81a1.65 1.65 0 1 0 3.3 0a1.65 1.65 0 1 0 -3.3 0M450.73 482.68a1.65 1.65 0 1 0 3.3 0a1.65 1.65 0 1 0 -3.3 0M451.08 478.03a1.65 1.65 0 1 0 3.3 0a1.65 1.65 0 1 0 -3.3 0M452.05 472.78a1.65 1.65 0 1 0 3.3 0a1.65 1.65 0 1 0 -3.3 0M452.67 467.67a1.65 1.65 0 1 0 3.3 0a1.65 1.65 0 1 0 -3.3 0M453.17 464.17a1.65 1.65 0 1 0 3.3 0a1.65 1.65 0 1 0 -3.3 0M453.48 460.53a1.65 1.65 0 1 0 3.3 0a1.65 1.65 0 1 0 -3.3 0M455.1 458.66a1.65 1.65 0 1 0 3.3 0a1.65 1.65 0 1 0 -3.3 0M453.68 456.06a1.65 1.65 0 1 0 3.3 0a1.65 1.65 0 1 0 -3.3 0M454.51 457.51a1.65 1.65 0 1 0 3.3 0a1.65 1.65 0 1 0 -3.3 0M455.71 455.85a1.65 1.65 0 1 0 3.3 0a1.65 1.65 0 1 0 -3.3 0M455.93 457.5a1.65 1.65 0 1 0 3.3 0a1.65 1.65 0 1 0 -3.3 0M455.87 462.27a1.65 1.65 0 1 0 3.3 0a1.65 1.65 0 1 0 -3.3 0M457.34 465.42a1.65 1.65 0 1 0 3.3 0a1.65 1.65 0 1 0 -3.3 0M457.95 470.38a1.65 1.65 0 1 0 3.3 0a1.65 1.65 0 1 0 -3.3 0M457.7 475.81a1.65 1.65 0 1 0 3.3 0a1.65 1.65 0 1 0 -3.3 0M459.94 479.51a1.65 1.65 0 1 0 3.3 0a1.65 1.65 0 1 0 -3.3 0M460.75 486.72a1.65 1.65 0 1 0 3.3 0a1.65 1.65 0 1 0 -3.3 0M461.31 490.53a1.65 1.65 0 1 0 3.3 0a1.65 1.65 0 1 0 -3.3 0M461.03 500.74a1.65 1.65 0 1 0 3.3 0a1.65 1.65 0 1 0 -3.3 0M461.95 504.82a1.65 1.65 0 1 0 3.3 0a1.65 1.65 0 1 0 -3.3 0M461.9 513.46a1.65 1.65 0 1 0 3.3 0a1.65 1.65 0 1 0 -3.3 0M463.16 518.12a1.65 1.65 0 1 0 3.3 0a1.65 1.65 0 1 0 -3.3 0M463.31 525.35a1.65 1.65 0 1 0 3.3 0a1.65 1.65 0 1 0 -3.3 0M464.44 530.81a1.65 1.65 0 1 0 3.3 0a1.65 1.65 0 1 0 -3.3 0M464.65 536.9a1.65 1.65 0 1 0 3.3 0a1.65 1.65 0 1 0 -3.3 0M465.93 540.6a1.65 1.65 0 1 0 3.3 0a1.65 1.65 0 1 0 -3.3 0M466.42 533.38a1.65 1.65 0 1 0 3.3 0a1.65 1.65 0 1 0 -3.3 0M467.22 548.56a1.65 1.65 0 1 0 3.3 0a1.65 1.65 0 1 0 -3.3 0M466.39 544.13a1.65 1.65 0 1 0 3.3 0a1.65 1.65 0 1 0 -3.3 0M466.87 555.15a1.65 1.65 0 1 0 3.3 0a1.65 1.65 0 1 0 -3.3 0M468.57 552.68a1.65 1.65 0 1 0 3.3 0a1.65 1.65 0 1 0 -3.3 0M468.67 545.45a1.65 1.65 0 1 0 3.3 0a1.65 1.65 0 1 0 -3.3 0M469.75 560.21a1.65 1.65 0 1 0 3.3 0a1.65 1.65 0 1 0 -3.3 0M470.29 556.61a1.65 1.65 0 1 0 3.3 0a1.65 1.65 0 1 0 -3.3 0M470.82 549.83a1.65 1.65 0 1 0 3.3 0a1.65 1.65 0 1 0 -3.3 0M471.78 563.08a1.65 1.65 0 1 0 3.3 0a1.65 1.65 0 1 0 -3.3 0M472.19 553.19a1.65 1.65 0 1 0 3.3 0a1.65 1.65 0 1 0 -3.3 0M472.74 559.7a1.65 1.65 0 1 0 3.3 0a1.65 1.65 0 1 0 -3.3 0M472.65 547.98a1.65 1.65 0 1 0 3.3 0a1.65 1.65 0 1 0 -3.3 0M474.55 565.18a1.65 1.65 0 1 0 3.3 0a1.65 1.65 0 1 0 -3.3 0M474.34 556.43a1.65 1.65 0 1 0 3.3 0a1.65 1.65 0 1 0 -3.3 0M475.42 552.35a1.65 1.65 0 1 0 3.3 0a1.65 1.65 0 1 0 -3.3 0M475.62 561.84a1.65 1.65 0 1 0 3.3 0a1.65 1.65 0 1 0 -3.3 0M476.68 559.28a1.65 1.65 0 1 0 3.3 0a1.65 1.65 0 1 0 -3.3 0M476.72 549.46a1.65 1.65 0 1 0 3.3 0a1.65 1.65 0 1 0 -3.3 0M477.34 555.79a1.65 1.65 0 1 0 3.3 0a1.65 1.65 0 1 0 -3.3 0M477.89 564.53a1.65 1.65 0 1 0 3.3 0a1.65 1.65 0 1 0 -3.3 0M478.06 551.52a1.65 1.65 0 1 0 3.3 0a1.65 1.65 0 1 0 -3.3 0M478.72 557.99a1.65 1.65 0 1 0 3.3 0a1.65 1.65 0 1 0 -3.3 0M479.52 561.74a1.65 1.65 0 1 0 3.3 0a1.65 1.65 0 1 0 -3.3 0M480.13 555.1a1.65 1.65 0 1 0 3.3 0a1.65 1.65 0 1 0 -3.3 0M480.28 567.19a1.65 1.65 0 1 0 3.3 0a1.65 1.65 0 1 0 -3.3 0M482.54 550.02a1.65 1.65 0 1 0 3.3 0a1.65 1.65 0 1 0 -3.3 0M481.47 558.82a1.65 1.65 0 1 0 3.3 0a1.65 1.65 0 1 0 -3.3 0M482.39 563.39a1.65 1.65 0 1 0 3.3 0a1.65 1.65 0 1 0 -3.3 0M484.36 554.16a1.65 1.65 0 1 0 3.3 0a1.65 1.65 0 1 0 -3.3 0M483.4 556.68a1.65 1.65 0 1 0 3.3 0a1.65 1.65 0 1 0 -3.3 0M484.7 561.2a1.65 1.65 0 1 0 3.3 0a1.65 1.65 0 1 0 -3.3 0M485.24 565.3a1.65 1.65 0 1 0 3.3 0a1.65 1.65 0 1 0 -3.3 0M485.4 549.13a1.65 1.65 0 1 0 3.3 0a1.65 1.65 0 1 0 -3.3 0M485.38 558.34a1.65 1.65 0 1 0 3.3 0a1.65 1.65 0 1 0 -3.3 0M485.91 551.5a1.65 1.65 0 1 0 3.3 0a1.65 1.65 0 1 0 -3.3 0M487.27 555.99a1.65 1.65 0 1 0 3.3 0a1.65 1.65 0 1 0 -3.3 0M488.07 563.15a1.65 1.65 0 1 0 3.3 0a1.65 1.65 0 1 0 -3.3 0M487.38 553.91a1.65 1.65 0 1 0 3.3 0a1.65 1.65 0 1 0 -3.3 0M489.12 567.68a1.65 1.65 0 1 0 3.3 0a1.65 1.65 0 1 0 -3.3 0M489.31 559.65a1.65 1.65 0 1 0 3.3 0a1.65 1.65 0 1 0 -3.3 0M490.67 549.07a1.65 1.65 0 1 0 3.3 0a1.65 1.65 0 1 0 -3.3 0M490.91 554.16a1.65 1.65 0 1 0 3.3 0a1.65 1.65 0 1 0 -3.3 0M491.01 557.27a1.65 1.65 0 1 0 3.3 0a1.65 1.65 0 1 0 -3.3 0M491.79 563.84a1.65 1.65 0 1 0 3.3 0a1.65 1.65 0 1 0 -3.3 0M492.61 560.7a1.65 1.65 0 1 0 3.3 0a1.65 1.65 0 1 0 -3.3 0M493.86 555.47a1.65 1.65 0 1 0 3.3 0a1.65 1.65 0 1 0 -3.3 0M495.3 549.45a1.65 1.65 0 1 0 3.3 0a1.65 1.65 0 1 0 -3.3 0M494.55 565.37a1.65 1.65 0 1 0 3.3 0a1.65 1.65 0 1 0 -3.3 0M495.02 559.75a1.65 1.65 0 1 0 3.3 0a1.65 1.65 0 1 0 -3.3 0M495.9 552.75a1.65 1.65 0 1 0 3.3 0a1.65 1.65 0 1 0 -3.3 0M496.16 562.62a1.65 1.65 0 1 0 3.3 0a1.65 1.65 0 1 0 -3.3 0M497.08 556.64a1.65 1.65 0 1 0 3.3 0a1.65 1.65 0 1 0 -3.3 0M497.55 547.12a1.65 1.65 0 1 0 3.3 0a1.65 1.65 0 1 0 -3.3 0M497.95 559.51a1.65 1.65 0 1 0 3.3 0a1.65 1.65 0 1 0 -3.3 0M498.14 549.95a1.65 1.65 0 1 0 3.3 0a1.65 1.65 0 1 0 -3.3 0M499.21 543.52a1.65 1.65 0 1 0 3.3 0a1.65 1.65 0 1 0 -3.3 0M500.18 546.2a1.65 1.65 0 1 0 3.3 0a1.65 1.65 0 1 0 -3.3 0M500.35 553.24a1.65 1.65 0 1 0 3.3 0a1.65 1.65 0 1 0 -3.3 0M501.66 536.76a1.65 1.65 0 1 0 3.3 0a1.65 1.65 0 1 0 -3.3 0M501.97 541.34a1.65 1.65 0 1 0 3.3 0a1.65 1.65 0 1 0 -3.3 0M502.02 529.85a1.65 1.65 0 1 0 3.3 0a1.65 1.65 0 1 0 -3.3 0M503.55 533.73a1.65 1.65 0 1 0 3.3 0a1.65 1.65 0 1 0 -3.3 0M502.71 523.11a1.65 1.65 0 1 0 3.3 0a1.65 1.65 0 1 0 -3.3 0M504.45 517.68a1.65 1.65 0 1 0 3.3 0a1.65 1.65 0 1 0 -3.3 0M505.38 514.15a1.65 1.65 0 1 0 3.3 0a1.65 1.65 0 1 0 -3.3 0M504.92 508.29a1.65 1.65 0 1 0 3.3 0a1.65 1.65 0 1 0 -3.3 0M505.59 502.94a1.65 1.65 0 1 0 3.3 0a1.65 1.65 0 1 0 -3.3 0M506.7 496.06a1.65 1.65 0 1 0 3.3 0a1.65 1.65 0 1 0 -3.3 0M507.54 492.38a1.65 1.65 0 1 0 3.3 0a1.65 1.65 0 1 0 -3.3 0M507.63 486.11a1.65 1.65 0 1 0 3.3 0a1.65 1.65 0 1 0 -3.3 0M508.13 480.31a1.65 1.65 0 1 0 3.3 0a1.65 1.65 0 1 0 -3.3 0M509.06 475.09a1.65 1.65 0 1 0 3.3 0a1.65 1.65 0 1 0 -3.3 0M509.32 471.79a1.65 1.65 0 1 0 3.3 0a1.65 1.65 0 1 0 -3.3 0M509.18 466.1a1.65 1.65 0 1 0 3.3 0a1.65 1.65 0 1 0 -3.3 0M510.28 463.92a1.65 1.65 0 1 0 3.3 0a1.65 1.65 0 1 0 -3.3 0M510.95 460.36a1.65 1.65 0 1 0 3.3 0a1.65 1.65 0 1 0 -3.3 0M510.8 461.67a1.65 1.65 0 1 0 3.3 0a1.65 1.65 0 1 0 -3.3 0M512.34 457.64a1.65 1.65 0 1 0 3.3 0a1.65 1.65 0 1 0 -3.3 0M512.36 459.37a1.65 1.65 0 1 0 3.3 0a1.65 1.65 0 1 0 -3.3 0M513.7 460.73a1.65 1.65 0 1 0 3.3 0a1.65 1.65 0 1 0 -3.3 0M513.17 464.24a1.65 1.65 0 1 0 3.3 0a1.65 1.65 0 1 0 -3.3 0M514.05 467.22a1.65 1.65 0 1 0 3.3 0a1.65 1.65 0 1 0 -3.3 0M514.37 471.42a1.65 1.65 0 1 0 3.3 0a1.65 1.65 0 1 0 -3.3 0M516.33 476.48a1.65 1.65 0 1 0 3.3 0a1.65 1.65 0 1 0 -3.3 0M516.91 482.8a1.65 1.65 0 1 0 3.3 0a1.65 1.65 0 1 0 -3.3 0M517.6 487.99a1.65 1.65 0 1 0 3.3 0a1.65 1.65 0 1 0 -3.3 0M518.2 494.83a1.65 1.65 0 1 0 3.3 0a1.65 1.65 0 1 0 -3.3 0M518.5 500.1a1.65 1.65 0 1 0 3.3 0a1.65 1.65 0 1 0 -3.3 0M519.09 507.36a1.65 1.65 0 1 0 3.3 0a1.65 1.65 0 1 0 -3.3 0M518.38 512.82a1.65 1.65 0 1 0 3.3 0a1.65 1.65 0 1 0 -3.3 0M519.99 519.46a1.65 1.65 0 1 0 3.3 0a1.65 1.65 0 1 0 -3.3 0M520.16 527a1.65 1.65 0 1 0 3.3 0a1.65 1.65 0 1 0 -3.3 0M520.84 530.99a1.65 1.65 0 1 0 3.3 0a1.65 1.65 0 1 0 -3.3 0M520.98 533.78a1.65 1.65 0 1 0 3.3 0a1.65 1.65 0 1 0 -3.3 0M522.84 542.09a1.65 1.65 0 1 0 3.3 0a1.65 1.65 0 1 0 -3.3 0M522.86 535.78a1.65 1.65 0 1 0 3.3 0a1.65 1.65 0 1 0 -3.3 0M522.62 547.75a1.65 1.65 0 1 0 3.3 0a1.65 1.65 0 1 0 -3.3 0M524.21 553.84a1.65 1.65 0 1 0 3.3 0a1.65 1.65 0 1 0 -3.3 0M524.5 550.41a1.65 1.65 0 1 0 3.3 0a1.65 1.65 0 1 0 -3.3 0M524.61 557.21a1.65 1.65 0 1 0 3.3 0a1.65 1.65 0 1 0 -3.3 0M525.56 545.02a1.65 1.65 0 1 0 3.3 0a1.65 1.65 0 1 0 -3.3 0M525.91 552.13a1.65 1.65 0 1 0 3.3 0a1.65 1.65 0 1 0 -3.3 0M525.74 547.74a1.65 1.65 0 1 0 3.3 0a1.65 1.65 0 1 0 -3.3 0M526.71 563.5a1.65 1.65 0 1 0 3.3 0a1.65 1.65 0 1 0 -3.3 0M528.31 559.11a1.65 1.65 0 1 0 3.3 0a1.65 1.65 0 1 0 -3.3 0M528.81 554.97a1.65 1.65 0 1 0 3.3 0a1.65 1.65 0 1 0 -3.3 0M529.36 548.81a1.65 1.65 0 1 0 3.3 0a1.65 1.65 0 1 0 -3.3 0M529.22 565.02a1.65 1.65 0 1 0 3.3 0a1.65 1.65 0 1 0 -3.3 0M530.1 561.53a1.65 1.65 0 1 0 3.3 0a1.65 1.65 0 1 0 -3.3 0M531.02 557.63a1.65 1.65 0 1 0 3.3 0a1.65 1.65 0 1 0 -3.3 0M531.92 553.98a1.65 1.65 0 1 0 3.3 0a1.65 1.65 0 1 0 -3.3 0M531.75 566.94a1.65 1.65 0 1 0 3.3 0a1.65 1.65 0 1 0 -3.3 0M532.23 550.02a1.65 1.65 0 1 0 3.3 0a1.65 1.65 0 1 0 -3.3 0M533.92 563.51a1.65 1.65 0 1 0 3.3 0a1.65 1.65 0 1 0 -3.3 0M533.97 558.48a1.65 1.65 0 1 0 3.3 0a1.65 1.65 0 1 0 -3.3 0M534.34 552.51a1.65 1.65 0 1 0 3.3 0a1.65 1.65 0 1 0 -3.3 0M534.75 561.33a1.65 1.65 0 1 0 3.3 0a1.65 1.65 0 1 0 -3.3 0M535.38 567.3a1.65 1.65 0 1 0 3.3 0a1.65 1.65 0 1 0 -3.3 0M537.1 554.93a1.65 1.65 0 1 0 3.3 0a1.65 1.65 0 1 0 -3.3 0M537.38 550.13a1.65 1.65 0 1 0 3.3 0a1.65 1.65 0 1 0 -3.3 0M537.28 564.48a1.65 1.65 0 1 0 3.3 0a1.65 1.65 0 1 0 -3.3 0M537.45 558.76a1.65 1.65 0 1 0 3.3 0a1.65 1.65 0 1 0 -3.3 0M539.5 552.72a1.65 1.65 0 1 0 3.3 0a1.65 1.65 0 1 0 -3.3 0M540.04 556.59a1.65 1.65 0 1 0 3.3 0a1.65 1.65 0 1 0 -3.3 0M540.45 567.5a1.65 1.65 0 1 0 3.3 0a1.65 1.65 0 1 0 -3.3 0M540.86 562.07a1.65 1.65 0 1 0 3.3 0a1.65 1.65 0 1 0 -3.3 0M540.09 563.82a1.65 1.65 0 1 0 3.3 0a1.65 1.65 0 1 0 -3.3 0M540.97 553.82a1.65 1.65 0 1 0 3.3 0a1.65 1.65 0 1 0 -3.3 0M542.49 550.69a1.65 1.65 0 1 0 3.3 0a1.65 1.65 0 1 0 -3.3 0M542.66 565.47a1.65 1.65 0 1 0 3.3 0a1.65 1.65 0 1 0 -3.3 0M543.52 558.45a1.65 1.65 0 1 0 3.3 0a1.65 1.65 0 1 0 -3.3 0M543.72 562.72a1.65 1.65 0 1 0 3.3 0a1.65 1.65 0 1 0 -3.3 0M544.24 554.53a1.65 1.65 0 1 0 3.3 0a1.65 1.65 0 1 0 -3.3 0M545.44 549.25a1.65 1.65 0 1 0 3.3 0a1.65 1.65 0 1 0 -3.3 0M545.55 565.2a1.65 1.65 0 1 0 3.3 0a1.65 1.65 0 1 0 -3.3 0M546.34 560.97a1.65 1.65 0 1 0 3.3 0a1.65 1.65 0 1 0 -3.3 0M547.06 552.25a1.65 1.65 0 1 0 3.3 0a1.65 1.65 0 1 0 -3.3 0M547.64 556.77a1.65 1.65 0 1 0 3.3 0a1.65 1.65 0 1 0 -3.3 0M548.7 562.85a1.65 1.65 0 1 0 3.3 0a1.65 1.65 0 1 0 -3.3 0M549.39 568.3a1.65 1.65 0 1 0 3.3 0a1.65 1.65 0 1 0 -3.3 0M548.61 554.81a1.65 1.65 0 1 0 3.3 0a1.65 1.65 0 1 0 -3.3 0M549.75 551.48a1.65 1.65 0 1 0 3.3 0a1.65 1.65 0 1 0 -3.3 0M550.16 565.61a1.65 1.65 0 1 0 3.3 0a1.65 1.65 0 1 0 -3.3 0M551.45 559.42a1.65 1.65 0 1 0 3.3 0a1.65 1.65 0 1 0 -3.3 0M551.13 556.42a1.65 1.65 0 1 0 3.3 0a1.65 1.65 0 1 0 -3.3 0M552.64 562.54a1.65 1.65 0 1 0 3.3 0a1.65 1.65 0 1 0 -3.3 0M553.19 553.92a1.65 1.65 0 1 0 3.3 0a1.65 1.65 0 1 0 -3.3 0M553.72 567.09a1.65 1.65 0 1 0 3.3 0a1.65 1.65 0 1 0 -3.3 0M553.54 549.22a1.65 1.65 0 1 0 3.3 0a1.65 1.65 0 1 0 -3.3 0M554.51 557.2a1.65 1.65 0 1 0 3.3 0a1.65 1.65 0 1 0 -3.3 0M554.66 559.81a1.65 1.65 0 1 0 3.3 0a1.65 1.65 0 1 0 -3.3 0M555.99 552.04a1.65 1.65 0 1 0 3.3 0a1.65 1.65 0 1 0 -3.3 0M556.86 562.31a1.65 1.65 0 1 0 3.3 0a1.65 1.65 0 1 0 -3.3 0M556.22 565.04a1.65 1.65 0 1 0 3.3 0a1.65 1.65 0 1 0 -3.3 0M557.15 555.8a1.65 1.65 0 1 0 3.3 0a1.65 1.65 0 1 0 -3.3 0M558.08 568.2a1.65 1.65 0 1 0 3.3 0a1.65 1.65 0 1 0 -3.3 0M558.48 559.59a1.65 1.65 0 1 0 3.3 0a1.65 1.65 0 1 0 -3.3 0' fill='#fff' stroke='#000' stroke-width='1.2'/>
<path d='M395 557.9 395.55 557.9 396.11 557.9 396.66 557.9 397.21 557.9 397.77 557.9 398.32 557.9 398.87 557.9 399.43 557.9 399.98 557.9 400.53 557.9 401.08 557.9 401.64 557.9 402.19 557.9 402.74 557.9 403.3 557.9 403.85 557.9 404.4 557.9 404.96 557.9 405.51 557.9 406.06 557.9 406.62 557.9 407.17 557.9 407.72 557.9 408.28 557.9 408.83 557.9 409.38 557.9 409.94 557.9 410.49 557.9 411.04 557.9 411.6 557.9 412.15 557.9 412.7 557.9 413.25 557.9 413.81 557.9 414.36 557.9 414.91 557.9 415.47 557.9 416.02 557.9 416.57 557.9 417.13 557.9 417.68 557.9 418.23 557.9 418.79 557.9 419.34 557.9 419.89 557.9 420.45 557.9 421 557.9 421.55 557.9 422.11 557.9 422.66 557.9 423.21 557.9 423.77 557.9 424.32 557.9 424.87 557.9 425.42 557.9 425.98 557.9 426.53 557.9 427.08 557.9 427.64 557.9 428.19 557.9 428.74 557.9 429.3 557.9 429.85 557.9 430.4 557.9 430.96 557.9 431.51 557.89 432.06 557.89 432.62 557.89 433.17 557.88 433.72 557.87 434.28 557.86 434.83 557.84 435.38 557.81 435.94 557.77 436.49 557.72 437.04 557.64 437.59 557.55 438.15 557.41 438.7 557.24 439.25 557.01 439.81 556.71 440.36 556.33 440.91 555.84 441.47 555.22 442.02 554.45 442.57 553.5 443.13 552.34 443.68 550.93 444.23 549.25 444.79 547.26 445.34 544.94 445.89 542.24 446.45 539.16 447 535.67 447.55 531.77 448.11 527.47 448.66 522.78 449.21 517.73 449.76 512.37 450.32 506.77 450.87 501 451.42 495.14 451.98 489.32 452.53 483.63 453.08 478.2 453.64 473.14 454.19 468.58 454.74 464.63 455.3 461.38 455.85 458.93 456.4 457.33 456.96 456.63 457.51 456.85 458.06 457.98 458.62 460 459.17 462.84 459.72 466.44 460.27 470.69 460.83 475.51 461.38 480.76 461.93 486.33 462.49 492.1 463.04 497.95 463.59 503.78 464.15 509.48 464.7 514.97 465.25 520.19 465.81 525.07 466.36 529.58 466.91 533.69 467.47 537.39 468.02 540.68 468.57 543.58 469.13 546.09 469.68 548.26 470.23 550.09 470.79 551.64 471.34 552.92 471.89 553.98 472.44 554.84 473 555.53 473.55 556.09 474.1 556.52 474.66 556.86 475.21 557.13 475.76 557.33 476.32 557.48 476.87 557.6 477.42 557.68 477.98 557.74 478.53 557.79 479.08 557.82 479.64 557.85 480.19 557.86 480.74 557.88 481.3 557.88 481.85 557.89 482.4 557.89 482.96 557.9 483.51 557.9 484.06 557.9 484.61 557.9 485.17 557.9 485.72 557.9 486.27 557.9 486.83 557.9 487.38 557.9 487.93 557.9 488.49 557.89 489.04 557.89 489.59 557.88 490.15 557.88 490.7 557.87 491.25 557.85 491.81 557.83 492.36 557.8 492.91 557.76 493.47 557.7 494.02 557.62 494.57 557.52 495.13 557.38 495.68 557.19 496.23 556.95 496.78 556.63 497.34 556.23 497.89 555.71 498.44 555.07 499 554.26 499.55 553.27 500.1 552.07 500.66 550.62 501.21 548.89 501.76 546.85 502.32 544.47 502.87 541.72 503.42 538.59 503.98 535.07 504.53 531.14 505.08 526.82 505.64 522.14 506.19 517.12 506.74 511.81 507.29 506.29 507.85 500.63 508.4 494.93 508.95 489.28 509.51 483.81 510.06 478.62 510.61 473.83 511.17 469.57 511.72 465.93 512.27 463.01 512.83 460.88 513.38 459.6 513.93 459.2 514.49 459.7 515.04 461.09 515.59 463.31 516.15 466.33 516.7 470.05 517.25 474.38 517.81 479.22 518.36 484.45 518.91 489.95 519.46 495.61 520.02 501.32 520.57 506.96 521.12 512.46 521.68 517.74 522.23 522.72 522.78 527.36 523.34 531.63 523.89 535.51 524.44 538.99 525 542.07 525.55 544.77 526.1 547.11 526.66 549.11 527.21 550.81 527.76 552.23 528.32 553.4 528.87 554.37 529.42 555.15 529.98 555.78 530.53 556.28 531.08 556.67 531.63 556.98 532.19 557.22 532.74 557.4 533.29 557.53 533.85 557.63 534.4 557.71 534.95 557.76 535.51 557.8 536.06 557.83 536.61 557.85 537.17 557.87 537.72 557.88 538.27 557.89 538.83 557.89 539.38 557.89 539.93 557.9 540.49 557.9 541.04 557.9 541.59 557.9 542.15 557.9 542.7 557.9 543.25 557.9 543.8 557.9 544.36 557.9 544.91 557.9 545.46 557.9 546.02 557.9 546.57 557.9 547.12 557.9 547.68 557.9 548.23 557.9 548.78 557.9 549.34 557.9 549.89 557.9 550.44 557.9 551 557.9 551.55 557.9 552.1 557.9 552.66 557.9 553.21 557.9 553.76 557.9 554.32 557.9 554.87 557.9 555.42 557.9 555.97 557.9 556.53 557.9 557.08 557.9 557.63 557.9 558.19 557.9 558.74 557.9 559.29 557.9 559.85 557.9 560.4 557.9' fill='none' stroke='#f00' stroke-width='1.8'/>
<path d='M380.8 429V594.5H583.1' fill='none' stroke='#000' stroke-width='2.1'/>
<path d='M374.3 594.5H380.8M374.3 561.6H380.8M374.3 528.7H380.8M374.3 495.8H380.8M374.3 462.9H380.8M374.3 430H380.8M380.7 594.5V601M448.1 594.5V601M515.4 594.5V601M583.1 594.5V601' fill='none' stroke='#000' stroke-width='2.1'/>
<text x='341.53' y='597.67' font-size='9.6' textLength='29.15' lengthAdjust='spacing'>178000</text>
<text x='341.53' y='564.77' font-size='9.6' textLength='29.15' lengthAdjust='spacing'>179000</text>
<text x='341.53' y='531.87' font-size='9.6' textLength='29.15' lengthAdjust='spacing'>180000</text>
<text x='341.53' y='498.97' font-size='9.6' textLength='29.15' lengthAdjust='spacing'>181000</text>
<text x='341.53' y='466.07' font-size='9.6' textLength='29.15' lengthAdjust='spacing'>182000</text>
<text x='341.53' y='433.17' font-size='9.6' textLength='29.15' lengthAdjust='spacing'>183000</text>
<text x='361.88' y='612.7' font-size='9.6' textLength='37.06' lengthAdjust='spacing'>1902.300</text>
<text x='429.28' y='612.7' font-size='9.6' textLength='37.06' lengthAdjust='spacing'>1902.315</text>
<text x='496.58' y='612.7' font-size='9.6' textLength='37.06' lengthAdjust='spacing'>1902.330</text>
<text x='564.28' y='612.7' font-size='9.6' textLength='37.06' lengthAdjust='spacing'>1902.345</text>
<text x='398.3' y='461.6' font-size='14' textLength='36.6' lengthAdjust='spacingAndGlyphs'>R (27)</text>
<text x='438' y='632.1' font-size='12.6'>Wavenumber/ cm<tspan font-size='6.5' dx='1' dy='-6.8'>-1</tspan></text>
<text transform='translate(325.6 565.7) rotate(-90)' font-size='12.6'>Decay rate (k)/sec<tspan font-size='7' dy='-6.5'>-1</tspan></text>
<path d='M84.8 781.9a1.7 1.7 0 1 0 3.4 0a1.7 1.7 0 1 0 -3.4 0M85.45 766.18a1.7 1.7 0 1 0 3.4 0a1.7 1.7 0 1 0 -3.4 0M85.67 759.25a1.7 1.7 0 1 0 3.4 0a1.7 1.7 0 1 0 -3.4 0M85.86 773.26a1.7 1.7 0 1 0 3.4 0a1.7 1.7 0 1 0 -3.4 0M86.58 778.08a1.7 1.7 0 1 0 3.4 0a1.7 1.7 0 1 0 -3.4 0M86.81 768.85a1.7 1.7 0 1 0 3.4 0a1.7 1.7 0 1 0 -3.4 0M87.84 763.21a1.7 1.7 0 1 0 3.4 0a1.7 1.7 0 1 0 -3.4 0M88.98 774.2a1.7 1.7 0 1 0 3.4 0a1.7 1.7 0 1 0 -3.4 0M88.57 766.28a1.7 1.7 0 1 0 3.4 0a1.7 1.7 0 1 0 -3.4 0M89 759.66a1.7 1.7 0 1 0 3.4 0a1.7 1.7 0 1 0 -3.4 0M90.06 777.79a1.7 1.7 0 1 0 3.4 0a1.7 1.7 0 1 0 -3.4 0M90.49 781.9a1.7 1.7 0 1 0 3.4 0a1.7 1.7 0 1 0 -3.4 0M90.87 770.87a1.7 1.7 0 1 0 3.4 0a1.7 1.7 0 1 0 -3.4 0M90.85 764.63a1.7 1.7 0 1 0 3.4 0a1.7 1.7 0 1 0 -3.4 0M91.81 774.32a1.7 1.7 0 1 0 3.4 0a1.7 1.7 0 1 0 -3.4 0M92.67 768.56a1.7 1.7 0 1 0 3.4 0a1.7 1.7 0 1 0 -3.4 0M92.15 760.64a1.7 1.7 0 1 0 3.4 0a1.7 1.7 0 1 0 -3.4 0M93.1 778.25a1.7 1.7 0 1 0 3.4 0a1.7 1.7 0 1 0 -3.4 0M92.88 766.07a1.7 1.7 0 1 0 3.4 0a1.7 1.7 0 1 0 -3.4 0M93.68 771.65a1.7 1.7 0 1 0 3.4 0a1.7 1.7 0 1 0 -3.4 0M93.91 762.69a1.7 1.7 0 1 0 3.4 0a1.7 1.7 0 1 0 -3.4 0M95.21 775.66a1.7 1.7 0 1 0 3.4 0a1.7 1.7 0 1 0 -3.4 0M95.2 779.77a1.7 1.7 0 1 0 3.4 0a1.7 1.7 0 1 0 -3.4 0M96.47 766.71a1.7 1.7 0 1 0 3.4 0a1.7 1.7 0 1 0 -3.4 0M96.91 770.27a1.7 1.7 0 1 0 3.4 0a1.7 1.7 0 1 0 -3.4 0M97.24 761.25a1.7 1.7 0 1 0 3.4 0a1.7 1.7 0 1 0 -3.4 0M96.58 778.01a1.7 1.7 0 1 0 3.4 0a1.7 1.7 0 1 0 -3.4 0M98.07 782.21a1.7 1.7 0 1 0 3.4 0a1.7 1.7 0 1 0 -3.4 0M98.82 774.59a1.7 1.7 0 1 0 3.4 0a1.7 1.7 0 1 0 -3.4 0M99.4 768.18a1.7 1.7 0 1 0 3.4 0a1.7 1.7 0 1 0 -3.4 0M99.08 765.63a1.7 1.7 0 1 0 3.4 0a1.7 1.7 0 1 0 -3.4 0M100.11 759.74a1.7 1.7 0 1 0 3.4 0a1.7 1.7 0 1 0 -3.4 0M100.36 771.62a1.7 1.7 0 1 0 3.4 0a1.7 1.7 0 1 0 -3.4 0M100.94 779.83a1.7 1.7 0 1 0 3.4 0a1.7 1.7 0 1 0 -3.4 0M102.38 762.73a1.7 1.7 0 1 0 3.4 0a1.7 1.7 0 1 0 -3.4 0M101.95 776.95a1.7 1.7 0 1 0 3.4 0a1.7 1.7 0 1 0 -3.4 0M102.84 766.24a1.7 1.7 0 1 0 3.4 0a1.7 1.7 0 1 0 -3.4 0M103.8 771.02a1.7 1.7 0 1 0 3.4 0a1.7 1.7 0 1 0 -3.4 0M103.56 773.89a1.7 1.7 0 1 0 3.4 0a1.7 1.7 0 1 0 -3.4 0M104.3 783.28a1.7 1.7 0 1 0 3.4 0a1.7 1.7 0 1 0 -3.4 0M104.91 760.23a1.7 1.7 0 1 0 3.4 0a1.7 1.7 0 1 0 -3.4 0M105.39 777.04a1.7 1.7 0 1 0 3.4 0a1.7 1.7 0 1 0 -3.4 0M105.25 780.1a1.7 1.7 0 1 0 3.4 0a1.7 1.7 0 1 0 -3.4 0M106.4 764.26a1.7 1.7 0 1 0 3.4 0a1.7 1.7 0 1 0 -3.4 0M107.54 769.26a1.7 1.7 0 1 0 3.4 0a1.7 1.7 0 1 0 -3.4 0M106.59 774.67a1.7 1.7 0 1 0 3.4 0a1.7 1.7 0 1 0 -3.4 0M108.3 759.97a1.7 1.7 0 1 0 3.4 0a1.7 1.7 0 1 0 -3.4 0M108.43 778.79a1.7 1.7 0 1 0 3.4 0a1.7 1.7 0 1 0 -3.4 0M108.55 772.14a1.7 1.7 0 1 0 3.4 0a1.7 1.7 0 1 0 -3.4 0M110.37 762.72a1.7 1.7 0 1 0 3.4 0a1.7 1.7 0 1 0 -3.4 0M110.26 769.73a1.7 1.7 0 1 0 3.4 0a1.7 1.7 0 1 0 -3.4 0M109.78 766.49a1.7 1.7 0 1 0 3.4 0a1.7 1.7 0 1 0 -3.4 0M110.91 781.39a1.7 1.7 0 1 0 3.4 0a1.7 1.7 0 1 0 -3.4 0M111.67 773.14a1.7 1.7 0 1 0 3.4 0a1.7 1.7 0 1 0 -3.4 0M111.79 777.15a1.7 1.7 0 1 0 3.4 0a1.7 1.7 0 1 0 -3.4 0M112.72 760.01a1.7 1.7 0 1 0 3.4 0a1.7 1.7 0 1 0 -3.4 0M112.85 766.92a1.7 1.7 0 1 0 3.4 0a1.7 1.7 0 1 0 -3.4 0M113.72 770.46a1.7 1.7 0 1 0 3.4 0a1.7 1.7 0 1 0 -3.4 0M114.61 778.97a1.7 1.7 0 1 0 3.4 0a1.7 1.7 0 1 0 -3.4 0M114.05 774.8a1.7 1.7 0 1 0 3.4 0a1.7 1.7 0 1 0 -3.4 0M114.99 761.1a1.7 1.7 0 1 0 3.4 0a1.7 1.7 0 1 0 -3.4 0M115.16 764.9a1.7 1.7 0 1 0 3.4 0a1.7 1.7 0 1 0 -3.4 0M115.96 783.11a1.7 1.7 0 1 0 3.4 0a1.7 1.7 0 1 0 -3.4 0M115.8 767.95a1.7 1.7 0 1 0 3.4 0a1.7 1.7 0 1 0 -3.4 0M116.61 771.92a1.7 1.7 0 1 0 3.4 0a1.7 1.7 0 1 0 -3.4 0M117.3 762.82a1.7 1.7 0 1 0 3.4 0a1.7 1.7 0 1 0 -3.4 0M118.35 777.07a1.7 1.7 0 1 0 3.4 0a1.7 1.7 0 1 0 -3.4 0M118.97 780.79a1.7 1.7 0 1 0 3.4 0a1.7 1.7 0 1 0 -3.4 0M118.24 765.98a1.7 1.7 0 1 0 3.4 0a1.7 1.7 0 1 0 -3.4 0M119 759.47a1.7 1.7 0 1 0 3.4 0a1.7 1.7 0 1 0 -3.4 0M120.23 785.18a1.7 1.7 0 1 0 3.4 0a1.7 1.7 0 1 0 -3.4 0M119.41 773.67a1.7 1.7 0 1 0 3.4 0a1.7 1.7 0 1 0 -3.4 0M120.67 769.88a1.7 1.7 0 1 0 3.4 0a1.7 1.7 0 1 0 -3.4 0M121.36 763.26a1.7 1.7 0 1 0 3.4 0a1.7 1.7 0 1 0 -3.4 0M122.54 778.67a1.7 1.7 0 1 0 3.4 0a1.7 1.7 0 1 0 -3.4 0M122.76 766.3a1.7 1.7 0 1 0 3.4 0a1.7 1.7 0 1 0 -3.4 0M122.75 774.48a1.7 1.7 0 1 0 3.4 0a1.7 1.7 0 1 0 -3.4 0M123.23 760.03a1.7 1.7 0 1 0 3.4 0a1.7 1.7 0 1 0 -3.4 0M123.79 769.96a1.7 1.7 0 1 0 3.4 0a1.7 1.7 0 1 0 -3.4 0M125.18 765.4a1.7 1.7 0 1 0 3.4 0a1.7 1.7 0 1 0 -3.4 0M124.7 762.52a1.7 1.7 0 1 0 3.4 0a1.7 1.7 0 1 0 -3.4 0M125.27 778.54a1.7 1.7 0 1 0 3.4 0a1.7 1.7 0 1 0 -3.4 0M126.1 774.75a1.7 1.7 0 1 0 3.4 0a1.7 1.7 0 1 0 -3.4 0M126.36 759.96a1.7 1.7 0 1 0 3.4 0a1.7 1.7 0 1 0 -3.4 0M126.83 769.59a1.7 1.7 0 1 0 3.4 0a1.7 1.7 0 1 0 -3.4 0M126.87 762.85a1.7 1.7 0 1 0 3.4 0a1.7 1.7 0 1 0 -3.4 0M127.92 782.04a1.7 1.7 0 1 0 3.4 0a1.7 1.7 0 1 0 -3.4 0M128.21 756.92a1.7 1.7 0 1 0 3.4 0a1.7 1.7 0 1 0 -3.4 0M129.51 778.55a1.7 1.7 0 1 0 3.4 0a1.7 1.7 0 1 0 -3.4 0M129.76 766.29a1.7 1.7 0 1 0 3.4 0a1.7 1.7 0 1 0 -3.4 0M129.92 774.85a1.7 1.7 0 1 0 3.4 0a1.7 1.7 0 1 0 -3.4 0M130.77 760.54a1.7 1.7 0 1 0 3.4 0a1.7 1.7 0 1 0 -3.4 0M130.77 763.5a1.7 1.7 0 1 0 3.4 0a1.7 1.7 0 1 0 -3.4 0M131.96 768.63a1.7 1.7 0 1 0 3.4 0a1.7 1.7 0 1 0 -3.4 0M131.94 755.72a1.7 1.7 0 1 0 3.4 0a1.7 1.7 0 1 0 -3.4 0M132.73 758.65a1.7 1.7 0 1 0 3.4 0a1.7 1.7 0 1 0 -3.4 0M132.3 765.39a1.7 1.7 0 1 0 3.4 0a1.7 1.7 0 1 0 -3.4 0M133.62 748.26a1.7 1.7 0 1 0 3.4 0a1.7 1.7 0 1 0 -3.4 0M133.1 761.45a1.7 1.7 0 1 0 3.4 0a1.7 1.7 0 1 0 -3.4 0M133.43 742.95a1.7 1.7 0 1 0 3.4 0a1.7 1.7 0 1 0 -3.4 0M134.8 736.1a1.7 1.7 0 1 0 3.4 0a1.7 1.7 0 1 0 -3.4 0M135 739.01a1.7 1.7 0 1 0 3.4 0a1.7 1.7 0 1 0 -3.4 0M136.03 725.07a1.7 1.7 0 1 0 3.4 0a1.7 1.7 0 1 0 -3.4 0M137.57 718.82a1.7 1.7 0 1 0 3.4 0a1.7 1.7 0 1 0 -3.4 0M136.54 711.24a1.7 1.7 0 1 0 3.4 0a1.7 1.7 0 1 0 -3.4 0M137.14 705.96a1.7 1.7 0 1 0 3.4 0a1.7 1.7 0 1 0 -3.4 0M138.06 696.43a1.7 1.7 0 1 0 3.4 0a1.7 1.7 0 1 0 -3.4 0M138.7 689.09a1.7 1.7 0 1 0 3.4 0a1.7 1.7 0 1 0 -3.4 0M138.87 680.85a1.7 1.7 0 1 0 3.4 0a1.7 1.7 0 1 0 -3.4 0M139.36 673.9a1.7 1.7 0 1 0 3.4 0a1.7 1.7 0 1 0 -3.4 0M140.31 667.54a1.7 1.7 0 1 0 3.4 0a1.7 1.7 0 1 0 -3.4 0M140.72 662.78a1.7 1.7 0 1 0 3.4 0a1.7 1.7 0 1 0 -3.4 0M140.45 657.9a1.7 1.7 0 1 0 3.4 0a1.7 1.7 0 1 0 -3.4 0M141.43 653.98a1.7 1.7 0 1 0 3.4 0a1.7 1.7 0 1 0 -3.4 0M141.99 655.95a1.7 1.7 0 1 0 3.4 0a1.7 1.7 0 1 0 -3.4 0M141.94 651.34a1.7 1.7 0 1 0 3.4 0a1.7 1.7 0 1 0 -3.4 0M143.1 653.21a1.7 1.7 0 1 0 3.4 0a1.7 1.7 0 1 0 -3.4 0M143.04 658.34a1.7 1.7 0 1 0 3.4 0a1.7 1.7 0 1 0 -3.4 0M144.46 663.54a1.7 1.7 0 1 0 3.4 0a1.7 1.7 0 1 0 -3.4 0M144.57 669.12a1.7 1.7 0 1 0 3.4 0a1.7 1.7 0 1 0 -3.4 0M145.02 674.85a1.7 1.7 0 1 0 3.4 0a1.7 1.7 0 1 0 -3.4 0M145.18 682.48a1.7 1.7 0 1 0 3.4 0a1.7 1.7 0 1 0 -3.4 0M145.92 692a1.7 1.7 0 1 0 3.4 0a1.7 1.7 0 1 0 -3.4 0M145.48 700.58a1.7 1.7 0 1 0 3.4 0a1.7 1.7 0 1 0 -3.4 0M146.42 709.39a1.7 1.7 0 1 0 3.4 0a1.7 1.7 0 1 0 -3.4 0M147.67 718.62a1.7 1.7 0 1 0 3.4 0a1.7 1.7 0 1 0 -3.4 0M146.92 727.24a1.7 1.7 0 1 0 3.4 0a1.7 1.7 0 1 0 -3.4 0M148.91 735.36a1.7 1.7 0 1 0 3.4 0a1.7 1.7 0 1 0 -3.4 0M148.12 741.24a1.7 1.7 0 1 0 3.4 0a1.7 1.7 0 1 0 -3.4 0M149.87 746.58a1.7 1.7 0 1 0 3.4 0a1.7 1.7 0 1 0 -3.4 0M149.57 752.77a1.7 1.7 0 1 0 3.4 0a1.7 1.7 0 1 0 -3.4 0M150.88 760.38a1.7 1.7 0 1 0 3.4 0a1.7 1.7 0 1 0 -3.4 0M151.06 765.43a1.7 1.7 0 1 0 3.4 0a1.7 1.7 0 1 0 -3.4 0M150.73 756.21a1.7 1.7 0 1 0 3.4 0a1.7 1.7 0 1 0 -3.4 0M152.62 768.23a1.7 1.7 0 1 0 3.4 0a1.7 1.7 0 1 0 -3.4 0M153.22 772.66a1.7 1.7 0 1 0 3.4 0a1.7 1.7 0 1 0 -3.4 0M152.97 775.9a1.7 1.7 0 1 0 3.4 0a1.7 1.7 0 1 0 -3.4 0M153.37 762.8a1.7 1.7 0 1 0 3.4 0a1.7 1.7 0 1 0 -3.4 0M153.92 765.35a1.7 1.7 0 1 0 3.4 0a1.7 1.7 0 1 0 -3.4 0M154.02 757.87a1.7 1.7 0 1 0 3.4 0a1.7 1.7 0 1 0 -3.4 0M155.56 780.67a1.7 1.7 0 1 0 3.4 0a1.7 1.7 0 1 0 -3.4 0M155.24 770.59a1.7 1.7 0 1 0 3.4 0a1.7 1.7 0 1 0 -3.4 0M155.98 760.55a1.7 1.7 0 1 0 3.4 0a1.7 1.7 0 1 0 -3.4 0M156.11 778.1a1.7 1.7 0 1 0 3.4 0a1.7 1.7 0 1 0 -3.4 0M156.7 763.55a1.7 1.7 0 1 0 3.4 0a1.7 1.7 0 1 0 -3.4 0M156.88 766.83a1.7 1.7 0 1 0 3.4 0a1.7 1.7 0 1 0 -3.4 0M158.64 772.07a1.7 1.7 0 1 0 3.4 0a1.7 1.7 0 1 0 -3.4 0M158.44 782.45a1.7 1.7 0 1 0 3.4 0a1.7 1.7 0 1 0 -3.4 0M159.5 759.59a1.7 1.7 0 1 0 3.4 0a1.7 1.7 0 1 0 -3.4 0M159.53 777.57a1.7 1.7 0 1 0 3.4 0a1.7 1.7 0 1 0 -3.4 0M159.67 764.02a1.7 1.7 0 1 0 3.4 0a1.7 1.7 0 1 0 -3.4 0M160.36 766.87a1.7 1.7 0 1 0 3.4 0a1.7 1.7 0 1 0 -3.4 0M160.74 769.98a1.7 1.7 0 1 0 3.4 0a1.7 1.7 0 1 0 -3.4 0M161.53 773.95a1.7 1.7 0 1 0 3.4 0a1.7 1.7 0 1 0 -3.4 0M161.84 778.24a1.7 1.7 0 1 0 3.4 0a1.7 1.7 0 1 0 -3.4 0M162.38 760.99a1.7 1.7 0 1 0 3.4 0a1.7 1.7 0 1 0 -3.4 0M162.34 764.09a1.7 1.7 0 1 0 3.4 0a1.7 1.7 0 1 0 -3.4 0M163.13 767.7a1.7 1.7 0 1 0 3.4 0a1.7 1.7 0 1 0 -3.4 0M164.86 771.7a1.7 1.7 0 1 0 3.4 0a1.7 1.7 0 1 0 -3.4 0M164.2 779.02a1.7 1.7 0 1 0 3.4 0a1.7 1.7 0 1 0 -3.4 0M164.51 775.88a1.7 1.7 0 1 0 3.4 0a1.7 1.7 0 1 0 -3.4 0M165.71 782.81a1.7 1.7 0 1 0 3.4 0a1.7 1.7 0 1 0 -3.4 0M166.74 760.13a1.7 1.7 0 1 0 3.4 0a1.7 1.7 0 1 0 -3.4 0M165.81 763.48a1.7 1.7 0 1 0 3.4 0a1.7 1.7 0 1 0 -3.4 0M166.94 768.67a1.7 1.7 0 1 0 3.4 0a1.7 1.7 0 1 0 -3.4 0M167.23 774.13a1.7 1.7 0 1 0 3.4 0a1.7 1.7 0 1 0 -3.4 0M167.17 777.12a1.7 1.7 0 1 0 3.4 0a1.7 1.7 0 1 0 -3.4 0M168.91 781.1a1.7 1.7 0 1 0 3.4 0a1.7 1.7 0 1 0 -3.4 0M169.04 763.53a1.7 1.7 0 1 0 3.4 0a1.7 1.7 0 1 0 -3.4 0M169.59 771.61a1.7 1.7 0 1 0 3.4 0a1.7 1.7 0 1 0 -3.4 0M169.68 758.19a1.7 1.7 0 1 0 3.4 0a1.7 1.7 0 1 0 -3.4 0M170.78 768.74a1.7 1.7 0 1 0 3.4 0a1.7 1.7 0 1 0 -3.4 0M170.78 776.54a1.7 1.7 0 1 0 3.4 0a1.7 1.7 0 1 0 -3.4 0M171.48 781.87a1.7 1.7 0 1 0 3.4 0a1.7 1.7 0 1 0 -3.4 0M171.5 765.15a1.7 1.7 0 1 0 3.4 0a1.7 1.7 0 1 0 -3.4 0M171.95 762.06a1.7 1.7 0 1 0 3.4 0a1.7 1.7 0 1 0 -3.4 0M173.73 771.11a1.7 1.7 0 1 0 3.4 0a1.7 1.7 0 1 0 -3.4 0M173.31 778.56a1.7 1.7 0 1 0 3.4 0a1.7 1.7 0 1 0 -3.4 0M174.21 774.67a1.7 1.7 0 1 0 3.4 0a1.7 1.7 0 1 0 -3.4 0M174.55 767.17a1.7 1.7 0 1 0 3.4 0a1.7 1.7 0 1 0 -3.4 0M174.85 782.05a1.7 1.7 0 1 0 3.4 0a1.7 1.7 0 1 0 -3.4 0M175.31 762.26a1.7 1.7 0 1 0 3.4 0a1.7 1.7 0 1 0 -3.4 0M176.38 778.27a1.7 1.7 0 1 0 3.4 0a1.7 1.7 0 1 0 -3.4 0M176.42 769.89a1.7 1.7 0 1 0 3.4 0a1.7 1.7 0 1 0 -3.4 0M177 775.67a1.7 1.7 0 1 0 3.4 0a1.7 1.7 0 1 0 -3.4 0M177.58 766.08a1.7 1.7 0 1 0 3.4 0a1.7 1.7 0 1 0 -3.4 0M178.66 771.63a1.7 1.7 0 1 0 3.4 0a1.7 1.7 0 1 0 -3.4 0M178.92 779.71a1.7 1.7 0 1 0 3.4 0a1.7 1.7 0 1 0 -3.4 0M179.27 758.48a1.7 1.7 0 1 0 3.4 0a1.7 1.7 0 1 0 -3.4 0M179.3 783.6a1.7 1.7 0 1 0 3.4 0a1.7 1.7 0 1 0 -3.4 0M179.39 777.22a1.7 1.7 0 1 0 3.4 0a1.7 1.7 0 1 0 -3.4 0M181.06 762.23a1.7 1.7 0 1 0 3.4 0a1.7 1.7 0 1 0 -3.4 0M181.57 765.57a1.7 1.7 0 1 0 3.4 0a1.7 1.7 0 1 0 -3.4 0M181.52 773.71a1.7 1.7 0 1 0 3.4 0a1.7 1.7 0 1 0 -3.4 0M182.36 781.95a1.7 1.7 0 1 0 3.4 0a1.7 1.7 0 1 0 -3.4 0M182.98 776.96a1.7 1.7 0 1 0 3.4 0a1.7 1.7 0 1 0 -3.4 0M183.51 761.2a1.7 1.7 0 1 0 3.4 0a1.7 1.7 0 1 0 -3.4 0M184.05 769.4a1.7 1.7 0 1 0 3.4 0a1.7 1.7 0 1 0 -3.4 0M183.87 774.78a1.7 1.7 0 1 0 3.4 0a1.7 1.7 0 1 0 -3.4 0M185.35 779.94a1.7 1.7 0 1 0 3.4 0a1.7 1.7 0 1 0 -3.4 0M184.47 767.03a1.7 1.7 0 1 0 3.4 0a1.7 1.7 0 1 0 -3.4 0M186.03 763.05a1.7 1.7 0 1 0 3.4 0a1.7 1.7 0 1 0 -3.4 0M186.35 775.79a1.7 1.7 0 1 0 3.4 0a1.7 1.7 0 1 0 -3.4 0M187.04 759.15a1.7 1.7 0 1 0 3.4 0a1.7 1.7 0 1 0 -3.4 0M188.04 772.25a1.7 1.7 0 1 0 3.4 0a1.7 1.7 0 1 0 -3.4 0M188.35 765.97a1.7 1.7 0 1 0 3.4 0a1.7 1.7 0 1 0 -3.4 0M187.53 751.84a1.7 1.7 0 1 0 3.4 0a1.7 1.7 0 1 0 -3.4 0M187.76 755.93a1.7 1.7 0 1 0 3.4 0a1.7 1.7 0 1 0 -3.4 0M189.52 746.67a1.7 1.7 0 1 0 3.4 0a1.7 1.7 0 1 0 -3.4 0M189.1 742.38a1.7 1.7 0 1 0 3.4 0a1.7 1.7 0 1 0 -3.4 0M190.1 750.93a1.7 1.7 0 1 0 3.4 0a1.7 1.7 0 1 0 -3.4 0M191.03 736.39a1.7 1.7 0 1 0 3.4 0a1.7 1.7 0 1 0 -3.4 0M190.29 730.7a1.7 1.7 0 1 0 3.4 0a1.7 1.7 0 1 0 -3.4 0M190.56 721.51a1.7 1.7 0 1 0 3.4 0a1.7 1.7 0 1 0 -3.4 0M192.25 716.18a1.7 1.7 0 1 0 3.4 0a1.7 1.7 0 1 0 -3.4 0M192.64 707.74a1.7 1.7 0 1 0 3.4 0a1.7 1.7 0 1 0 -3.4 0M193 700.22a1.7 1.7 0 1 0 3.4 0a1.7 1.7 0 1 0 -3.4 0M193.64 692.42a1.7 1.7 0 1 0 3.4 0a1.7 1.7 0 1 0 -3.4 0M193.69 682.84a1.7 1.7 0 1 0 3.4 0a1.7 1.7 0 1 0 -3.4 0M193.87 675.38a1.7 1.7 0 1 0 3.4 0a1.7 1.7 0 1 0 -3.4 0M195.04 668.14a1.7 1.7 0 1 0 3.4 0a1.7 1.7 0 1 0 -3.4 0M195.14 661.69a1.7 1.7 0 1 0 3.4 0a1.7 1.7 0 1 0 -3.4 0M195.31 656.98a1.7 1.7 0 1 0 3.4 0a1.7 1.7 0 1 0 -3.4 0M196.88 653.4a1.7 1.7 0 1 0 3.4 0a1.7 1.7 0 1 0 -3.4 0M197.1 649.57a1.7 1.7 0 1 0 3.4 0a1.7 1.7 0 1 0 -3.4 0M197.84 647.85a1.7 1.7 0 1 0 3.4 0a1.7 1.7 0 1 0 -3.4 0M197.64 650.45a1.7 1.7 0 1 0 3.4 0a1.7 1.7 0 1 0 -3.4 0M198.31 651.98a1.7 1.7 0 1 0 3.4 0a1.7 1.7 0 1 0 -3.4 0M198.64 655.7a1.7 1.7 0 1 0 3.4 0a1.7 1.7 0 1 0 -3.4 0M199.2 660.13a1.7 1.7 0 1 0 3.4 0a1.7 1.7 0 1 0 -3.4 0M200.24 666.5a1.7 1.7 0 1 0 3.4 0a1.7 1.7 0 1 0 -3.4 0M200.25 672.93a1.7 1.7 0 1 0 3.4 0a1.7 1.7 0 1 0 -3.4 0M201.32 682.83a1.7 1.7 0 1 0 3.4 0a1.7 1.7 0 1 0 -3.4 0M201.81 691.8a1.7 1.7 0 1 0 3.4 0a1.7 1.7 0 1 0 -3.4 0M203.16 701.7a1.7 1.7 0 1 0 3.4 0a1.7 1.7 0 1 0 -3.4 0M201.95 710.54a1.7 1.7 0 1 0 3.4 0a1.7 1.7 0 1 0 -3.4 0M203.59 719.74a1.7 1.7 0 1 0 3.4 0a1.7 1.7 0 1 0 -3.4 0M203.61 723.23a1.7 1.7 0 1 0 3.4 0a1.7 1.7 0 1 0 -3.4 0M204.15 733.05a1.7 1.7 0 1 0 3.4 0a1.7 1.7 0 1 0 -3.4 0M203.93 742.6a1.7 1.7 0 1 0 3.4 0a1.7 1.7 0 1 0 -3.4 0M204.92 749.02a1.7 1.7 0 1 0 3.4 0a1.7 1.7 0 1 0 -3.4 0M206.03 755.06a1.7 1.7 0 1 0 3.4 0a1.7 1.7 0 1 0 -3.4 0M206.12 759.85a1.7 1.7 0 1 0 3.4 0a1.7 1.7 0 1 0 -3.4 0M206.7 752.37a1.7 1.7 0 1 0 3.4 0a1.7 1.7 0 1 0 -3.4 0M207.02 766.88a1.7 1.7 0 1 0 3.4 0a1.7 1.7 0 1 0 -3.4 0M208.24 770.95a1.7 1.7 0 1 0 3.4 0a1.7 1.7 0 1 0 -3.4 0M208.15 756.97a1.7 1.7 0 1 0 3.4 0a1.7 1.7 0 1 0 -3.4 0M207.57 764.17a1.7 1.7 0 1 0 3.4 0a1.7 1.7 0 1 0 -3.4 0M208.82 776.66a1.7 1.7 0 1 0 3.4 0a1.7 1.7 0 1 0 -3.4 0M208.68 761.03a1.7 1.7 0 1 0 3.4 0a1.7 1.7 0 1 0 -3.4 0M208.54 779.57a1.7 1.7 0 1 0 3.4 0a1.7 1.7 0 1 0 -3.4 0M210.41 767.73a1.7 1.7 0 1 0 3.4 0a1.7 1.7 0 1 0 -3.4 0M211.84 758.51a1.7 1.7 0 1 0 3.4 0a1.7 1.7 0 1 0 -3.4 0M211.7 771.96a1.7 1.7 0 1 0 3.4 0a1.7 1.7 0 1 0 -3.4 0M211.59 763.98a1.7 1.7 0 1 0 3.4 0a1.7 1.7 0 1 0 -3.4 0M212.21 773.92a1.7 1.7 0 1 0 3.4 0a1.7 1.7 0 1 0 -3.4 0M213.74 782.7a1.7 1.7 0 1 0 3.4 0a1.7 1.7 0 1 0 -3.4 0M213.76 766.81a1.7 1.7 0 1 0 3.4 0a1.7 1.7 0 1 0 -3.4 0M214.21 778.56a1.7 1.7 0 1 0 3.4 0a1.7 1.7 0 1 0 -3.4 0M214.66 770.56a1.7 1.7 0 1 0 3.4 0a1.7 1.7 0 1 0 -3.4 0M215.2 773.89a1.7 1.7 0 1 0 3.4 0a1.7 1.7 0 1 0 -3.4 0M216.09 768.17a1.7 1.7 0 1 0 3.4 0a1.7 1.7 0 1 0 -3.4 0M216.46 760.2a1.7 1.7 0 1 0 3.4 0a1.7 1.7 0 1 0 -3.4 0M216.8 780.9a1.7 1.7 0 1 0 3.4 0a1.7 1.7 0 1 0 -3.4 0M216.67 763.54a1.7 1.7 0 1 0 3.4 0a1.7 1.7 0 1 0 -3.4 0M217.95 777.42a1.7 1.7 0 1 0 3.4 0a1.7 1.7 0 1 0 -3.4 0M217.85 770.52a1.7 1.7 0 1 0 3.4 0a1.7 1.7 0 1 0 -3.4 0M219.24 765.45a1.7 1.7 0 1 0 3.4 0a1.7 1.7 0 1 0 -3.4 0M218.56 761.68a1.7 1.7 0 1 0 3.4 0a1.7 1.7 0 1 0 -3.4 0M219.63 781.98a1.7 1.7 0 1 0 3.4 0a1.7 1.7 0 1 0 -3.4 0M220.2 759.02a1.7 1.7 0 1 0 3.4 0a1.7 1.7 0 1 0 -3.4 0M220.04 770.18a1.7 1.7 0 1 0 3.4 0a1.7 1.7 0 1 0 -3.4 0M222.06 785.19a1.7 1.7 0 1 0 3.4 0a1.7 1.7 0 1 0 -3.4 0M222.43 776.6a1.7 1.7 0 1 0 3.4 0a1.7 1.7 0 1 0 -3.4 0M221.97 762.71a1.7 1.7 0 1 0 3.4 0a1.7 1.7 0 1 0 -3.4 0M223.09 767.5a1.7 1.7 0 1 0 3.4 0a1.7 1.7 0 1 0 -3.4 0M223.4 772.55a1.7 1.7 0 1 0 3.4 0a1.7 1.7 0 1 0 -3.4 0M222.4 764.84a1.7 1.7 0 1 0 3.4 0a1.7 1.7 0 1 0 -3.4 0M224.34 780.16a1.7 1.7 0 1 0 3.4 0a1.7 1.7 0 1 0 -3.4 0M224.68 758.72a1.7 1.7 0 1 0 3.4 0a1.7 1.7 0 1 0 -3.4 0M225.26 769.65a1.7 1.7 0 1 0 3.4 0a1.7 1.7 0 1 0 -3.4 0M225.18 762.93a1.7 1.7 0 1 0 3.4 0a1.7 1.7 0 1 0 -3.4 0M226.08 783.84a1.7 1.7 0 1 0 3.4 0a1.7 1.7 0 1 0 -3.4 0M226.63 776.56a1.7 1.7 0 1 0 3.4 0a1.7 1.7 0 1 0 -3.4 0M227.81 765.69a1.7 1.7 0 1 0 3.4 0a1.7 1.7 0 1 0 -3.4 0M227.89 755.33a1.7 1.7 0 1 0 3.4 0a1.7 1.7 0 1 0 -3.4 0M228.22 780.73a1.7 1.7 0 1 0 3.4 0a1.7 1.7 0 1 0 -3.4 0M229.49 761.13a1.7 1.7 0 1 0 3.4 0a1.7 1.7 0 1 0 -3.4 0M228.95 772.96a1.7 1.7 0 1 0 3.4 0a1.7 1.7 0 1 0 -3.4 0M229.53 768.54a1.7 1.7 0 1 0 3.4 0a1.7 1.7 0 1 0 -3.4 0M229.32 777.88a1.7 1.7 0 1 0 3.4 0a1.7 1.7 0 1 0 -3.4 0M231.52 764.7a1.7 1.7 0 1 0 3.4 0a1.7 1.7 0 1 0 -3.4 0M231.71 775.05a1.7 1.7 0 1 0 3.4 0a1.7 1.7 0 1 0 -3.4 0M232.19 771.54a1.7 1.7 0 1 0 3.4 0a1.7 1.7 0 1 0 -3.4 0M232.57 767.76a1.7 1.7 0 1 0 3.4 0a1.7 1.7 0 1 0 -3.4 0M232.79 761.46a1.7 1.7 0 1 0 3.4 0a1.7 1.7 0 1 0 -3.4 0M233.35 778.7a1.7 1.7 0 1 0 3.4 0a1.7 1.7 0 1 0 -3.4 0M233.61 759.18a1.7 1.7 0 1 0 3.4 0a1.7 1.7 0 1 0 -3.4 0M234.14 773.85a1.7 1.7 0 1 0 3.4 0a1.7 1.7 0 1 0 -3.4 0M234.77 783.21a1.7 1.7 0 1 0 3.4 0a1.7 1.7 0 1 0 -3.4 0M236 765.05a1.7 1.7 0 1 0 3.4 0a1.7 1.7 0 1 0 -3.4 0M236.02 760.63a1.7 1.7 0 1 0 3.4 0a1.7 1.7 0 1 0 -3.4 0M236.22 768.23a1.7 1.7 0 1 0 3.4 0a1.7 1.7 0 1 0 -3.4 0M236.46 776.89a1.7 1.7 0 1 0 3.4 0a1.7 1.7 0 1 0 -3.4 0M236.93 780.89a1.7 1.7 0 1 0 3.4 0a1.7 1.7 0 1 0 -3.4 0M238.55 772.63a1.7 1.7 0 1 0 3.4 0a1.7 1.7 0 1 0 -3.4 0M238.51 766.19a1.7 1.7 0 1 0 3.4 0a1.7 1.7 0 1 0 -3.4 0M238.79 778.78a1.7 1.7 0 1 0 3.4 0a1.7 1.7 0 1 0 -3.4 0M239.08 783.02a1.7 1.7 0 1 0 3.4 0a1.7 1.7 0 1 0 -3.4 0M239.2 760.01a1.7 1.7 0 1 0 3.4 0a1.7 1.7 0 1 0 -3.4 0M240.23 775.74a1.7 1.7 0 1 0 3.4 0a1.7 1.7 0 1 0 -3.4 0M241.2 769.2a1.7 1.7 0 1 0 3.4 0a1.7 1.7 0 1 0 -3.4 0M241.07 763.9a1.7 1.7 0 1 0 3.4 0a1.7 1.7 0 1 0 -3.4 0M241.65 780.54a1.7 1.7 0 1 0 3.4 0a1.7 1.7 0 1 0 -3.4 0M242.15 760.59a1.7 1.7 0 1 0 3.4 0a1.7 1.7 0 1 0 -3.4 0M242.82 772.74a1.7 1.7 0 1 0 3.4 0a1.7 1.7 0 1 0 -3.4 0M242.47 776.93a1.7 1.7 0 1 0 3.4 0a1.7 1.7 0 1 0 -3.4 0M243.65 765.44a1.7 1.7 0 1 0 3.4 0a1.7 1.7 0 1 0 -3.4 0M243.84 769.06a1.7 1.7 0 1 0 3.4 0a1.7 1.7 0 1 0 -3.4 0M245.21 762.45a1.7 1.7 0 1 0 3.4 0a1.7 1.7 0 1 0 -3.4 0M244.89 780.26a1.7 1.7 0 1 0 3.4 0a1.7 1.7 0 1 0 -3.4 0M246.06 775.55a1.7 1.7 0 1 0 3.4 0a1.7 1.7 0 1 0 -3.4 0M247.04 767.1a1.7 1.7 0 1 0 3.4 0a1.7 1.7 0 1 0 -3.4 0M246.62 772.35a1.7 1.7 0 1 0 3.4 0a1.7 1.7 0 1 0 -3.4 0M246.98 784.03a1.7 1.7 0 1 0 3.4 0a1.7 1.7 0 1 0 -3.4 0M247.88 779.95a1.7 1.7 0 1 0 3.4 0a1.7 1.7 0 1 0 -3.4 0M248.28 759.96a1.7 1.7 0 1 0 3.4 0a1.7 1.7 0 1 0 -3.4 0M248.29 770.14a1.7 1.7 0 1 0 3.4 0a1.7 1.7 0 1 0 -3.4 0M249.52 775.46a1.7 1.7 0 1 0 3.4 0a1.7 1.7 0 1 0 -3.4 0M250.79 765.85a1.7 1.7 0 1 0 3.4 0a1.7 1.7 0 1 0 -3.4 0M250.16 778.18a1.7 1.7 0 1 0 3.4 0a1.7 1.7 0 1 0 -3.4 0M250.69 762.08a1.7 1.7 0 1 0 3.4 0a1.7 1.7 0 1 0 -3.4 0M250.77 771.09a1.7 1.7 0 1 0 3.4 0a1.7 1.7 0 1 0 -3.4 0M251.95 782.57a1.7 1.7 0 1 0 3.4 0a1.7 1.7 0 1 0 -3.4 0M251.67 776.7a1.7 1.7 0 1 0 3.4 0a1.7 1.7 0 1 0 -3.4 0M252.24 773.93a1.7 1.7 0 1 0 3.4 0a1.7 1.7 0 1 0 -3.4 0M253.94 769.65a1.7 1.7 0 1 0 3.4 0a1.7 1.7 0 1 0 -3.4 0M253.35 762.81a1.7 1.7 0 1 0 3.4 0a1.7 1.7 0 1 0 -3.4 0M254.84 783.67a1.7 1.7 0 1 0 3.4 0a1.7 1.7 0 1 0 -3.4 0' fill='#fff' stroke='#000' stroke-width='1.2'/>
<path d='M86.5 771.9 87.07 771.9 87.63 771.9 88.2 771.9 88.77 771.9 89.33 771.9 89.9 771.9 90.47 771.9 91.04 771.9 91.6 771.9 92.17 771.9 92.74 771.9 93.3 771.9 93.87 771.9 94.44 771.9 95 771.9 95.57 771.9 96.14 771.9 96.7 771.9 97.27 771.9 97.84 771.9 98.4 771.9 98.97 771.9 99.54 771.9 100.11 771.9 100.67 771.9 101.24 771.9 101.81 771.9 102.37 771.9 102.94 771.9 103.51 771.9 104.07 771.9 104.64 771.9 105.21 771.9 105.77 771.9 106.34 771.9 106.91 771.9 107.47 771.9 108.04 771.9 108.61 771.9 109.18 771.9 109.74 771.9 110.31 771.9 110.88 771.9 111.44 771.9 112.01 771.9 112.58 771.9 113.14 771.9 113.71 771.9 114.28 771.9 114.84 771.9 115.41 771.9 115.98 771.9 116.55 771.9 117.11 771.9 117.68 771.9 118.25 771.9 118.81 771.9 119.38 771.9 119.95 771.9 120.51 771.9 121.08 771.9 121.65 771.9 122.21 771.9 122.78 771.9 123.35 771.9 123.91 771.9 124.48 771.9 125.05 771.89 125.62 771.89 126.18 771.88 126.75 771.87 127.32 771.84 127.88 771.8 128.45 771.74 129.02 771.65 129.58 771.51 130.15 771.29 130.72 770.97 131.28 770.51 131.85 769.87 132.42 768.96 132.98 767.74 133.55 766.1 134.12 763.95 134.69 761.2 135.25 757.74 135.82 753.49 136.39 748.37 136.95 742.35 137.52 735.43 138.09 727.66 138.65 719.17 139.22 710.12 139.79 700.78 140.35 691.43 140.92 682.41 141.49 674.11 142.06 666.87 142.62 661.05 143.19 656.91 143.76 654.68 144.32 654.46 144.89 656.27 145.46 660.01 146.02 665.5 146.59 672.46 147.16 680.56 147.72 689.46 148.29 698.76 148.86 708.14 149.42 717.27 149.99 725.9 150.56 733.83 151.13 740.94 151.69 747.16 152.26 752.47 152.83 756.9 153.39 760.52 153.96 763.41 154.53 765.68 155.09 767.42 155.66 768.73 156.23 769.7 156.79 770.39 157.36 770.89 157.93 771.23 158.49 771.47 159.06 771.62 159.63 771.73 160.2 771.79 160.76 771.84 161.33 771.86 161.9 771.88 162.46 771.89 163.03 771.89 163.6 771.9 164.16 771.9 164.73 771.9 165.3 771.9 165.86 771.9 166.43 771.9 167 771.9 167.57 771.9 168.13 771.9 168.7 771.9 169.27 771.9 169.83 771.9 170.4 771.9 170.97 771.9 171.53 771.9 172.1 771.9 172.67 771.9 173.23 771.9 173.8 771.9 174.37 771.9 174.93 771.9 175.5 771.9 176.07 771.9 176.64 771.9 177.2 771.9 177.77 771.9 178.34 771.9 178.9 771.9 179.47 771.9 180.04 771.9 180.6 771.89 181.17 771.89 181.74 771.88 182.3 771.86 182.87 771.84 183.44 771.8 184.01 771.73 184.57 771.63 185.14 771.47 185.71 771.24 186.27 770.9 186.84 770.41 187.41 769.71 187.97 768.75 188.54 767.44 189.11 765.69 189.67 763.41 190.24 760.49 190.81 756.83 191.37 752.34 191.94 746.94 192.51 740.61 193.08 733.35 193.64 725.22 194.21 716.35 194.78 706.93 195.34 697.23 195.91 687.55 196.48 678.27 197.04 669.75 197.61 662.37 198.18 656.49 198.74 652.39 199.31 650.27 199.88 650.25 200.44 652.33 201.01 656.4 201.58 662.25 202.15 669.59 202.71 678.09 203.28 687.37 203.85 697.04 204.41 706.74 204.98 716.17 205.55 725.05 206.11 733.2 206.68 740.48 207.25 746.83 207.81 752.24 208.38 756.75 208.95 760.43 209.52 763.36 210.08 765.65 210.65 767.41 211.22 768.73 211.78 769.7 212.35 770.4 212.92 770.89 213.48 771.24 214.05 771.47 214.62 771.63 215.18 771.73 215.75 771.79 216.32 771.84 216.88 771.86 217.45 771.88 218.02 771.89 218.59 771.89 219.15 771.9 219.72 771.9 220.29 771.9 220.85 771.9 221.42 771.9 221.99 771.9 222.55 771.9 223.12 771.9 223.69 771.9 224.25 771.9 224.82 771.9 225.39 771.9 225.95 771.9 226.52 771.9 227.09 771.9 227.66 771.9 228.22 771.9 228.79 771.9 229.36 771.9 229.92 771.9 230.49 771.9 231.06 771.9 231.62 771.9 232.19 771.9 232.76 771.9 233.32 771.9 233.89 771.9 234.46 771.9 235.03 771.9 235.59 771.9 236.16 771.9 236.73 771.9 237.29 771.9 237.86 771.9 238.43 771.9 238.99 771.9 239.56 771.9 240.13 771.9 240.69 771.9 241.26 771.9 241.83 771.9 242.39 771.9 242.96 771.9 243.53 771.9 244.1 771.9 244.66 771.9 245.23 771.9 245.8 771.9 246.36 771.9 246.93 771.9 247.5 771.9 248.06 771.9 248.63 771.9 249.2 771.9 249.76 771.9 250.33 771.9 250.9 771.9 251.46 771.9 252.03 771.9 252.6 771.9 253.17 771.9 253.73 771.9 254.3 771.9 254.87 771.9 255.43 771.9 256 771.9' fill='none' stroke='#f00' stroke-width='1.8'/>
<path d='M71.7 644V807.3H272.1' fill='none' stroke='#000' stroke-width='2.1'/>
<path d='M65.2 807.3H71.7M65.2 774.84H71.7M65.2 742.38H71.7M65.2 709.92H71.7M65.2 677.46H71.7M65.2 645H71.7M104.9 807.3V813.8M155 807.3V813.8M204.8 807.3V813.8M254.7 807.3V813.8' fill='none' stroke='#000' stroke-width='2.1'/>
<text x='32.53' y='810.47' font-size='9.6' textLength='28.85' lengthAdjust='spacing'>178000</text>
<text x='32.53' y='778.01' font-size='9.6' textLength='28.85' lengthAdjust='spacing'>179000</text>
<text x='32.53' y='745.55' font-size='9.6' textLength='28.85' lengthAdjust='spacing'>180000</text>
<text x='32.53' y='713.09' font-size='9.6' textLength='28.85' lengthAdjust='spacing'>181000</text>
<text x='32.53' y='680.63' font-size='9.6' textLength='28.85' lengthAdjust='spacing'>182000</text>
<text x='32.53' y='648.17' font-size='9.6' textLength='28.85' lengthAdjust='spacing'>183000</text>
<text x='86.78' y='825.5' font-size='9.6' textLength='35.66' lengthAdjust='spacing'>1902.705</text>
<text x='136.88' y='825.5' font-size='9.6' textLength='35.66' lengthAdjust='spacing'>1902.720</text>
<text x='186.68' y='825.5' font-size='9.6' textLength='35.66' lengthAdjust='spacing'>1902.735</text>
<text x='236.58' y='825.5' font-size='9.6' textLength='35.66' lengthAdjust='spacing'>1902.750</text>
<text x='84.8' y='681.2' font-size='16' textLength='42' lengthAdjust='spacingAndGlyphs'>R (28)</text>
<text x='112' y='846.3' font-size='12.6'>Wavenumber/ cm<tspan font-size='6.5' dx='1' dy='-6.8'>-1</tspan></text>
<text transform='translate(13.8 781.1) rotate(-90)' font-size='12.6'>Decay rate (k)/sec<tspan font-size='7' dy='-6.5'>-1</tspan></text>
<path d='M397.48 790.06a1.65 1.65 0 1 0 3.3 0a1.65 1.65 0 1 0 -3.3 0M398.27 798.85a1.65 1.65 0 1 0 3.3 0a1.65 1.65 0 1 0 -3.3 0M398.85 780.95a1.65 1.65 0 1 0 3.3 0a1.65 1.65 0 1 0 -3.3 0M399.95 794.34a1.65 1.65 0 1 0 3.3 0a1.65 1.65 0 1 0 -3.3 0M399.56 786.76a1.65 1.65 0 1 0 3.3 0a1.65 1.65 0 1 0 -3.3 0M401.22 797.25a1.65 1.65 0 1 0 3.3 0a1.65 1.65 0 1 0 -3.3 0M401.43 790.58a1.65 1.65 0 1 0 3.3 0a1.65 1.65 0 1 0 -3.3 0M402.94 782.93a1.65 1.65 0 1 0 3.3 0a1.65 1.65 0 1 0 -3.3 0M403.57 788.43a1.65 1.65 0 1 0 3.3 0a1.65 1.65 0 1 0 -3.3 0M404.38 794.26a1.65 1.65 0 1 0 3.3 0a1.65 1.65 0 1 0 -3.3 0M404.66 778.7a1.65 1.65 0 1 0 3.3 0a1.65 1.65 0 1 0 -3.3 0M404.84 801.83a1.65 1.65 0 1 0 3.3 0a1.65 1.65 0 1 0 -3.3 0M405.89 797.74a1.65 1.65 0 1 0 3.3 0a1.65 1.65 0 1 0 -3.3 0M406.81 782.17a1.65 1.65 0 1 0 3.3 0a1.65 1.65 0 1 0 -3.3 0M406.32 791.67a1.65 1.65 0 1 0 3.3 0a1.65 1.65 0 1 0 -3.3 0M407.54 786.79a1.65 1.65 0 1 0 3.3 0a1.65 1.65 0 1 0 -3.3 0M407.81 795.51a1.65 1.65 0 1 0 3.3 0a1.65 1.65 0 1 0 -3.3 0M409.14 798.64a1.65 1.65 0 1 0 3.3 0a1.65 1.65 0 1 0 -3.3 0M408.6 789.2a1.65 1.65 0 1 0 3.3 0a1.65 1.65 0 1 0 -3.3 0M409.46 777.17a1.65 1.65 0 1 0 3.3 0a1.65 1.65 0 1 0 -3.3 0M410.38 792.61a1.65 1.65 0 1 0 3.3 0a1.65 1.65 0 1 0 -3.3 0M410.92 780.83a1.65 1.65 0 1 0 3.3 0a1.65 1.65 0 1 0 -3.3 0M410.57 795.26a1.65 1.65 0 1 0 3.3 0a1.65 1.65 0 1 0 -3.3 0M412.16 787.15a1.65 1.65 0 1 0 3.3 0a1.65 1.65 0 1 0 -3.3 0M412.51 798.27a1.65 1.65 0 1 0 3.3 0a1.65 1.65 0 1 0 -3.3 0M413.04 783.83a1.65 1.65 0 1 0 3.3 0a1.65 1.65 0 1 0 -3.3 0M413.68 790.51a1.65 1.65 0 1 0 3.3 0a1.65 1.65 0 1 0 -3.3 0M414.46 776.96a1.65 1.65 0 1 0 3.3 0a1.65 1.65 0 1 0 -3.3 0M414.03 780.8a1.65 1.65 0 1 0 3.3 0a1.65 1.65 0 1 0 -3.3 0M416.31 794.39a1.65 1.65 0 1 0 3.3 0a1.65 1.65 0 1 0 -3.3 0M415.7 786.39a1.65 1.65 0 1 0 3.3 0a1.65 1.65 0 1 0 -3.3 0M415.6 800.45a1.65 1.65 0 1 0 3.3 0a1.65 1.65 0 1 0 -3.3 0M417.27 797.71a1.65 1.65 0 1 0 3.3 0a1.65 1.65 0 1 0 -3.3 0M418.63 782.1a1.65 1.65 0 1 0 3.3 0a1.65 1.65 0 1 0 -3.3 0M418.24 791.81a1.65 1.65 0 1 0 3.3 0a1.65 1.65 0 1 0 -3.3 0M419.87 786.88a1.65 1.65 0 1 0 3.3 0a1.65 1.65 0 1 0 -3.3 0M420.46 778.71a1.65 1.65 0 1 0 3.3 0a1.65 1.65 0 1 0 -3.3 0M419.84 795.93a1.65 1.65 0 1 0 3.3 0a1.65 1.65 0 1 0 -3.3 0M419.63 800.17a1.65 1.65 0 1 0 3.3 0a1.65 1.65 0 1 0 -3.3 0M420.84 784.34a1.65 1.65 0 1 0 3.3 0a1.65 1.65 0 1 0 -3.3 0M422.65 791.75a1.65 1.65 0 1 0 3.3 0a1.65 1.65 0 1 0 -3.3 0M422.24 787.68a1.65 1.65 0 1 0 3.3 0a1.65 1.65 0 1 0 -3.3 0M422.48 797.49a1.65 1.65 0 1 0 3.3 0a1.65 1.65 0 1 0 -3.3 0M423.16 781.12a1.65 1.65 0 1 0 3.3 0a1.65 1.65 0 1 0 -3.3 0M424.42 777.92a1.65 1.65 0 1 0 3.3 0a1.65 1.65 0 1 0 -3.3 0M425 794.21a1.65 1.65 0 1 0 3.3 0a1.65 1.65 0 1 0 -3.3 0M426.04 799.49a1.65 1.65 0 1 0 3.3 0a1.65 1.65 0 1 0 -3.3 0M426.7 789.47a1.65 1.65 0 1 0 3.3 0a1.65 1.65 0 1 0 -3.3 0M426.33 783.64a1.65 1.65 0 1 0 3.3 0a1.65 1.65 0 1 0 -3.3 0M427.31 796a1.65 1.65 0 1 0 3.3 0a1.65 1.65 0 1 0 -3.3 0M427.41 780.29a1.65 1.65 0 1 0 3.3 0a1.65 1.65 0 1 0 -3.3 0M428.61 802.17a1.65 1.65 0 1 0 3.3 0a1.65 1.65 0 1 0 -3.3 0M428.59 786.52a1.65 1.65 0 1 0 3.3 0a1.65 1.65 0 1 0 -3.3 0M429.16 792.68a1.65 1.65 0 1 0 3.3 0a1.65 1.65 0 1 0 -3.3 0M431.41 782.66a1.65 1.65 0 1 0 3.3 0a1.65 1.65 0 1 0 -3.3 0M430.96 795.85a1.65 1.65 0 1 0 3.3 0a1.65 1.65 0 1 0 -3.3 0M431.86 788.91a1.65 1.65 0 1 0 3.3 0a1.65 1.65 0 1 0 -3.3 0M433.4 799.23a1.65 1.65 0 1 0 3.3 0a1.65 1.65 0 1 0 -3.3 0M433.11 792.69a1.65 1.65 0 1 0 3.3 0a1.65 1.65 0 1 0 -3.3 0M433.25 776.34a1.65 1.65 0 1 0 3.3 0a1.65 1.65 0 1 0 -3.3 0M433.93 780.64a1.65 1.65 0 1 0 3.3 0a1.65 1.65 0 1 0 -3.3 0M434.12 785.51a1.65 1.65 0 1 0 3.3 0a1.65 1.65 0 1 0 -3.3 0M435.64 791.08a1.65 1.65 0 1 0 3.3 0a1.65 1.65 0 1 0 -3.3 0M435.52 788.01a1.65 1.65 0 1 0 3.3 0a1.65 1.65 0 1 0 -3.3 0M437.16 773.4a1.65 1.65 0 1 0 3.3 0a1.65 1.65 0 1 0 -3.3 0M436.69 777.45a1.65 1.65 0 1 0 3.3 0a1.65 1.65 0 1 0 -3.3 0M437.28 783.06a1.65 1.65 0 1 0 3.3 0a1.65 1.65 0 1 0 -3.3 0M437.84 768.84a1.65 1.65 0 1 0 3.3 0a1.65 1.65 0 1 0 -3.3 0M438.96 771.51a1.65 1.65 0 1 0 3.3 0a1.65 1.65 0 1 0 -3.3 0M439.33 763.29a1.65 1.65 0 1 0 3.3 0a1.65 1.65 0 1 0 -3.3 0M440.52 775.99a1.65 1.65 0 1 0 3.3 0a1.65 1.65 0 1 0 -3.3 0M440.15 755.63a1.65 1.65 0 1 0 3.3 0a1.65 1.65 0 1 0 -3.3 0M441.16 766.99a1.65 1.65 0 1 0 3.3 0a1.65 1.65 0 1 0 -3.3 0M442.58 747.79a1.65 1.65 0 1 0 3.3 0a1.65 1.65 0 1 0 -3.3 0M442.08 739.94a1.65 1.65 0 1 0 3.3 0a1.65 1.65 0 1 0 -3.3 0M443.06 732.64a1.65 1.65 0 1 0 3.3 0a1.65 1.65 0 1 0 -3.3 0M444.17 722.19a1.65 1.65 0 1 0 3.3 0a1.65 1.65 0 1 0 -3.3 0M444.25 716.05a1.65 1.65 0 1 0 3.3 0a1.65 1.65 0 1 0 -3.3 0M444.25 713.65a1.65 1.65 0 1 0 3.3 0a1.65 1.65 0 1 0 -3.3 0M444.13 701.99a1.65 1.65 0 1 0 3.3 0a1.65 1.65 0 1 0 -3.3 0M446.95 694.08a1.65 1.65 0 1 0 3.3 0a1.65 1.65 0 1 0 -3.3 0M446.56 686.69a1.65 1.65 0 1 0 3.3 0a1.65 1.65 0 1 0 -3.3 0M447.57 680.12a1.65 1.65 0 1 0 3.3 0a1.65 1.65 0 1 0 -3.3 0M447.29 673.78a1.65 1.65 0 1 0 3.3 0a1.65 1.65 0 1 0 -3.3 0M449.03 669.86a1.65 1.65 0 1 0 3.3 0a1.65 1.65 0 1 0 -3.3 0M448.98 666.66a1.65 1.65 0 1 0 3.3 0a1.65 1.65 0 1 0 -3.3 0M449.34 664.68a1.65 1.65 0 1 0 3.3 0a1.65 1.65 0 1 0 -3.3 0M449.45 665.86a1.65 1.65 0 1 0 3.3 0a1.65 1.65 0 1 0 -3.3 0M450.68 668.22a1.65 1.65 0 1 0 3.3 0a1.65 1.65 0 1 0 -3.3 0M450.85 671.14a1.65 1.65 0 1 0 3.3 0a1.65 1.65 0 1 0 -3.3 0M451.57 675.37a1.65 1.65 0 1 0 3.3 0a1.65 1.65 0 1 0 -3.3 0M451.46 681.38a1.65 1.65 0 1 0 3.3 0a1.65 1.65 0 1 0 -3.3 0M452.62 687.63a1.65 1.65 0 1 0 3.3 0a1.65 1.65 0 1 0 -3.3 0M453.54 697.05a1.65 1.65 0 1 0 3.3 0a1.65 1.65 0 1 0 -3.3 0M453.43 703.65a1.65 1.65 0 1 0 3.3 0a1.65 1.65 0 1 0 -3.3 0M454.68 714.8a1.65 1.65 0 1 0 3.3 0a1.65 1.65 0 1 0 -3.3 0M455.57 721.95a1.65 1.65 0 1 0 3.3 0a1.65 1.65 0 1 0 -3.3 0M455.68 729.25a1.65 1.65 0 1 0 3.3 0a1.65 1.65 0 1 0 -3.3 0M456.11 738.02a1.65 1.65 0 1 0 3.3 0a1.65 1.65 0 1 0 -3.3 0M456.7 746.05a1.65 1.65 0 1 0 3.3 0a1.65 1.65 0 1 0 -3.3 0M458.08 755.56a1.65 1.65 0 1 0 3.3 0a1.65 1.65 0 1 0 -3.3 0M457.43 751.58a1.65 1.65 0 1 0 3.3 0a1.65 1.65 0 1 0 -3.3 0M458.64 767.2a1.65 1.65 0 1 0 3.3 0a1.65 1.65 0 1 0 -3.3 0M459.17 762.16a1.65 1.65 0 1 0 3.3 0a1.65 1.65 0 1 0 -3.3 0M460.05 775.89a1.65 1.65 0 1 0 3.3 0a1.65 1.65 0 1 0 -3.3 0M460.53 783.37a1.65 1.65 0 1 0 3.3 0a1.65 1.65 0 1 0 -3.3 0M460.61 771.33a1.65 1.65 0 1 0 3.3 0a1.65 1.65 0 1 0 -3.3 0M462.77 790.93a1.65 1.65 0 1 0 3.3 0a1.65 1.65 0 1 0 -3.3 0M462.44 780.46a1.65 1.65 0 1 0 3.3 0a1.65 1.65 0 1 0 -3.3 0M462.27 787.85a1.65 1.65 0 1 0 3.3 0a1.65 1.65 0 1 0 -3.3 0M463.09 794.74a1.65 1.65 0 1 0 3.3 0a1.65 1.65 0 1 0 -3.3 0M464.17 777.06a1.65 1.65 0 1 0 3.3 0a1.65 1.65 0 1 0 -3.3 0M465.02 782.14a1.65 1.65 0 1 0 3.3 0a1.65 1.65 0 1 0 -3.3 0M464.64 797.03a1.65 1.65 0 1 0 3.3 0a1.65 1.65 0 1 0 -3.3 0M466.26 786.42a1.65 1.65 0 1 0 3.3 0a1.65 1.65 0 1 0 -3.3 0M465.81 789.71a1.65 1.65 0 1 0 3.3 0a1.65 1.65 0 1 0 -3.3 0M466.69 794.02a1.65 1.65 0 1 0 3.3 0a1.65 1.65 0 1 0 -3.3 0M468.11 798.22a1.65 1.65 0 1 0 3.3 0a1.65 1.65 0 1 0 -3.3 0M469.12 783.04a1.65 1.65 0 1 0 3.3 0a1.65 1.65 0 1 0 -3.3 0M468.82 787.16a1.65 1.65 0 1 0 3.3 0a1.65 1.65 0 1 0 -3.3 0M469.3 791.07a1.65 1.65 0 1 0 3.3 0a1.65 1.65 0 1 0 -3.3 0M470.68 795.66a1.65 1.65 0 1 0 3.3 0a1.65 1.65 0 1 0 -3.3 0M470.11 780.58a1.65 1.65 0 1 0 3.3 0a1.65 1.65 0 1 0 -3.3 0M471.37 788.83a1.65 1.65 0 1 0 3.3 0a1.65 1.65 0 1 0 -3.3 0M471.94 785.81a1.65 1.65 0 1 0 3.3 0a1.65 1.65 0 1 0 -3.3 0M472.93 781.33a1.65 1.65 0 1 0 3.3 0a1.65 1.65 0 1 0 -3.3 0M473.16 799.22a1.65 1.65 0 1 0 3.3 0a1.65 1.65 0 1 0 -3.3 0M473.47 791.46a1.65 1.65 0 1 0 3.3 0a1.65 1.65 0 1 0 -3.3 0M474.51 784.21a1.65 1.65 0 1 0 3.3 0a1.65 1.65 0 1 0 -3.3 0M474.23 778.46a1.65 1.65 0 1 0 3.3 0a1.65 1.65 0 1 0 -3.3 0M475.79 796.48a1.65 1.65 0 1 0 3.3 0a1.65 1.65 0 1 0 -3.3 0M475.64 788.82a1.65 1.65 0 1 0 3.3 0a1.65 1.65 0 1 0 -3.3 0M476.11 799.36a1.65 1.65 0 1 0 3.3 0a1.65 1.65 0 1 0 -3.3 0M476.98 792.84a1.65 1.65 0 1 0 3.3 0a1.65 1.65 0 1 0 -3.3 0M477.78 785.66a1.65 1.65 0 1 0 3.3 0a1.65 1.65 0 1 0 -3.3 0M478.7 780.75a1.65 1.65 0 1 0 3.3 0a1.65 1.65 0 1 0 -3.3 0M478.83 794.96a1.65 1.65 0 1 0 3.3 0a1.65 1.65 0 1 0 -3.3 0M479.9 789.8a1.65 1.65 0 1 0 3.3 0a1.65 1.65 0 1 0 -3.3 0M480.61 799.07a1.65 1.65 0 1 0 3.3 0a1.65 1.65 0 1 0 -3.3 0M480.66 786.82a1.65 1.65 0 1 0 3.3 0a1.65 1.65 0 1 0 -3.3 0M480.82 784.35a1.65 1.65 0 1 0 3.3 0a1.65 1.65 0 1 0 -3.3 0M482.36 795.62a1.65 1.65 0 1 0 3.3 0a1.65 1.65 0 1 0 -3.3 0M482.63 778.31a1.65 1.65 0 1 0 3.3 0a1.65 1.65 0 1 0 -3.3 0M482.03 782.02a1.65 1.65 0 1 0 3.3 0a1.65 1.65 0 1 0 -3.3 0M483.19 792.66a1.65 1.65 0 1 0 3.3 0a1.65 1.65 0 1 0 -3.3 0M484.34 802.59a1.65 1.65 0 1 0 3.3 0a1.65 1.65 0 1 0 -3.3 0M484.18 785.9a1.65 1.65 0 1 0 3.3 0a1.65 1.65 0 1 0 -3.3 0M485.12 798.21a1.65 1.65 0 1 0 3.3 0a1.65 1.65 0 1 0 -3.3 0M485.19 788.88a1.65 1.65 0 1 0 3.3 0a1.65 1.65 0 1 0 -3.3 0M486.84 780.2a1.65 1.65 0 1 0 3.3 0a1.65 1.65 0 1 0 -3.3 0M487.36 792.79a1.65 1.65 0 1 0 3.3 0a1.65 1.65 0 1 0 -3.3 0M487.92 783.87a1.65 1.65 0 1 0 3.3 0a1.65 1.65 0 1 0 -3.3 0M489.14 789.25a1.65 1.65 0 1 0 3.3 0a1.65 1.65 0 1 0 -3.3 0M488.84 799.32a1.65 1.65 0 1 0 3.3 0a1.65 1.65 0 1 0 -3.3 0M489.46 780.13a1.65 1.65 0 1 0 3.3 0a1.65 1.65 0 1 0 -3.3 0M491.21 795.39a1.65 1.65 0 1 0 3.3 0a1.65 1.65 0 1 0 -3.3 0M490.14 793.16a1.65 1.65 0 1 0 3.3 0a1.65 1.65 0 1 0 -3.3 0M491.75 799.95a1.65 1.65 0 1 0 3.3 0a1.65 1.65 0 1 0 -3.3 0M491.32 785.75a1.65 1.65 0 1 0 3.3 0a1.65 1.65 0 1 0 -3.3 0M492.69 788.44a1.65 1.65 0 1 0 3.3 0a1.65 1.65 0 1 0 -3.3 0M494.22 792.57a1.65 1.65 0 1 0 3.3 0a1.65 1.65 0 1 0 -3.3 0M493.89 778.8a1.65 1.65 0 1 0 3.3 0a1.65 1.65 0 1 0 -3.3 0M493.96 797.5a1.65 1.65 0 1 0 3.3 0a1.65 1.65 0 1 0 -3.3 0M496.13 785.47a1.65 1.65 0 1 0 3.3 0a1.65 1.65 0 1 0 -3.3 0M495.26 781.55a1.65 1.65 0 1 0 3.3 0a1.65 1.65 0 1 0 -3.3 0M496.02 789.04a1.65 1.65 0 1 0 3.3 0a1.65 1.65 0 1 0 -3.3 0M496.87 801.04a1.65 1.65 0 1 0 3.3 0a1.65 1.65 0 1 0 -3.3 0M496.64 794.99a1.65 1.65 0 1 0 3.3 0a1.65 1.65 0 1 0 -3.3 0M498.46 782.62a1.65 1.65 0 1 0 3.3 0a1.65 1.65 0 1 0 -3.3 0M499.3 798a1.65 1.65 0 1 0 3.3 0a1.65 1.65 0 1 0 -3.3 0M499.47 778.21a1.65 1.65 0 1 0 3.3 0a1.65 1.65 0 1 0 -3.3 0M499.84 791.31a1.65 1.65 0 1 0 3.3 0a1.65 1.65 0 1 0 -3.3 0M500.2 786.92a1.65 1.65 0 1 0 3.3 0a1.65 1.65 0 1 0 -3.3 0M501.31 794.1a1.65 1.65 0 1 0 3.3 0a1.65 1.65 0 1 0 -3.3 0M499.88 784.69a1.65 1.65 0 1 0 3.3 0a1.65 1.65 0 1 0 -3.3 0M501.99 789.03a1.65 1.65 0 1 0 3.3 0a1.65 1.65 0 1 0 -3.3 0M502.77 798.74a1.65 1.65 0 1 0 3.3 0a1.65 1.65 0 1 0 -3.3 0M502.24 780.36a1.65 1.65 0 1 0 3.3 0a1.65 1.65 0 1 0 -3.3 0M504.04 784.18a1.65 1.65 0 1 0 3.3 0a1.65 1.65 0 1 0 -3.3 0M504.36 793.3a1.65 1.65 0 1 0 3.3 0a1.65 1.65 0 1 0 -3.3 0M504.99 775.36a1.65 1.65 0 1 0 3.3 0a1.65 1.65 0 1 0 -3.3 0M505.65 789.11a1.65 1.65 0 1 0 3.3 0a1.65 1.65 0 1 0 -3.3 0M506.48 779.84a1.65 1.65 0 1 0 3.3 0a1.65 1.65 0 1 0 -3.3 0M507.02 771.51a1.65 1.65 0 1 0 3.3 0a1.65 1.65 0 1 0 -3.3 0M506.86 767.38a1.65 1.65 0 1 0 3.3 0a1.65 1.65 0 1 0 -3.3 0M507.92 763.14a1.65 1.65 0 1 0 3.3 0a1.65 1.65 0 1 0 -3.3 0M508.48 776.47a1.65 1.65 0 1 0 3.3 0a1.65 1.65 0 1 0 -3.3 0M509.18 754.57a1.65 1.65 0 1 0 3.3 0a1.65 1.65 0 1 0 -3.3 0M509.46 749.02a1.65 1.65 0 1 0 3.3 0a1.65 1.65 0 1 0 -3.3 0M510.83 758.96a1.65 1.65 0 1 0 3.3 0a1.65 1.65 0 1 0 -3.3 0M511.59 740.4a1.65 1.65 0 1 0 3.3 0a1.65 1.65 0 1 0 -3.3 0M512.29 731.27a1.65 1.65 0 1 0 3.3 0a1.65 1.65 0 1 0 -3.3 0M513.08 725.33a1.65 1.65 0 1 0 3.3 0a1.65 1.65 0 1 0 -3.3 0M513.46 717.65a1.65 1.65 0 1 0 3.3 0a1.65 1.65 0 1 0 -3.3 0M513.08 710.32a1.65 1.65 0 1 0 3.3 0a1.65 1.65 0 1 0 -3.3 0M513.59 699.78a1.65 1.65 0 1 0 3.3 0a1.65 1.65 0 1 0 -3.3 0M514.29 692.95a1.65 1.65 0 1 0 3.3 0a1.65 1.65 0 1 0 -3.3 0M515.36 686.08a1.65 1.65 0 1 0 3.3 0a1.65 1.65 0 1 0 -3.3 0M515.61 678.82a1.65 1.65 0 1 0 3.3 0a1.65 1.65 0 1 0 -3.3 0M516.77 674.54a1.65 1.65 0 1 0 3.3 0a1.65 1.65 0 1 0 -3.3 0M517.69 668.6a1.65 1.65 0 1 0 3.3 0a1.65 1.65 0 1 0 -3.3 0M517.24 665.19a1.65 1.65 0 1 0 3.3 0a1.65 1.65 0 1 0 -3.3 0M518.54 663.26a1.65 1.65 0 1 0 3.3 0a1.65 1.65 0 1 0 -3.3 0M518.44 665.55a1.65 1.65 0 1 0 3.3 0a1.65 1.65 0 1 0 -3.3 0M518.6 666.53a1.65 1.65 0 1 0 3.3 0a1.65 1.65 0 1 0 -3.3 0M519.19 669.59a1.65 1.65 0 1 0 3.3 0a1.65 1.65 0 1 0 -3.3 0M520.26 673.44a1.65 1.65 0 1 0 3.3 0a1.65 1.65 0 1 0 -3.3 0M520.06 678.52a1.65 1.65 0 1 0 3.3 0a1.65 1.65 0 1 0 -3.3 0M521.85 685.17a1.65 1.65 0 1 0 3.3 0a1.65 1.65 0 1 0 -3.3 0M522.95 692.23a1.65 1.65 0 1 0 3.3 0a1.65 1.65 0 1 0 -3.3 0M522.21 700.8a1.65 1.65 0 1 0 3.3 0a1.65 1.65 0 1 0 -3.3 0M523.21 709.93a1.65 1.65 0 1 0 3.3 0a1.65 1.65 0 1 0 -3.3 0M524.75 718.53a1.65 1.65 0 1 0 3.3 0a1.65 1.65 0 1 0 -3.3 0M524.74 729.39a1.65 1.65 0 1 0 3.3 0a1.65 1.65 0 1 0 -3.3 0M525.26 735.99a1.65 1.65 0 1 0 3.3 0a1.65 1.65 0 1 0 -3.3 0M525.62 745.34a1.65 1.65 0 1 0 3.3 0a1.65 1.65 0 1 0 -3.3 0M526.85 755.03a1.65 1.65 0 1 0 3.3 0a1.65 1.65 0 1 0 -3.3 0M527.1 761.24a1.65 1.65 0 1 0 3.3 0a1.65 1.65 0 1 0 -3.3 0M526.99 765.95a1.65 1.65 0 1 0 3.3 0a1.65 1.65 0 1 0 -3.3 0M526.91 773.07a1.65 1.65 0 1 0 3.3 0a1.65 1.65 0 1 0 -3.3 0M527.37 778.41a1.65 1.65 0 1 0 3.3 0a1.65 1.65 0 1 0 -3.3 0M529.64 784.6a1.65 1.65 0 1 0 3.3 0a1.65 1.65 0 1 0 -3.3 0M529.77 770.23a1.65 1.65 0 1 0 3.3 0a1.65 1.65 0 1 0 -3.3 0M531.22 790.03a1.65 1.65 0 1 0 3.3 0a1.65 1.65 0 1 0 -3.3 0M531.34 776.64a1.65 1.65 0 1 0 3.3 0a1.65 1.65 0 1 0 -3.3 0M531.04 792.71a1.65 1.65 0 1 0 3.3 0a1.65 1.65 0 1 0 -3.3 0M532.41 780.75a1.65 1.65 0 1 0 3.3 0a1.65 1.65 0 1 0 -3.3 0M533.46 797.31a1.65 1.65 0 1 0 3.3 0a1.65 1.65 0 1 0 -3.3 0M533 786.75a1.65 1.65 0 1 0 3.3 0a1.65 1.65 0 1 0 -3.3 0M533.79 791.59a1.65 1.65 0 1 0 3.3 0a1.65 1.65 0 1 0 -3.3 0M535.51 777.6a1.65 1.65 0 1 0 3.3 0a1.65 1.65 0 1 0 -3.3 0M534.36 782.44a1.65 1.65 0 1 0 3.3 0a1.65 1.65 0 1 0 -3.3 0M535.28 800.76a1.65 1.65 0 1 0 3.3 0a1.65 1.65 0 1 0 -3.3 0M536.94 788.53a1.65 1.65 0 1 0 3.3 0a1.65 1.65 0 1 0 -3.3 0M537.11 793.99a1.65 1.65 0 1 0 3.3 0a1.65 1.65 0 1 0 -3.3 0M537.03 784.67a1.65 1.65 0 1 0 3.3 0a1.65 1.65 0 1 0 -3.3 0M537.47 780.6a1.65 1.65 0 1 0 3.3 0a1.65 1.65 0 1 0 -3.3 0M539.02 799.04a1.65 1.65 0 1 0 3.3 0a1.65 1.65 0 1 0 -3.3 0M539.99 795.69a1.65 1.65 0 1 0 3.3 0a1.65 1.65 0 1 0 -3.3 0M540.39 786.42a1.65 1.65 0 1 0 3.3 0a1.65 1.65 0 1 0 -3.3 0M540.77 784.33a1.65 1.65 0 1 0 3.3 0a1.65 1.65 0 1 0 -3.3 0M541.91 792.86a1.65 1.65 0 1 0 3.3 0a1.65 1.65 0 1 0 -3.3 0M541.91 781.54a1.65 1.65 0 1 0 3.3 0a1.65 1.65 0 1 0 -3.3 0M541.93 801.71a1.65 1.65 0 1 0 3.3 0a1.65 1.65 0 1 0 -3.3 0M543.95 797.73a1.65 1.65 0 1 0 3.3 0a1.65 1.65 0 1 0 -3.3 0M542.91 790.3a1.65 1.65 0 1 0 3.3 0a1.65 1.65 0 1 0 -3.3 0M544.05 787.32a1.65 1.65 0 1 0 3.3 0a1.65 1.65 0 1 0 -3.3 0M544.68 780.44a1.65 1.65 0 1 0 3.3 0a1.65 1.65 0 1 0 -3.3 0M546.02 783.87a1.65 1.65 0 1 0 3.3 0a1.65 1.65 0 1 0 -3.3 0M545.52 793.22a1.65 1.65 0 1 0 3.3 0a1.65 1.65 0 1 0 -3.3 0M546.35 798.75a1.65 1.65 0 1 0 3.3 0a1.65 1.65 0 1 0 -3.3 0M546.19 777.82a1.65 1.65 0 1 0 3.3 0a1.65 1.65 0 1 0 -3.3 0M547.85 788.93a1.65 1.65 0 1 0 3.3 0a1.65 1.65 0 1 0 -3.3 0M548.49 795.45a1.65 1.65 0 1 0 3.3 0a1.65 1.65 0 1 0 -3.3 0M549.19 780.92a1.65 1.65 0 1 0 3.3 0a1.65 1.65 0 1 0 -3.3 0M548.99 793.21a1.65 1.65 0 1 0 3.3 0a1.65 1.65 0 1 0 -3.3 0M550.16 798.11a1.65 1.65 0 1 0 3.3 0a1.65 1.65 0 1 0 -3.3 0M550.2 785.61a1.65 1.65 0 1 0 3.3 0a1.65 1.65 0 1 0 -3.3 0M550.99 790.35a1.65 1.65 0 1 0 3.3 0a1.65 1.65 0 1 0 -3.3 0M551.79 782.82a1.65 1.65 0 1 0 3.3 0a1.65 1.65 0 1 0 -3.3 0M553.06 779.57a1.65 1.65 0 1 0 3.3 0a1.65 1.65 0 1 0 -3.3 0M552.79 795.09a1.65 1.65 0 1 0 3.3 0a1.65 1.65 0 1 0 -3.3 0M553.69 787.02a1.65 1.65 0 1 0 3.3 0a1.65 1.65 0 1 0 -3.3 0M553.77 800.81a1.65 1.65 0 1 0 3.3 0a1.65 1.65 0 1 0 -3.3 0M554.5 784.28a1.65 1.65 0 1 0 3.3 0a1.65 1.65 0 1 0 -3.3 0M555.03 797.88a1.65 1.65 0 1 0 3.3 0a1.65 1.65 0 1 0 -3.3 0M555.89 791.28a1.65 1.65 0 1 0 3.3 0a1.65 1.65 0 1 0 -3.3 0M556.95 795.09a1.65 1.65 0 1 0 3.3 0a1.65 1.65 0 1 0 -3.3 0M556.6 786.9a1.65 1.65 0 1 0 3.3 0a1.65 1.65 0 1 0 -3.3 0M558.11 779.24a1.65 1.65 0 1 0 3.3 0a1.65 1.65 0 1 0 -3.3 0' fill='#fff' stroke='#000' stroke-width='1.2'/>
<path d='M400 788.8 400.53 788.8 401.07 788.8 401.6 788.8 402.13 788.8 402.67 788.8 403.2 788.8 403.73 788.8 404.26 788.8 404.8 788.8 405.33 788.8 405.86 788.8 406.4 788.8 406.93 788.8 407.46 788.8 408 788.8 408.53 788.8 409.06 788.8 409.6 788.8 410.13 788.8 410.66 788.8 411.2 788.8 411.73 788.8 412.26 788.8 412.79 788.8 413.33 788.8 413.86 788.8 414.39 788.8 414.93 788.8 415.46 788.8 415.99 788.8 416.53 788.8 417.06 788.8 417.59 788.8 418.13 788.8 418.66 788.8 419.19 788.8 419.73 788.8 420.26 788.8 420.79 788.8 421.32 788.8 421.86 788.8 422.39 788.8 422.92 788.8 423.46 788.8 423.99 788.8 424.52 788.8 425.06 788.8 425.59 788.8 426.12 788.8 426.66 788.8 427.19 788.8 427.72 788.79 428.25 788.79 428.79 788.79 429.32 788.78 429.85 788.77 430.39 788.75 430.92 788.73 431.45 788.7 431.99 788.65 432.52 788.58 433.05 788.49 433.59 788.36 434.12 788.19 434.65 787.96 435.19 787.65 435.72 787.24 436.25 786.71 436.78 786.03 437.32 785.17 437.85 784.08 438.38 782.73 438.92 781.06 439.45 779.05 439.98 776.62 440.52 773.76 441.05 770.4 441.58 766.52 442.12 762.09 442.65 757.1 443.18 751.56 443.72 745.5 444.25 738.95 444.78 731.99 445.31 724.71 445.85 717.23 446.38 709.68 446.91 702.21 447.45 694.99 447.98 688.19 448.51 681.98 449.05 676.54 449.58 672 450.11 668.5 450.65 666.15 451.18 665.01 451.71 665.11 452.24 666.46 452.78 669.02 453.31 672.7 453.84 677.4 454.38 682.98 454.91 689.3 455.44 696.19 455.98 703.46 456.51 710.95 457.04 718.5 457.58 725.96 458.11 733.19 458.64 740.09 459.18 746.56 459.71 752.54 460.24 757.98 460.77 762.88 461.31 767.21 461.84 771 462.37 774.27 462.91 777.07 463.44 779.42 463.97 781.37 464.51 782.98 465.04 784.28 465.57 785.33 466.11 786.16 466.64 786.81 467.17 787.32 467.71 787.71 468.24 788 468.77 788.22 469.3 788.39 469.84 788.51 470.37 788.6 470.9 788.66 471.44 788.7 471.97 788.73 472.5 788.76 473.04 788.77 473.57 788.78 474.1 788.79 474.64 788.79 475.17 788.79 475.7 788.8 476.23 788.8 476.77 788.8 477.3 788.8 477.83 788.8 478.37 788.8 478.9 788.8 479.43 788.8 479.97 788.8 480.5 788.8 481.03 788.8 481.57 788.8 482.1 788.8 482.63 788.8 483.17 788.8 483.7 788.8 484.23 788.8 484.76 788.8 485.3 788.8 485.83 788.8 486.36 788.8 486.9 788.8 487.43 788.8 487.96 788.8 488.5 788.8 489.03 788.8 489.56 788.8 490.1 788.8 490.63 788.8 491.16 788.8 491.69 788.8 492.23 788.8 492.76 788.8 493.29 788.8 493.83 788.8 494.36 788.8 494.89 788.8 495.43 788.8 495.96 788.8 496.49 788.79 497.03 788.79 497.56 788.79 498.09 788.78 498.63 788.77 499.16 788.75 499.69 788.73 500.22 788.7 500.76 788.65 501.29 788.58 501.82 788.49 502.36 788.37 502.89 788.19 503.42 787.96 503.96 787.65 504.49 787.25 505.02 786.72 505.56 786.04 506.09 785.17 506.62 784.09 507.16 782.73 507.69 781.06 508.22 779.04 508.75 776.61 509.29 773.73 509.82 770.36 510.35 766.45 510.89 762 511.42 756.98 511.95 751.4 512.49 745.28 513.02 738.67 513.55 731.65 514.09 724.29 514.62 716.72 515.15 709.07 515.68 701.49 516.22 694.16 516.75 687.25 517.28 680.92 517.82 675.36 518.35 670.71 518.88 667.11 519.42 664.66 519.95 663.44 520.48 663.48 521.02 664.78 521.55 667.3 522.08 670.97 522.62 675.68 523.15 681.29 523.68 687.66 524.21 694.6 524.75 701.95 525.28 709.54 525.81 717.19 526.35 724.75 526.88 732.09 527.41 739.09 527.95 745.67 528.48 751.76 529.01 757.3 529.55 762.29 530.08 766.71 530.61 770.58 531.15 773.92 531.68 776.77 532.21 779.18 532.74 781.18 533.28 782.82 533.81 784.16 534.34 785.23 534.88 786.09 535.41 786.76 535.94 787.28 536.48 787.68 537.01 787.98 537.54 788.21 538.08 788.37 538.61 788.5 539.14 788.59 539.67 788.65 540.21 788.7 540.74 788.73 541.27 788.75 541.81 788.77 542.34 788.78 542.87 788.79 543.41 788.79 543.94 788.79 544.47 788.8 545.01 788.8 545.54 788.8 546.07 788.8 546.61 788.8 547.14 788.8 547.67 788.8 548.2 788.8 548.74 788.8 549.27 788.8 549.8 788.8 550.34 788.8 550.87 788.8 551.4 788.8 551.94 788.8 552.47 788.8 553 788.8 553.54 788.8 554.07 788.8 554.6 788.8 555.14 788.8 555.67 788.8 556.2 788.8 556.73 788.8 557.27 788.8 557.8 788.8 558.33 788.8 558.87 788.8 559.4 788.8' fill='none' stroke='#f00' stroke-width='1.8'/>
<path d='M381.2 644.3V807.5H580.3' fill='none' stroke='#000' stroke-width='2.1'/>
<path d='M374.2 807.5H381.2M374.2 775.06H381.2M374.2 742.62H381.2M374.2 710.18H381.2M374.2 677.74H381.2M374.2 645.3H381.2M400.9 807.5V814.5M460.5 807.5V814.5M520.6 807.5V814.5M580.3 807.5V814.5' fill='none' stroke='#000' stroke-width='2.1'/>
<text x='343.88' y='810.47' font-size='9' textLength='26.98' lengthAdjust='spacing'>178000</text>
<text x='343.88' y='778.03' font-size='9' textLength='26.98' lengthAdjust='spacing'>179000</text>
<text x='343.88' y='745.59' font-size='9' textLength='26.98' lengthAdjust='spacing'>180000</text>
<text x='343.88' y='713.15' font-size='9' textLength='26.98' lengthAdjust='spacing'>181000</text>
<text x='343.88' y='680.71' font-size='9' textLength='26.98' lengthAdjust='spacing'>182000</text>
<text x='343.88' y='648.27' font-size='9' textLength='26.98' lengthAdjust='spacing'>183000</text>
<text x='384.23' y='825' font-size='9' textLength='32.8' lengthAdjust='spacing'>1903.110</text>
<text x='443.83' y='825' font-size='9' textLength='32.8' lengthAdjust='spacing'>1903.125</text>
<text x='503.93' y='825' font-size='9' textLength='32.8' lengthAdjust='spacing'>1903.140</text>
<text x='563.63' y='825' font-size='9' textLength='32.8' lengthAdjust='spacing'>1903.155</text>
<text x='390.6' y='684.9' font-size='16' textLength='42.1' lengthAdjust='spacingAndGlyphs'>R (29)</text>
<text x='431.5' y='848.6' font-size='12.6'>Wavenumber/ cm<tspan font-size='6.5' dx='1' dy='-6.8'>-1</tspan></text>
<text transform='translate(324.7 777) rotate(-90)' font-size='12.6'>Decay rate (k)/sec<tspan font-size='7' dy='-6.5'>-1</tspan></text>
</svg>
</body></html>
